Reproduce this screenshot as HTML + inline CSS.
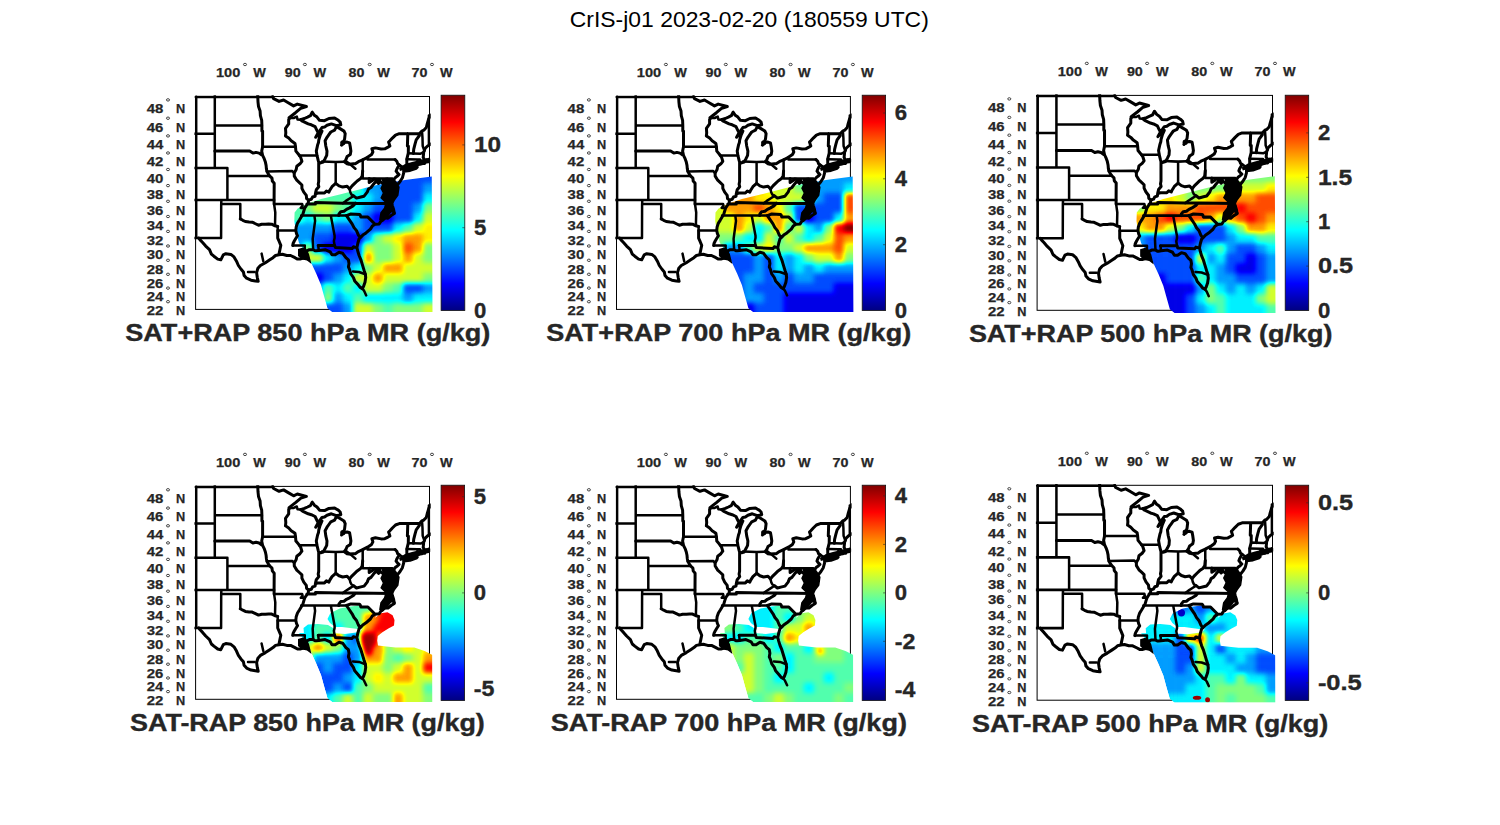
<!DOCTYPE html><html><head><meta charset="utf-8"><style>html,body{margin:0;padding:0;background:#fff;overflow:hidden}svg{display:block}text{font-family:"Liberation Sans",sans-serif}</style></head><body>
<svg width="1500" height="825" viewBox="0 0 1500 825">
<rect width="1500" height="825" fill="#fff"/>
<defs>
<linearGradient id="jet" x1="0" y1="1" x2="0" y2="0"><stop offset="0" stop-color="#000080"/><stop offset="0.125" stop-color="#0000ff"/><stop offset="0.375" stop-color="#00ffff"/><stop offset="0.625" stop-color="#ffff00"/><stop offset="0.875" stop-color="#ff0000"/><stop offset="1" stop-color="#800000"/></linearGradient>
<filter id="blr" x="-10%" y="-10%" width="120%" height="120%" color-interpolation-filters="sRGB"><feGaussianBlur stdDeviation="2.6"/><feComponentTransfer><feFuncR type="table" tableValues="0 0 0 0 0.5 1 1 1 0.5"/><feFuncG type="table" tableValues="0 0 0.5 1 1 1 0.5 0 0"/><feFuncB type="table" tableValues="0.5 1 1 1 0.5 0 0 0 0"/></feComponentTransfer></filter>
<clipPath id="mclip"><rect x="194.4" y="95.3" width="236.3" height="215.29999999999998"/></clipPath><g id="map" clip-path="url(#mclip)"><path d="M381.5,178.6 387.6,177.4 396.1,181.0 399.7,187.1 398.5,195.6 394.9,200.4 392.4,205.3 396.1,213.7 391.2,212.5 387.6,217.4 382.7,222.2 379.1,219.8 380.3,212.5 384.0,207.7 385.2,202.8 380.3,198.0 382.7,193.1 380.3,188.3 382.7,183.4Z M399.0,168.0 405.0,164.0 412.0,162.0 420.0,160.0 427.0,158.0 429.5,159.5 428.0,162.0 420.0,165.0 412.0,167.5 405.0,169.5 400.0,171.0Z M298.0,249.0 303.0,247.5 307.0,250.0 309.0,254.0 311.5,264.0 307.0,260.5 302.0,259.5 298.0,256.0Z" fill="#000"/><circle cx="342.8" cy="142.8" r="2.6" fill="#000"/><path d="M214.8,95.1 214.8,167.9 M193.2,133.7 214.8,133.7 M214.8,125.4 261.9,125.4 M193.2,167.9 227.4,167.9 227.4,200.1 M227.4,176.1 269.8,176.1 M193.2,200.1 274.1,200.1 M221.4,200.1 221.2,204.0 221.1,238.0 198.7,238.0 193.2,238.0 M221.2,204.0 240.3,204.0 240.3,218.9 M262.6,146.8 295.5,146.8 M266.9,171.4 292.3,171.1 294.2,173.0 M274.1,204.0 302.2,204.0 302.6,205.8 300.8,207.9 304.8,207.9 M274.1,204.0 275.3,212.5 275.0,225.8 M277.7,226.5 277.7,230.5 295.8,230.5 M292.8,245.4 304.8,245.4 304.7,248.3 305.6,251.2 M299.1,155.4 317.0,155.4 M335.7,183.4 335.7,162.1 322.0,161.6 M335.7,162.1 344.3,161.8 M362.7,159.6 362.7,178.4 M367.5,157.3 367.5,159.6 395.1,159.6 M399.3,164.9 404.3,168.0 M362.7,178.4 392.4,178.4 392.4,188.6 397.1,188.6 M353.6,195.9 351.5,194.6 350.3,192.2 349.6,189.0 M353.6,195.9 349.6,198.5 345.9,200.9 342.8,203.2 M301.2,215.6 338.8,215.6 346.5,215.6 M314.4,215.6 315.1,220.9 312.7,238.8 313.2,249.7 M330.8,215.6 334.6,235.8 334.6,238.0 333.9,241.0 334.6,245.4 M318.2,245.4 318.8,250.5 M408.3,153.3 413.4,153.4 420.6,153.7 423.7,152.2 M422.0,131.0 422.5,138.1 422.7,146.0 424.4,150.7 M406.8,159.2 417.5,159.4 420.1,159.4 421.8,163.8 M417.5,159.4 417.5,165.3 M300.6,119.7 297.5,119.4 296.8,116.6 293.7,118.0 289.9,118.0 M362.5,288.5 364.2,291.0 366.2,295.4 M196.2,96.5 196.2,238.0 M195.6,97.0 272.7,97.0 M428.9,115.5 428.9,144.0 M353.0,271.5 359.0,272.0 365.5,274.3 M345.7,160.9 350.5,164.5 355.4,168.7 M254.6,272.1 248.0,272.1 M263.3,261.2 261.6,253.6" fill="none" stroke="#000" stroke-width="2.5" stroke-linejoin="round" stroke-linecap="round"/><path d="M214.8,151.1 249.7,151.1 252.9,153.1 256.0,152.4 259.1,153.1 261.5,154.9 262.6,155.4 M240.3,218.9 242.8,220.3 245.3,221.5 249.1,222.0 252.2,222.2 256.0,224.0 258.5,225.2 261.7,224.3 265.4,224.3 268.6,224.0 271.7,224.2 275.0,225.8 277.7,226.5 M269.8,176.1 272.0,178.2 272.3,181.0 274.2,183.3 274.1,200.1 274.1,204.0 M262.6,155.4 264.2,158.7 265.4,162.1 266.1,165.4 266.4,168.8 266.9,171.4 268.6,174.5 269.8,176.1 M261.9,125.4 261.9,131.1 262.6,131.1 262.6,146.8 261.7,151.1 262.6,155.4 M257.7,95.1 258.0,101.8 258.5,106.5 260.1,111.1 260.4,115.7 261.7,120.3 261.9,125.4 M277.7,230.5 277.7,238.1 279.3,241.7 280.8,245.4 279.9,249.7 279.3,252.6 278.9,254.8 M285.5,135.9 288.7,138.1 291.2,140.8 295.0,143.4 295.5,146.8 295.9,151.1 298.7,154.5 300.6,157.1 301.9,161.3 300.0,163.8 296.8,166.3 296.2,169.6 294.2,173.0 294.3,176.1 296.8,180.2 299.4,182.6 301.9,185.0 301.9,188.3 303.8,192.2 306.3,195.4 306.6,198.5 308.6,200.1 308.2,203.2 306.3,205.6 304.8,207.9 303.8,211.0 302.8,214.4 301.2,217.1 299.4,220.1 297.5,223.1 296.2,226.9 295.8,230.5 296.5,233.6 297.5,235.8 295.6,238.8 294.3,241.0 293.1,243.5 292.8,245.4 M289.9,118.0 288.7,119.4 288.7,123.9 285.5,128.4 285.8,132.8 285.5,135.9 M318.7,161.6 318.7,181.4 318.2,184.2 318.8,186.7 316.3,189.8 315.7,192.2 315.4,193.8 M308.6,200.1 311.3,199.3 312.6,197.0 315.1,196.2 315.4,193.8 318.2,193.0 322.0,193.0 324.5,193.0 326.4,191.0 328.9,192.2 329.8,190.2 332.0,186.7 335.7,183.4 339.0,185.9 342.7,187.1 347.1,186.3 349.6,189.0 352.1,185.9 354.7,183.4 357.2,181.0 360.6,178.6 362.2,176.1 362.7,170.9 M395.1,159.6 396.8,161.3 397.7,163.8 399.3,164.9 398.0,167.1 396.8,169.2 396.1,171.2 397.4,172.9 399.0,174.5 397.4,176.1 395.5,177.4 393.9,179.4 M369.2,178.4 369.2,182.6 372.3,180.6 373.7,179.0 376.7,179.4 379.8,180.2 380.3,181.7 M380.3,181.7 378.5,183.4 376.3,181.0 373.5,184.2 371.0,187.5 368.5,189.0 367.2,192.2 364.1,196.2 360.9,197.0 356.5,198.1 353.6,195.9 M306.9,204.0 315.4,204.0 315.4,202.6 342.8,203.2 355.6,203.2 391.9,203.6 M355.6,203.2 353.4,205.6 349.6,207.9 346.5,209.4 344.0,211.3 340.8,211.7 339.0,214.0 338.8,215.6 M346.5,215.6 350.9,214.0 359.7,214.4 360.3,215.2 360.9,217.1 367.9,217.1 375.1,224.3 M346.5,215.6 349.0,219.4 352.1,223.9 354.0,227.6 356.5,230.6 358.4,235.1 360.3,237.7 M318.2,245.4 334.6,245.4 335.4,247.6 352.1,248.5 353.4,246.8 355.0,247.2 356.9,247.6 M380.3,181.7 381.7,182.6 383.6,184.2 384.5,185.9 383.6,188.3 384.8,189.8 388.0,191.4 389.2,192.6 M399.3,133.7 419.4,133.6 422.0,131.0 423.8,130.2 426.3,127.5 427.2,123.9 428.8,118.5 431.3,114.8 M407.8,133.6 407.4,146.0 408.4,146.2 408.3,153.2 406.8,159.2 406.9,165.4 405.8,167.9 M413.4,153.4 413.7,149.4 415.0,144.2 416.2,139.9 419.4,135.5 419.4,133.6 M399.3,133.7 395.5,135.1 392.4,138.1 389.9,140.8 388.6,142.1 389.9,146.0 388.0,147.2 384.8,148.8 381.1,149.0 375.4,147.9 371.9,148.8 372.9,152.0 371.6,154.5 367.5,157.3 M344.3,161.8 347.1,163.8 349.0,164.2 353.4,163.8 355.3,163.8 358.4,161.7 362.7,159.8 367.5,157.3 M300.6,119.7 302.5,121.2 308.2,123.9 311.3,124.8 315.1,126.6 317.0,130.6 318.2,132.8 315.7,137.3 318.2,134.6 322.0,131.1 320.1,135.5 318.8,139.9 318.5,142.5 317.6,145.1 316.3,151.1 317.0,155.4 318.2,160.4 318.7,162.1 320.7,162.9 323.2,162.1 325.1,158.7 326.7,155.4 327.0,151.1 325.8,146.0 325.1,140.8 327.0,137.3 328.9,134.6 330.8,132.0 334.6,130.2 336.4,126.6 M336.4,126.6 339.6,128.4 344.0,131.1 345.2,133.7 344.6,139.0 343.3,142.5 341.5,145.1 344.0,142.5 347.1,142.1 349.6,142.9 350.3,146.8 350.9,151.1 350.3,154.5 347.1,156.6 345.9,159.6 344.3,161.8 M338.3,120.3 340.2,122.1 340.8,124.8 336.4,125.7 331.4,123.9 327.0,125.3 324.5,127.1 322.0,127.5 318.2,132.8 M338.3,120.3 334.6,118.0 328.9,118.5 324.5,120.7 319.5,120.3 317.0,117.1 314.4,115.3 312.2,112.2 310.4,115.7 307.5,117.1 304.4,118.5 300.6,119.7 M198.7,238.0 200.1,239.9 202.6,242.5 205.7,246.1 209.5,249.7 211.4,254.1 213.9,256.2 217.7,259.1 220.8,259.8 223.3,254.8 225.8,253.7 230.9,254.4 234.0,256.9 236.5,261.2 238.4,265.5 240.9,269.0 243.4,271.9 244.1,275.4 246.6,278.2 251.0,280.2 255.4,280.9 258.2,281.3 M258.2,281.3 257.3,277.5 256.6,272.6 257.9,268.3 260.4,265.5 265.4,262.7 269.8,259.8 273.0,257.7 275.5,255.5 278.9,254.8 282.4,254.3 286.8,255.5 290.6,255.5 295.0,257.7 297.5,259.1 300.0,259.1 302.5,258.4 305.6,257.7 308.2,259.1 306.9,256.2 305.0,253.3 306.3,251.2 309.4,249.7 313.2,249.7 315.1,250.8 316.3,250.8 318.8,250.5 325.1,249.7 330.2,251.9 332.0,254.8 335.2,254.8 339.0,252.3 342.7,253.3 345.9,257.7 348.4,259.8 349.0,263.4 348.4,266.9 349.6,269.7 350.9,274.0 353.4,277.5 354.7,280.9 358.4,285.1 360.3,287.5 362.2,288.6 363.5,286.5 365.0,282.3 365.7,277.5 365.3,274.0 364.1,270.4 362.2,264.1 360.9,259.8 359.1,255.5 357.8,251.2 356.9,247.6 357.8,243.2 359.1,238.8 360.3,237.7 362.8,235.1 366.0,232.9 370.4,229.1 372.3,226.1 375.1,224.3 379.2,223.9 381.1,220.9 384.8,217.8 388.0,218.2 391.1,215.6 394.3,213.6 393.6,209.4 392.4,205.6 391.9,203.6 391.4,200.9 389.2,200.1 388.6,197.0 389.2,192.6 M391.4,198.9 393.6,195.4 395.5,192.2 397.1,188.6 396.8,185.9 394.3,182.6 393.9,179.4 M391.4,198.9 391.1,196.2 391.7,193.0 390.5,189.8 389.2,186.7 389.9,183.4 391.1,180.2 389.2,181.8 388.0,184.2 388.0,187.5 388.6,189.8 389.2,192.6 M397.4,184.8 399.9,181.8 402.4,177.8 403.7,172.9 403.7,170.4 404.3,168.0 M403.7,171.2 410.0,170.4 416.2,168.3 417.2,167.3 413.1,167.9 406.2,168.8 403.7,171.2 M405.8,167.9 410.0,166.3 414.4,165.4 417.2,165.2 420.0,164.2 421.8,163.8 423.2,163.4 424.7,163.4 425.7,162.1 428.8,161.7 428.8,159.2 425.7,161.3 424.4,159.6 423.2,157.5 423.5,154.5 423.7,152.2 424.4,150.7 425.0,148.5 427.6,146.0 432.0,143.4 M272.7,96.5 273.6,98.6 279.1,101.4 283.6,100.0 288.2,102.7 293.6,105.9 297.3,104.1 306.4,106.5 300.9,108.2 295.5,112.7 289.1,117.7" fill="none" stroke="#000" stroke-width="3.0" stroke-linejoin="round" stroke-linecap="round"/></g>
</defs>
<text x="569.8" y="27.2" font-size="22.2" fill="#000" textLength="359" lengthAdjust="spacingAndGlyphs">CrIS-j01 2023-02-20 (180559 UTC)</text>
<rect x="195.6" y="96.5" width="233.9" height="212.9" fill="none" stroke="#000" stroke-width="1"/>
<g transform="matrix(1.00000 0 0 1.00000 0.000 0.000)">
<clipPath id="sw1"><polygon points="431.8,176.5 405.0,180.0 377.0,185.1 358.3,189.8 339.7,194.5 321.0,199.1 307.0,203.8 297.7,208.5 294.6,212.5 294.3,221.0 296.0,232.0 299.0,243.0 303.5,249.0 307.5,254.0 310.7,261.7 316.3,273.8 321.0,285.0 323.8,295.3 327.5,308.3 332.2,312.0 432.5,312.0"/></clipPath><g clip-path="url(#sw1)"><g><g filter="url(#blr)"><rect x="283" y="163" width="10.5" height="10.5" fill="#747474"/><rect x="293" y="163" width="10.5" height="10.5" fill="#747474"/><rect x="303" y="163" width="10.5" height="10.5" fill="#747474"/><rect x="313" y="163" width="10.5" height="10.5" fill="#747474"/><rect x="323" y="163" width="10.5" height="10.5" fill="#747474"/><rect x="333" y="163" width="10.5" height="10.5" fill="#747474"/><rect x="343" y="163" width="10.5" height="10.5" fill="#747474"/><rect x="353" y="163" width="10.5" height="10.5" fill="#747474"/><rect x="363" y="163" width="10.5" height="10.5" fill="#747474"/><rect x="373" y="163" width="10.5" height="10.5" fill="#333333"/><rect x="383" y="163" width="10.5" height="10.5" fill="#333333"/><rect x="393" y="163" width="10.5" height="10.5" fill="#333333"/><rect x="403" y="163" width="10.5" height="10.5" fill="#333333"/><rect x="413" y="163" width="10.5" height="10.5" fill="#333333"/><rect x="423" y="163" width="10.5" height="10.5" fill="#333333"/><rect x="433" y="163" width="10.5" height="10.5" fill="#333333"/><rect x="283" y="173" width="10.5" height="10.5" fill="#747474"/><rect x="293" y="173" width="10.5" height="10.5" fill="#747474"/><rect x="303" y="173" width="10.5" height="10.5" fill="#747474"/><rect x="313" y="173" width="10.5" height="10.5" fill="#747474"/><rect x="323" y="173" width="10.5" height="10.5" fill="#747474"/><rect x="333" y="173" width="10.5" height="10.5" fill="#747474"/><rect x="343" y="173" width="10.5" height="10.5" fill="#747474"/><rect x="353" y="173" width="10.5" height="10.5" fill="#747474"/><rect x="363" y="173" width="10.5" height="10.5" fill="#747474"/><rect x="373" y="173" width="10.5" height="10.5" fill="#333333"/><rect x="383" y="173" width="10.5" height="10.5" fill="#333333"/><rect x="393" y="173" width="10.5" height="10.5" fill="#333333"/><rect x="403" y="173" width="10.5" height="10.5" fill="#333333"/><rect x="413" y="173" width="10.5" height="10.5" fill="#333333"/><rect x="423" y="173" width="10.5" height="10.5" fill="#333333"/><rect x="433" y="173" width="10.5" height="10.5" fill="#333333"/><rect x="283" y="183" width="10.5" height="10.5" fill="#747474"/><rect x="293" y="183" width="10.5" height="10.5" fill="#747474"/><rect x="303" y="183" width="10.5" height="10.5" fill="#747474"/><rect x="313" y="183" width="10.5" height="10.5" fill="#747474"/><rect x="323" y="183" width="10.5" height="10.5" fill="#747474"/><rect x="333" y="183" width="10.5" height="10.5" fill="#747474"/><rect x="343" y="183" width="10.5" height="10.5" fill="#747474"/><rect x="353" y="183" width="10.5" height="10.5" fill="#747474"/><rect x="363" y="183" width="10.5" height="10.5" fill="#474747"/><rect x="373" y="183" width="10.5" height="10.5" fill="#474747"/><rect x="383" y="183" width="10.5" height="10.5" fill="#333333"/><rect x="393" y="183" width="10.5" height="10.5" fill="#333333"/><rect x="403" y="183" width="10.5" height="10.5" fill="#333333"/><rect x="413" y="183" width="10.5" height="10.5" fill="#333333"/><rect x="423" y="183" width="10.5" height="10.5" fill="#474747"/><rect x="433" y="183" width="10.5" height="10.5" fill="#474747"/><rect x="283" y="193" width="10.5" height="10.5" fill="#747474"/><rect x="293" y="193" width="10.5" height="10.5" fill="#747474"/><rect x="303" y="193" width="10.5" height="10.5" fill="#747474"/><rect x="313" y="193" width="10.5" height="10.5" fill="#747474"/><rect x="323" y="193" width="10.5" height="10.5" fill="#747474"/><rect x="333" y="193" width="10.5" height="10.5" fill="#747474"/><rect x="343" y="193" width="10.5" height="10.5" fill="#747474"/><rect x="353" y="193" width="10.5" height="10.5" fill="#5c5c5c"/><rect x="363" y="193" width="10.5" height="10.5" fill="#5c5c5c"/><rect x="373" y="193" width="10.5" height="10.5" fill="#474747"/><rect x="383" y="193" width="10.5" height="10.5" fill="#333333"/><rect x="393" y="193" width="10.5" height="10.5" fill="#333333"/><rect x="403" y="193" width="10.5" height="10.5" fill="#333333"/><rect x="413" y="193" width="10.5" height="10.5" fill="#333333"/><rect x="423" y="193" width="10.5" height="10.5" fill="#5c5c5c"/><rect x="433" y="193" width="10.5" height="10.5" fill="#5c5c5c"/><rect x="283" y="203" width="10.5" height="10.5" fill="#747474"/><rect x="293" y="203" width="10.5" height="10.5" fill="#747474"/><rect x="303" y="203" width="10.5" height="10.5" fill="#808080"/><rect x="313" y="203" width="10.5" height="10.5" fill="#949494"/><rect x="323" y="203" width="10.5" height="10.5" fill="#949494"/><rect x="333" y="203" width="10.5" height="10.5" fill="#808080"/><rect x="343" y="203" width="10.5" height="10.5" fill="#747474"/><rect x="353" y="203" width="10.5" height="10.5" fill="#5c5c5c"/><rect x="363" y="203" width="10.5" height="10.5" fill="#474747"/><rect x="373" y="203" width="10.5" height="10.5" fill="#333333"/><rect x="383" y="203" width="10.5" height="10.5" fill="#333333"/><rect x="393" y="203" width="10.5" height="10.5" fill="#333333"/><rect x="403" y="203" width="10.5" height="10.5" fill="#333333"/><rect x="413" y="203" width="10.5" height="10.5" fill="#474747"/><rect x="423" y="203" width="10.5" height="10.5" fill="#808080"/><rect x="433" y="203" width="10.5" height="10.5" fill="#808080"/><rect x="283" y="213" width="10.5" height="10.5" fill="#747474"/><rect x="293" y="213" width="10.5" height="10.5" fill="#747474"/><rect x="303" y="213" width="10.5" height="10.5" fill="#5c5c5c"/><rect x="313" y="213" width="10.5" height="10.5" fill="#747474"/><rect x="323" y="213" width="10.5" height="10.5" fill="#808080"/><rect x="333" y="213" width="10.5" height="10.5" fill="#5c5c5c"/><rect x="343" y="213" width="10.5" height="10.5" fill="#5c5c5c"/><rect x="353" y="213" width="10.5" height="10.5" fill="#474747"/><rect x="363" y="213" width="10.5" height="10.5" fill="#333333"/><rect x="373" y="213" width="10.5" height="10.5" fill="#1a1a1a"/><rect x="383" y="213" width="10.5" height="10.5" fill="#1a1a1a"/><rect x="393" y="213" width="10.5" height="10.5" fill="#333333"/><rect x="403" y="213" width="10.5" height="10.5" fill="#333333"/><rect x="413" y="213" width="10.5" height="10.5" fill="#5c5c5c"/><rect x="423" y="213" width="10.5" height="10.5" fill="#949494"/><rect x="433" y="213" width="10.5" height="10.5" fill="#949494"/><rect x="283" y="223" width="10.5" height="10.5" fill="#474747"/><rect x="293" y="223" width="10.5" height="10.5" fill="#474747"/><rect x="303" y="223" width="10.5" height="10.5" fill="#474747"/><rect x="313" y="223" width="10.5" height="10.5" fill="#474747"/><rect x="323" y="223" width="10.5" height="10.5" fill="#474747"/><rect x="333" y="223" width="10.5" height="10.5" fill="#333333"/><rect x="343" y="223" width="10.5" height="10.5" fill="#333333"/><rect x="353" y="223" width="10.5" height="10.5" fill="#474747"/><rect x="363" y="223" width="10.5" height="10.5" fill="#333333"/><rect x="373" y="223" width="10.5" height="10.5" fill="#333333"/><rect x="383" y="223" width="10.5" height="10.5" fill="#333333"/><rect x="393" y="223" width="10.5" height="10.5" fill="#5c5c5c"/><rect x="403" y="223" width="10.5" height="10.5" fill="#747474"/><rect x="413" y="223" width="10.5" height="10.5" fill="#949494"/><rect x="423" y="223" width="10.5" height="10.5" fill="#a3a3a3"/><rect x="433" y="223" width="10.5" height="10.5" fill="#a3a3a3"/><rect x="283" y="233" width="10.5" height="10.5" fill="#474747"/><rect x="293" y="233" width="10.5" height="10.5" fill="#474747"/><rect x="303" y="233" width="10.5" height="10.5" fill="#474747"/><rect x="313" y="233" width="10.5" height="10.5" fill="#333333"/><rect x="323" y="233" width="10.5" height="10.5" fill="#333333"/><rect x="333" y="233" width="10.5" height="10.5" fill="#1a1a1a"/><rect x="343" y="233" width="10.5" height="10.5" fill="#1a1a1a"/><rect x="353" y="233" width="10.5" height="10.5" fill="#1a1a1a"/><rect x="363" y="233" width="10.5" height="10.5" fill="#474747"/><rect x="373" y="233" width="10.5" height="10.5" fill="#808080"/><rect x="383" y="233" width="10.5" height="10.5" fill="#949494"/><rect x="393" y="233" width="10.5" height="10.5" fill="#a3a3a3"/><rect x="403" y="233" width="10.5" height="10.5" fill="#b8b8b8"/><rect x="413" y="233" width="10.5" height="10.5" fill="#b8b8b8"/><rect x="423" y="233" width="10.5" height="10.5" fill="#a3a3a3"/><rect x="433" y="233" width="10.5" height="10.5" fill="#a3a3a3"/><rect x="283" y="243" width="10.5" height="10.5" fill="#474747"/><rect x="293" y="243" width="10.5" height="10.5" fill="#474747"/><rect x="303" y="243" width="10.5" height="10.5" fill="#808080"/><rect x="313" y="243" width="10.5" height="10.5" fill="#333333"/><rect x="323" y="243" width="10.5" height="10.5" fill="#1a1a1a"/><rect x="333" y="243" width="10.5" height="10.5" fill="#1a1a1a"/><rect x="343" y="243" width="10.5" height="10.5" fill="#1a1a1a"/><rect x="353" y="243" width="10.5" height="10.5" fill="#333333"/><rect x="363" y="243" width="10.5" height="10.5" fill="#949494"/><rect x="373" y="243" width="10.5" height="10.5" fill="#808080"/><rect x="383" y="243" width="10.5" height="10.5" fill="#808080"/><rect x="393" y="243" width="10.5" height="10.5" fill="#949494"/><rect x="403" y="243" width="10.5" height="10.5" fill="#cccccc"/><rect x="413" y="243" width="10.5" height="10.5" fill="#b8b8b8"/><rect x="423" y="243" width="10.5" height="10.5" fill="#808080"/><rect x="433" y="243" width="10.5" height="10.5" fill="#808080"/><rect x="283" y="253" width="10.5" height="10.5" fill="#808080"/><rect x="293" y="253" width="10.5" height="10.5" fill="#808080"/><rect x="303" y="253" width="10.5" height="10.5" fill="#949494"/><rect x="313" y="253" width="10.5" height="10.5" fill="#949494"/><rect x="323" y="253" width="10.5" height="10.5" fill="#5c5c5c"/><rect x="333" y="253" width="10.5" height="10.5" fill="#474747"/><rect x="343" y="253" width="10.5" height="10.5" fill="#333333"/><rect x="353" y="253" width="10.5" height="10.5" fill="#333333"/><rect x="363" y="253" width="10.5" height="10.5" fill="#b8b8b8"/><rect x="373" y="253" width="10.5" height="10.5" fill="#808080"/><rect x="383" y="253" width="10.5" height="10.5" fill="#808080"/><rect x="393" y="253" width="10.5" height="10.5" fill="#949494"/><rect x="403" y="253" width="10.5" height="10.5" fill="#b8b8b8"/><rect x="413" y="253" width="10.5" height="10.5" fill="#949494"/><rect x="423" y="253" width="10.5" height="10.5" fill="#808080"/><rect x="433" y="253" width="10.5" height="10.5" fill="#808080"/><rect x="283" y="263" width="10.5" height="10.5" fill="#949494"/><rect x="293" y="263" width="10.5" height="10.5" fill="#949494"/><rect x="303" y="263" width="10.5" height="10.5" fill="#333333"/><rect x="313" y="263" width="10.5" height="10.5" fill="#333333"/><rect x="323" y="263" width="10.5" height="10.5" fill="#333333"/><rect x="333" y="263" width="10.5" height="10.5" fill="#333333"/><rect x="343" y="263" width="10.5" height="10.5" fill="#474747"/><rect x="353" y="263" width="10.5" height="10.5" fill="#5c5c5c"/><rect x="363" y="263" width="10.5" height="10.5" fill="#808080"/><rect x="373" y="263" width="10.5" height="10.5" fill="#949494"/><rect x="383" y="263" width="10.5" height="10.5" fill="#b8b8b8"/><rect x="393" y="263" width="10.5" height="10.5" fill="#b8b8b8"/><rect x="403" y="263" width="10.5" height="10.5" fill="#949494"/><rect x="413" y="263" width="10.5" height="10.5" fill="#949494"/><rect x="423" y="263" width="10.5" height="10.5" fill="#949494"/><rect x="433" y="263" width="10.5" height="10.5" fill="#949494"/><rect x="283" y="273" width="10.5" height="10.5" fill="#333333"/><rect x="293" y="273" width="10.5" height="10.5" fill="#333333"/><rect x="303" y="273" width="10.5" height="10.5" fill="#333333"/><rect x="313" y="273" width="10.5" height="10.5" fill="#1a1a1a"/><rect x="323" y="273" width="10.5" height="10.5" fill="#333333"/><rect x="333" y="273" width="10.5" height="10.5" fill="#474747"/><rect x="343" y="273" width="10.5" height="10.5" fill="#5c5c5c"/><rect x="353" y="273" width="10.5" height="10.5" fill="#949494"/><rect x="363" y="273" width="10.5" height="10.5" fill="#949494"/><rect x="373" y="273" width="10.5" height="10.5" fill="#b8b8b8"/><rect x="383" y="273" width="10.5" height="10.5" fill="#949494"/><rect x="393" y="273" width="10.5" height="10.5" fill="#949494"/><rect x="403" y="273" width="10.5" height="10.5" fill="#949494"/><rect x="413" y="273" width="10.5" height="10.5" fill="#949494"/><rect x="423" y="273" width="10.5" height="10.5" fill="#808080"/><rect x="433" y="273" width="10.5" height="10.5" fill="#808080"/><rect x="283" y="283" width="10.5" height="10.5" fill="#333333"/><rect x="293" y="283" width="10.5" height="10.5" fill="#333333"/><rect x="303" y="283" width="10.5" height="10.5" fill="#1a1a1a"/><rect x="313" y="283" width="10.5" height="10.5" fill="#474747"/><rect x="323" y="283" width="10.5" height="10.5" fill="#747474"/><rect x="333" y="283" width="10.5" height="10.5" fill="#5c5c5c"/><rect x="343" y="283" width="10.5" height="10.5" fill="#747474"/><rect x="353" y="283" width="10.5" height="10.5" fill="#5c5c5c"/><rect x="363" y="283" width="10.5" height="10.5" fill="#949494"/><rect x="373" y="283" width="10.5" height="10.5" fill="#949494"/><rect x="383" y="283" width="10.5" height="10.5" fill="#808080"/><rect x="393" y="283" width="10.5" height="10.5" fill="#747474"/><rect x="403" y="283" width="10.5" height="10.5" fill="#333333"/><rect x="413" y="283" width="10.5" height="10.5" fill="#333333"/><rect x="423" y="283" width="10.5" height="10.5" fill="#474747"/><rect x="433" y="283" width="10.5" height="10.5" fill="#474747"/><rect x="283" y="293" width="10.5" height="10.5" fill="#1a1a1a"/><rect x="293" y="293" width="10.5" height="10.5" fill="#1a1a1a"/><rect x="303" y="293" width="10.5" height="10.5" fill="#474747"/><rect x="313" y="293" width="10.5" height="10.5" fill="#474747"/><rect x="323" y="293" width="10.5" height="10.5" fill="#808080"/><rect x="333" y="293" width="10.5" height="10.5" fill="#474747"/><rect x="343" y="293" width="10.5" height="10.5" fill="#5c5c5c"/><rect x="353" y="293" width="10.5" height="10.5" fill="#747474"/><rect x="363" y="293" width="10.5" height="10.5" fill="#5c5c5c"/><rect x="373" y="293" width="10.5" height="10.5" fill="#5c5c5c"/><rect x="383" y="293" width="10.5" height="10.5" fill="#5c5c5c"/><rect x="393" y="293" width="10.5" height="10.5" fill="#5c5c5c"/><rect x="403" y="293" width="10.5" height="10.5" fill="#474747"/><rect x="413" y="293" width="10.5" height="10.5" fill="#5c5c5c"/><rect x="423" y="293" width="10.5" height="10.5" fill="#5c5c5c"/><rect x="433" y="293" width="10.5" height="10.5" fill="#5c5c5c"/><rect x="283" y="303" width="10.5" height="10.5" fill="#474747"/><rect x="293" y="303" width="10.5" height="10.5" fill="#474747"/><rect x="303" y="303" width="10.5" height="10.5" fill="#474747"/><rect x="313" y="303" width="10.5" height="10.5" fill="#808080"/><rect x="323" y="303" width="10.5" height="10.5" fill="#333333"/><rect x="333" y="303" width="10.5" height="10.5" fill="#333333"/><rect x="343" y="303" width="10.5" height="10.5" fill="#474747"/><rect x="353" y="303" width="10.5" height="10.5" fill="#949494"/><rect x="363" y="303" width="10.5" height="10.5" fill="#949494"/><rect x="373" y="303" width="10.5" height="10.5" fill="#808080"/><rect x="383" y="303" width="10.5" height="10.5" fill="#747474"/><rect x="393" y="303" width="10.5" height="10.5" fill="#808080"/><rect x="403" y="303" width="10.5" height="10.5" fill="#808080"/><rect x="413" y="303" width="10.5" height="10.5" fill="#808080"/><rect x="423" y="303" width="10.5" height="10.5" fill="#949494"/><rect x="433" y="303" width="10.5" height="10.5" fill="#949494"/><rect x="283" y="313" width="10.5" height="10.5" fill="#474747"/><rect x="293" y="313" width="10.5" height="10.5" fill="#474747"/><rect x="303" y="313" width="10.5" height="10.5" fill="#474747"/><rect x="313" y="313" width="10.5" height="10.5" fill="#808080"/><rect x="323" y="313" width="10.5" height="10.5" fill="#333333"/><rect x="333" y="313" width="10.5" height="10.5" fill="#333333"/><rect x="343" y="313" width="10.5" height="10.5" fill="#474747"/><rect x="353" y="313" width="10.5" height="10.5" fill="#949494"/><rect x="363" y="313" width="10.5" height="10.5" fill="#949494"/><rect x="373" y="313" width="10.5" height="10.5" fill="#808080"/><rect x="383" y="313" width="10.5" height="10.5" fill="#747474"/><rect x="393" y="313" width="10.5" height="10.5" fill="#808080"/><rect x="403" y="313" width="10.5" height="10.5" fill="#808080"/><rect x="413" y="313" width="10.5" height="10.5" fill="#808080"/><rect x="423" y="313" width="10.5" height="10.5" fill="#949494"/><rect x="433" y="313" width="10.5" height="10.5" fill="#949494"/></g></g></g>
</g>
<g transform="matrix(1.00000 0 0 1.00000 0.000 0.000)"><use href="#map"/></g>
<text x="163.3" y="113.2" font-size="13.2" font-weight="bold" fill="#262626" stroke="#262626" stroke-width="0.25" text-anchor="end" textLength="16.6" lengthAdjust="spacingAndGlyphs">48</text>
<ellipse cx="168.0" cy="99.9" rx="1.55" ry="1.2" fill="none" stroke="#262626" stroke-width="0.85"/>
<text x="176.0" y="113.2" font-size="13.2" font-weight="bold" fill="#262626" stroke="#262626" stroke-width="0.25" textLength="9.2" lengthAdjust="spacingAndGlyphs">N</text>
<text x="163.3" y="131.5" font-size="13.2" font-weight="bold" fill="#262626" stroke="#262626" stroke-width="0.25" text-anchor="end" textLength="16.6" lengthAdjust="spacingAndGlyphs">46</text>
<ellipse cx="168.0" cy="118.2" rx="1.55" ry="1.2" fill="none" stroke="#262626" stroke-width="0.85"/>
<text x="176.0" y="131.5" font-size="13.2" font-weight="bold" fill="#262626" stroke="#262626" stroke-width="0.25" textLength="9.2" lengthAdjust="spacingAndGlyphs">N</text>
<text x="163.3" y="149.2" font-size="13.2" font-weight="bold" fill="#262626" stroke="#262626" stroke-width="0.25" text-anchor="end" textLength="16.6" lengthAdjust="spacingAndGlyphs">44</text>
<ellipse cx="168.0" cy="135.9" rx="1.55" ry="1.2" fill="none" stroke="#262626" stroke-width="0.85"/>
<text x="176.0" y="149.2" font-size="13.2" font-weight="bold" fill="#262626" stroke="#262626" stroke-width="0.25" textLength="9.2" lengthAdjust="spacingAndGlyphs">N</text>
<text x="163.3" y="166.3" font-size="13.2" font-weight="bold" fill="#262626" stroke="#262626" stroke-width="0.25" text-anchor="end" textLength="16.6" lengthAdjust="spacingAndGlyphs">42</text>
<ellipse cx="168.0" cy="153.0" rx="1.55" ry="1.2" fill="none" stroke="#262626" stroke-width="0.85"/>
<text x="176.0" y="166.3" font-size="13.2" font-weight="bold" fill="#262626" stroke="#262626" stroke-width="0.25" textLength="9.2" lengthAdjust="spacingAndGlyphs">N</text>
<text x="163.3" y="182.8" font-size="13.2" font-weight="bold" fill="#262626" stroke="#262626" stroke-width="0.25" text-anchor="end" textLength="16.6" lengthAdjust="spacingAndGlyphs">40</text>
<ellipse cx="168.0" cy="169.5" rx="1.55" ry="1.2" fill="none" stroke="#262626" stroke-width="0.85"/>
<text x="176.0" y="182.8" font-size="13.2" font-weight="bold" fill="#262626" stroke="#262626" stroke-width="0.25" textLength="9.2" lengthAdjust="spacingAndGlyphs">N</text>
<text x="163.3" y="198.9" font-size="13.2" font-weight="bold" fill="#262626" stroke="#262626" stroke-width="0.25" text-anchor="end" textLength="16.6" lengthAdjust="spacingAndGlyphs">38</text>
<ellipse cx="168.0" cy="185.6" rx="1.55" ry="1.2" fill="none" stroke="#262626" stroke-width="0.85"/>
<text x="176.0" y="198.9" font-size="13.2" font-weight="bold" fill="#262626" stroke="#262626" stroke-width="0.25" textLength="9.2" lengthAdjust="spacingAndGlyphs">N</text>
<text x="163.3" y="214.6" font-size="13.2" font-weight="bold" fill="#262626" stroke="#262626" stroke-width="0.25" text-anchor="end" textLength="16.6" lengthAdjust="spacingAndGlyphs">36</text>
<ellipse cx="168.0" cy="201.3" rx="1.55" ry="1.2" fill="none" stroke="#262626" stroke-width="0.85"/>
<text x="176.0" y="214.6" font-size="13.2" font-weight="bold" fill="#262626" stroke="#262626" stroke-width="0.25" textLength="9.2" lengthAdjust="spacingAndGlyphs">N</text>
<text x="163.3" y="229.8" font-size="13.2" font-weight="bold" fill="#262626" stroke="#262626" stroke-width="0.25" text-anchor="end" textLength="16.6" lengthAdjust="spacingAndGlyphs">34</text>
<ellipse cx="168.0" cy="216.5" rx="1.55" ry="1.2" fill="none" stroke="#262626" stroke-width="0.85"/>
<text x="176.0" y="229.8" font-size="13.2" font-weight="bold" fill="#262626" stroke="#262626" stroke-width="0.25" textLength="9.2" lengthAdjust="spacingAndGlyphs">N</text>
<text x="163.3" y="244.7" font-size="13.2" font-weight="bold" fill="#262626" stroke="#262626" stroke-width="0.25" text-anchor="end" textLength="16.6" lengthAdjust="spacingAndGlyphs">32</text>
<ellipse cx="168.0" cy="231.4" rx="1.55" ry="1.2" fill="none" stroke="#262626" stroke-width="0.85"/>
<text x="176.0" y="244.7" font-size="13.2" font-weight="bold" fill="#262626" stroke="#262626" stroke-width="0.25" textLength="9.2" lengthAdjust="spacingAndGlyphs">N</text>
<text x="163.3" y="259.3" font-size="13.2" font-weight="bold" fill="#262626" stroke="#262626" stroke-width="0.25" text-anchor="end" textLength="16.6" lengthAdjust="spacingAndGlyphs">30</text>
<ellipse cx="168.0" cy="246.0" rx="1.55" ry="1.2" fill="none" stroke="#262626" stroke-width="0.85"/>
<text x="176.0" y="259.3" font-size="13.2" font-weight="bold" fill="#262626" stroke="#262626" stroke-width="0.25" textLength="9.2" lengthAdjust="spacingAndGlyphs">N</text>
<text x="163.3" y="273.6" font-size="13.2" font-weight="bold" fill="#262626" stroke="#262626" stroke-width="0.25" text-anchor="end" textLength="16.6" lengthAdjust="spacingAndGlyphs">28</text>
<ellipse cx="168.0" cy="260.3" rx="1.55" ry="1.2" fill="none" stroke="#262626" stroke-width="0.85"/>
<text x="176.0" y="273.6" font-size="13.2" font-weight="bold" fill="#262626" stroke="#262626" stroke-width="0.25" textLength="9.2" lengthAdjust="spacingAndGlyphs">N</text>
<text x="163.3" y="287.6" font-size="13.2" font-weight="bold" fill="#262626" stroke="#262626" stroke-width="0.25" text-anchor="end" textLength="16.6" lengthAdjust="spacingAndGlyphs">26</text>
<ellipse cx="168.0" cy="274.3" rx="1.55" ry="1.2" fill="none" stroke="#262626" stroke-width="0.85"/>
<text x="176.0" y="287.6" font-size="13.2" font-weight="bold" fill="#262626" stroke="#262626" stroke-width="0.25" textLength="9.2" lengthAdjust="spacingAndGlyphs">N</text>
<text x="163.3" y="301.4" font-size="13.2" font-weight="bold" fill="#262626" stroke="#262626" stroke-width="0.25" text-anchor="end" textLength="16.6" lengthAdjust="spacingAndGlyphs">24</text>
<ellipse cx="168.0" cy="288.1" rx="1.55" ry="1.2" fill="none" stroke="#262626" stroke-width="0.85"/>
<text x="176.0" y="301.4" font-size="13.2" font-weight="bold" fill="#262626" stroke="#262626" stroke-width="0.25" textLength="9.2" lengthAdjust="spacingAndGlyphs">N</text>
<text x="163.3" y="315.0" font-size="13.2" font-weight="bold" fill="#262626" stroke="#262626" stroke-width="0.25" text-anchor="end" textLength="16.6" lengthAdjust="spacingAndGlyphs">22</text>
<ellipse cx="168.0" cy="301.7" rx="1.55" ry="1.2" fill="none" stroke="#262626" stroke-width="0.85"/>
<text x="176.0" y="315.0" font-size="13.2" font-weight="bold" fill="#262626" stroke="#262626" stroke-width="0.25" textLength="9.2" lengthAdjust="spacingAndGlyphs">N</text>
<text x="240.3" y="76.9" font-size="13.2" font-weight="bold" fill="#262626" stroke="#262626" stroke-width="0.25" text-anchor="end" textLength="24.4" lengthAdjust="spacingAndGlyphs">100</text>
<ellipse cx="245.0" cy="64.5" rx="1.55" ry="1.2" fill="none" stroke="#262626" stroke-width="0.85"/>
<text x="253.3" y="76.9" font-size="13.2" font-weight="bold" fill="#262626" stroke="#262626" stroke-width="0.25" textLength="12.6" lengthAdjust="spacingAndGlyphs">W</text>
<text x="300.6" y="76.9" font-size="13.2" font-weight="bold" fill="#262626" stroke="#262626" stroke-width="0.25" text-anchor="end" textLength="15.9" lengthAdjust="spacingAndGlyphs">90</text>
<ellipse cx="304.9" cy="64.5" rx="1.55" ry="1.2" fill="none" stroke="#262626" stroke-width="0.85"/>
<text x="313.6" y="76.9" font-size="13.2" font-weight="bold" fill="#262626" stroke="#262626" stroke-width="0.25" textLength="12.6" lengthAdjust="spacingAndGlyphs">W</text>
<text x="364.5" y="76.9" font-size="13.2" font-weight="bold" fill="#262626" stroke="#262626" stroke-width="0.25" text-anchor="end" textLength="15.9" lengthAdjust="spacingAndGlyphs">80</text>
<ellipse cx="369.7" cy="64.5" rx="1.55" ry="1.2" fill="none" stroke="#262626" stroke-width="0.85"/>
<text x="377.2" y="76.9" font-size="13.2" font-weight="bold" fill="#262626" stroke="#262626" stroke-width="0.25" textLength="12.6" lengthAdjust="spacingAndGlyphs">W</text>
<text x="427.5" y="76.9" font-size="13.2" font-weight="bold" fill="#262626" stroke="#262626" stroke-width="0.25" text-anchor="end" textLength="15.9" lengthAdjust="spacingAndGlyphs">70</text>
<ellipse cx="432.0" cy="64.5" rx="1.55" ry="1.2" fill="none" stroke="#262626" stroke-width="0.85"/>
<text x="440.0" y="76.9" font-size="13.2" font-weight="bold" fill="#262626" stroke="#262626" stroke-width="0.25" textLength="12.6" lengthAdjust="spacingAndGlyphs">W</text>
<rect x="441.1" y="95.2" width="23.7" height="215.3" fill="url(#jet)" stroke="#111" stroke-width="0.8"/>
<line x1="462.3" y1="310.5" x2="464.8" y2="310.5" stroke="#262626" stroke-width="0.6"/>
<text x="474.0" y="317.7" font-size="22.5" font-weight="bold" fill="#262626" stroke="#262626" stroke-width="0.35" textLength="12.3" lengthAdjust="spacingAndGlyphs">0</text>
<line x1="462.3" y1="227.7" x2="464.8" y2="227.7" stroke="#262626" stroke-width="0.6"/>
<text x="474.0" y="234.9" font-size="22.5" font-weight="bold" fill="#262626" stroke="#262626" stroke-width="0.35" textLength="12.3" lengthAdjust="spacingAndGlyphs">5</text>
<line x1="462.3" y1="144.9" x2="464.8" y2="144.9" stroke="#262626" stroke-width="0.6"/>
<text x="474.0" y="152.1" font-size="22.5" font-weight="bold" fill="#262626" stroke="#262626" stroke-width="0.35" textLength="27.1" lengthAdjust="spacingAndGlyphs">10</text>
<text x="125.3" y="341.3" font-size="23.2" font-weight="bold" fill="#262626" stroke="#262626" stroke-width="0.35" textLength="365.0" lengthAdjust="spacingAndGlyphs">SAT+RAP 850 hPa MR (g/kg)</text>
<rect x="616.5" y="96.5" width="233.9" height="212.9" fill="none" stroke="#000" stroke-width="1"/>
<g transform="matrix(1.00000 0 0 1.00000 420.900 0.000)">
<clipPath id="sw2"><polygon points="431.8,176.5 405.0,180.0 377.0,185.1 358.3,189.8 339.7,194.5 321.0,199.1 307.0,203.8 297.7,208.5 294.6,212.5 294.3,221.0 296.0,232.0 299.0,243.0 303.5,249.0 307.5,254.0 310.7,261.7 316.3,273.8 321.0,285.0 323.8,295.3 327.5,308.3 332.2,312.0 432.5,312.0"/></clipPath><g clip-path="url(#sw2)"><g><g filter="url(#blr)"><rect x="283" y="163" width="10.5" height="10.5" fill="#b8b8b8"/><rect x="293" y="163" width="10.5" height="10.5" fill="#b8b8b8"/><rect x="303" y="163" width="10.5" height="10.5" fill="#b8b8b8"/><rect x="313" y="163" width="10.5" height="10.5" fill="#b8b8b8"/><rect x="323" y="163" width="10.5" height="10.5" fill="#b8b8b8"/><rect x="333" y="163" width="10.5" height="10.5" fill="#949494"/><rect x="343" y="163" width="10.5" height="10.5" fill="#949494"/><rect x="353" y="163" width="10.5" height="10.5" fill="#949494"/><rect x="363" y="163" width="10.5" height="10.5" fill="#949494"/><rect x="373" y="163" width="10.5" height="10.5" fill="#474747"/><rect x="383" y="163" width="10.5" height="10.5" fill="#474747"/><rect x="393" y="163" width="10.5" height="10.5" fill="#474747"/><rect x="403" y="163" width="10.5" height="10.5" fill="#474747"/><rect x="413" y="163" width="10.5" height="10.5" fill="#474747"/><rect x="423" y="163" width="10.5" height="10.5" fill="#474747"/><rect x="433" y="163" width="10.5" height="10.5" fill="#474747"/><rect x="283" y="173" width="10.5" height="10.5" fill="#b8b8b8"/><rect x="293" y="173" width="10.5" height="10.5" fill="#b8b8b8"/><rect x="303" y="173" width="10.5" height="10.5" fill="#b8b8b8"/><rect x="313" y="173" width="10.5" height="10.5" fill="#b8b8b8"/><rect x="323" y="173" width="10.5" height="10.5" fill="#b8b8b8"/><rect x="333" y="173" width="10.5" height="10.5" fill="#949494"/><rect x="343" y="173" width="10.5" height="10.5" fill="#949494"/><rect x="353" y="173" width="10.5" height="10.5" fill="#949494"/><rect x="363" y="173" width="10.5" height="10.5" fill="#949494"/><rect x="373" y="173" width="10.5" height="10.5" fill="#474747"/><rect x="383" y="173" width="10.5" height="10.5" fill="#474747"/><rect x="393" y="173" width="10.5" height="10.5" fill="#474747"/><rect x="403" y="173" width="10.5" height="10.5" fill="#474747"/><rect x="413" y="173" width="10.5" height="10.5" fill="#474747"/><rect x="423" y="173" width="10.5" height="10.5" fill="#474747"/><rect x="433" y="173" width="10.5" height="10.5" fill="#474747"/><rect x="283" y="183" width="10.5" height="10.5" fill="#b8b8b8"/><rect x="293" y="183" width="10.5" height="10.5" fill="#b8b8b8"/><rect x="303" y="183" width="10.5" height="10.5" fill="#b8b8b8"/><rect x="313" y="183" width="10.5" height="10.5" fill="#b8b8b8"/><rect x="323" y="183" width="10.5" height="10.5" fill="#b8b8b8"/><rect x="333" y="183" width="10.5" height="10.5" fill="#b8b8b8"/><rect x="343" y="183" width="10.5" height="10.5" fill="#949494"/><rect x="353" y="183" width="10.5" height="10.5" fill="#949494"/><rect x="363" y="183" width="10.5" height="10.5" fill="#949494"/><rect x="373" y="183" width="10.5" height="10.5" fill="#808080"/><rect x="383" y="183" width="10.5" height="10.5" fill="#808080"/><rect x="393" y="183" width="10.5" height="10.5" fill="#474747"/><rect x="403" y="183" width="10.5" height="10.5" fill="#474747"/><rect x="413" y="183" width="10.5" height="10.5" fill="#474747"/><rect x="423" y="183" width="10.5" height="10.5" fill="#5c5c5c"/><rect x="433" y="183" width="10.5" height="10.5" fill="#5c5c5c"/><rect x="283" y="193" width="10.5" height="10.5" fill="#949494"/><rect x="293" y="193" width="10.5" height="10.5" fill="#949494"/><rect x="303" y="193" width="10.5" height="10.5" fill="#b8b8b8"/><rect x="313" y="193" width="10.5" height="10.5" fill="#b8b8b8"/><rect x="323" y="193" width="10.5" height="10.5" fill="#b8b8b8"/><rect x="333" y="193" width="10.5" height="10.5" fill="#a3a3a3"/><rect x="343" y="193" width="10.5" height="10.5" fill="#a3a3a3"/><rect x="353" y="193" width="10.5" height="10.5" fill="#949494"/><rect x="363" y="193" width="10.5" height="10.5" fill="#949494"/><rect x="373" y="193" width="10.5" height="10.5" fill="#949494"/><rect x="383" y="193" width="10.5" height="10.5" fill="#808080"/><rect x="393" y="193" width="10.5" height="10.5" fill="#474747"/><rect x="403" y="193" width="10.5" height="10.5" fill="#333333"/><rect x="413" y="193" width="10.5" height="10.5" fill="#333333"/><rect x="423" y="193" width="10.5" height="10.5" fill="#cccccc"/><rect x="433" y="193" width="10.5" height="10.5" fill="#cccccc"/><rect x="283" y="203" width="10.5" height="10.5" fill="#949494"/><rect x="293" y="203" width="10.5" height="10.5" fill="#949494"/><rect x="303" y="203" width="10.5" height="10.5" fill="#b8b8b8"/><rect x="313" y="203" width="10.5" height="10.5" fill="#b8b8b8"/><rect x="323" y="203" width="10.5" height="10.5" fill="#b8b8b8"/><rect x="333" y="203" width="10.5" height="10.5" fill="#cccccc"/><rect x="343" y="203" width="10.5" height="10.5" fill="#b8b8b8"/><rect x="353" y="203" width="10.5" height="10.5" fill="#a3a3a3"/><rect x="363" y="203" width="10.5" height="10.5" fill="#747474"/><rect x="373" y="203" width="10.5" height="10.5" fill="#333333"/><rect x="383" y="203" width="10.5" height="10.5" fill="#333333"/><rect x="393" y="203" width="10.5" height="10.5" fill="#333333"/><rect x="403" y="203" width="10.5" height="10.5" fill="#333333"/><rect x="413" y="203" width="10.5" height="10.5" fill="#333333"/><rect x="423" y="203" width="10.5" height="10.5" fill="#cccccc"/><rect x="433" y="203" width="10.5" height="10.5" fill="#cccccc"/><rect x="283" y="213" width="10.5" height="10.5" fill="#949494"/><rect x="293" y="213" width="10.5" height="10.5" fill="#949494"/><rect x="303" y="213" width="10.5" height="10.5" fill="#949494"/><rect x="313" y="213" width="10.5" height="10.5" fill="#b8b8b8"/><rect x="323" y="213" width="10.5" height="10.5" fill="#a3a3a3"/><rect x="333" y="213" width="10.5" height="10.5" fill="#949494"/><rect x="343" y="213" width="10.5" height="10.5" fill="#b8b8b8"/><rect x="353" y="213" width="10.5" height="10.5" fill="#b8b8b8"/><rect x="363" y="213" width="10.5" height="10.5" fill="#949494"/><rect x="373" y="213" width="10.5" height="10.5" fill="#333333"/><rect x="383" y="213" width="10.5" height="10.5" fill="#1a1a1a"/><rect x="393" y="213" width="10.5" height="10.5" fill="#333333"/><rect x="403" y="213" width="10.5" height="10.5" fill="#333333"/><rect x="413" y="213" width="10.5" height="10.5" fill="#5c5c5c"/><rect x="423" y="213" width="10.5" height="10.5" fill="#b8b8b8"/><rect x="433" y="213" width="10.5" height="10.5" fill="#b8b8b8"/><rect x="283" y="223" width="10.5" height="10.5" fill="#949494"/><rect x="293" y="223" width="10.5" height="10.5" fill="#949494"/><rect x="303" y="223" width="10.5" height="10.5" fill="#949494"/><rect x="313" y="223" width="10.5" height="10.5" fill="#b8b8b8"/><rect x="323" y="223" width="10.5" height="10.5" fill="#949494"/><rect x="333" y="223" width="10.5" height="10.5" fill="#5c5c5c"/><rect x="343" y="223" width="10.5" height="10.5" fill="#747474"/><rect x="353" y="223" width="10.5" height="10.5" fill="#b8b8b8"/><rect x="363" y="223" width="10.5" height="10.5" fill="#747474"/><rect x="373" y="223" width="10.5" height="10.5" fill="#949494"/><rect x="383" y="223" width="10.5" height="10.5" fill="#5c5c5c"/><rect x="393" y="223" width="10.5" height="10.5" fill="#474747"/><rect x="403" y="223" width="10.5" height="10.5" fill="#808080"/><rect x="413" y="223" width="10.5" height="10.5" fill="#e0e0e0"/><rect x="423" y="223" width="10.5" height="10.5" fill="#ffffff"/><rect x="433" y="223" width="10.5" height="10.5" fill="#ffffff"/><rect x="283" y="233" width="10.5" height="10.5" fill="#808080"/><rect x="293" y="233" width="10.5" height="10.5" fill="#808080"/><rect x="303" y="233" width="10.5" height="10.5" fill="#808080"/><rect x="313" y="233" width="10.5" height="10.5" fill="#747474"/><rect x="323" y="233" width="10.5" height="10.5" fill="#5c5c5c"/><rect x="333" y="233" width="10.5" height="10.5" fill="#5c5c5c"/><rect x="343" y="233" width="10.5" height="10.5" fill="#949494"/><rect x="353" y="233" width="10.5" height="10.5" fill="#747474"/><rect x="363" y="233" width="10.5" height="10.5" fill="#949494"/><rect x="373" y="233" width="10.5" height="10.5" fill="#747474"/><rect x="383" y="233" width="10.5" height="10.5" fill="#5c5c5c"/><rect x="393" y="233" width="10.5" height="10.5" fill="#747474"/><rect x="403" y="233" width="10.5" height="10.5" fill="#949494"/><rect x="413" y="233" width="10.5" height="10.5" fill="#cccccc"/><rect x="423" y="233" width="10.5" height="10.5" fill="#b8b8b8"/><rect x="433" y="233" width="10.5" height="10.5" fill="#b8b8b8"/><rect x="283" y="243" width="10.5" height="10.5" fill="#808080"/><rect x="293" y="243" width="10.5" height="10.5" fill="#808080"/><rect x="303" y="243" width="10.5" height="10.5" fill="#474747"/><rect x="313" y="243" width="10.5" height="10.5" fill="#474747"/><rect x="323" y="243" width="10.5" height="10.5" fill="#747474"/><rect x="333" y="243" width="10.5" height="10.5" fill="#949494"/><rect x="343" y="243" width="10.5" height="10.5" fill="#a3a3a3"/><rect x="353" y="243" width="10.5" height="10.5" fill="#808080"/><rect x="363" y="243" width="10.5" height="10.5" fill="#808080"/><rect x="373" y="243" width="10.5" height="10.5" fill="#949494"/><rect x="383" y="243" width="10.5" height="10.5" fill="#b8b8b8"/><rect x="393" y="243" width="10.5" height="10.5" fill="#b8b8b8"/><rect x="403" y="243" width="10.5" height="10.5" fill="#b8b8b8"/><rect x="413" y="243" width="10.5" height="10.5" fill="#cccccc"/><rect x="423" y="243" width="10.5" height="10.5" fill="#949494"/><rect x="433" y="243" width="10.5" height="10.5" fill="#949494"/><rect x="283" y="253" width="10.5" height="10.5" fill="#474747"/><rect x="293" y="253" width="10.5" height="10.5" fill="#474747"/><rect x="303" y="253" width="10.5" height="10.5" fill="#333333"/><rect x="313" y="253" width="10.5" height="10.5" fill="#333333"/><rect x="323" y="253" width="10.5" height="10.5" fill="#333333"/><rect x="333" y="253" width="10.5" height="10.5" fill="#474747"/><rect x="343" y="253" width="10.5" height="10.5" fill="#333333"/><rect x="353" y="253" width="10.5" height="10.5" fill="#5c5c5c"/><rect x="363" y="253" width="10.5" height="10.5" fill="#474747"/><rect x="373" y="253" width="10.5" height="10.5" fill="#5c5c5c"/><rect x="383" y="253" width="10.5" height="10.5" fill="#808080"/><rect x="393" y="253" width="10.5" height="10.5" fill="#949494"/><rect x="403" y="253" width="10.5" height="10.5" fill="#949494"/><rect x="413" y="253" width="10.5" height="10.5" fill="#b8b8b8"/><rect x="423" y="253" width="10.5" height="10.5" fill="#808080"/><rect x="433" y="253" width="10.5" height="10.5" fill="#808080"/><rect x="283" y="263" width="10.5" height="10.5" fill="#333333"/><rect x="293" y="263" width="10.5" height="10.5" fill="#333333"/><rect x="303" y="263" width="10.5" height="10.5" fill="#333333"/><rect x="313" y="263" width="10.5" height="10.5" fill="#333333"/><rect x="323" y="263" width="10.5" height="10.5" fill="#333333"/><rect x="333" y="263" width="10.5" height="10.5" fill="#474747"/><rect x="343" y="263" width="10.5" height="10.5" fill="#333333"/><rect x="353" y="263" width="10.5" height="10.5" fill="#5c5c5c"/><rect x="363" y="263" width="10.5" height="10.5" fill="#474747"/><rect x="373" y="263" width="10.5" height="10.5" fill="#5c5c5c"/><rect x="383" y="263" width="10.5" height="10.5" fill="#474747"/><rect x="393" y="263" width="10.5" height="10.5" fill="#5c5c5c"/><rect x="403" y="263" width="10.5" height="10.5" fill="#474747"/><rect x="413" y="263" width="10.5" height="10.5" fill="#474747"/><rect x="423" y="263" width="10.5" height="10.5" fill="#474747"/><rect x="433" y="263" width="10.5" height="10.5" fill="#474747"/><rect x="283" y="273" width="10.5" height="10.5" fill="#333333"/><rect x="293" y="273" width="10.5" height="10.5" fill="#333333"/><rect x="303" y="273" width="10.5" height="10.5" fill="#333333"/><rect x="313" y="273" width="10.5" height="10.5" fill="#333333"/><rect x="323" y="273" width="10.5" height="10.5" fill="#474747"/><rect x="333" y="273" width="10.5" height="10.5" fill="#474747"/><rect x="343" y="273" width="10.5" height="10.5" fill="#333333"/><rect x="353" y="273" width="10.5" height="10.5" fill="#474747"/><rect x="363" y="273" width="10.5" height="10.5" fill="#333333"/><rect x="373" y="273" width="10.5" height="10.5" fill="#474747"/><rect x="383" y="273" width="10.5" height="10.5" fill="#474747"/><rect x="393" y="273" width="10.5" height="10.5" fill="#333333"/><rect x="403" y="273" width="10.5" height="10.5" fill="#333333"/><rect x="413" y="273" width="10.5" height="10.5" fill="#333333"/><rect x="423" y="273" width="10.5" height="10.5" fill="#333333"/><rect x="433" y="273" width="10.5" height="10.5" fill="#333333"/><rect x="283" y="283" width="10.5" height="10.5" fill="#333333"/><rect x="293" y="283" width="10.5" height="10.5" fill="#333333"/><rect x="303" y="283" width="10.5" height="10.5" fill="#333333"/><rect x="313" y="283" width="10.5" height="10.5" fill="#333333"/><rect x="323" y="283" width="10.5" height="10.5" fill="#474747"/><rect x="333" y="283" width="10.5" height="10.5" fill="#333333"/><rect x="343" y="283" width="10.5" height="10.5" fill="#333333"/><rect x="353" y="283" width="10.5" height="10.5" fill="#333333"/><rect x="363" y="283" width="10.5" height="10.5" fill="#333333"/><rect x="373" y="283" width="10.5" height="10.5" fill="#333333"/><rect x="383" y="283" width="10.5" height="10.5" fill="#333333"/><rect x="393" y="283" width="10.5" height="10.5" fill="#333333"/><rect x="403" y="283" width="10.5" height="10.5" fill="#333333"/><rect x="413" y="283" width="10.5" height="10.5" fill="#1a1a1a"/><rect x="423" y="283" width="10.5" height="10.5" fill="#1a1a1a"/><rect x="433" y="283" width="10.5" height="10.5" fill="#1a1a1a"/><rect x="283" y="293" width="10.5" height="10.5" fill="#333333"/><rect x="293" y="293" width="10.5" height="10.5" fill="#333333"/><rect x="303" y="293" width="10.5" height="10.5" fill="#333333"/><rect x="313" y="293" width="10.5" height="10.5" fill="#333333"/><rect x="323" y="293" width="10.5" height="10.5" fill="#474747"/><rect x="333" y="293" width="10.5" height="10.5" fill="#474747"/><rect x="343" y="293" width="10.5" height="10.5" fill="#333333"/><rect x="353" y="293" width="10.5" height="10.5" fill="#333333"/><rect x="363" y="293" width="10.5" height="10.5" fill="#1a1a1a"/><rect x="373" y="293" width="10.5" height="10.5" fill="#1a1a1a"/><rect x="383" y="293" width="10.5" height="10.5" fill="#1a1a1a"/><rect x="393" y="293" width="10.5" height="10.5" fill="#1a1a1a"/><rect x="403" y="293" width="10.5" height="10.5" fill="#1a1a1a"/><rect x="413" y="293" width="10.5" height="10.5" fill="#1a1a1a"/><rect x="423" y="293" width="10.5" height="10.5" fill="#1a1a1a"/><rect x="433" y="293" width="10.5" height="10.5" fill="#1a1a1a"/><rect x="283" y="303" width="10.5" height="10.5" fill="#333333"/><rect x="293" y="303" width="10.5" height="10.5" fill="#333333"/><rect x="303" y="303" width="10.5" height="10.5" fill="#333333"/><rect x="313" y="303" width="10.5" height="10.5" fill="#474747"/><rect x="323" y="303" width="10.5" height="10.5" fill="#1a1a1a"/><rect x="333" y="303" width="10.5" height="10.5" fill="#333333"/><rect x="343" y="303" width="10.5" height="10.5" fill="#333333"/><rect x="353" y="303" width="10.5" height="10.5" fill="#333333"/><rect x="363" y="303" width="10.5" height="10.5" fill="#1a1a1a"/><rect x="373" y="303" width="10.5" height="10.5" fill="#1a1a1a"/><rect x="383" y="303" width="10.5" height="10.5" fill="#1a1a1a"/><rect x="393" y="303" width="10.5" height="10.5" fill="#1a1a1a"/><rect x="403" y="303" width="10.5" height="10.5" fill="#1a1a1a"/><rect x="413" y="303" width="10.5" height="10.5" fill="#1a1a1a"/><rect x="423" y="303" width="10.5" height="10.5" fill="#1a1a1a"/><rect x="433" y="303" width="10.5" height="10.5" fill="#1a1a1a"/><rect x="283" y="313" width="10.5" height="10.5" fill="#333333"/><rect x="293" y="313" width="10.5" height="10.5" fill="#333333"/><rect x="303" y="313" width="10.5" height="10.5" fill="#333333"/><rect x="313" y="313" width="10.5" height="10.5" fill="#474747"/><rect x="323" y="313" width="10.5" height="10.5" fill="#1a1a1a"/><rect x="333" y="313" width="10.5" height="10.5" fill="#333333"/><rect x="343" y="313" width="10.5" height="10.5" fill="#333333"/><rect x="353" y="313" width="10.5" height="10.5" fill="#333333"/><rect x="363" y="313" width="10.5" height="10.5" fill="#1a1a1a"/><rect x="373" y="313" width="10.5" height="10.5" fill="#1a1a1a"/><rect x="383" y="313" width="10.5" height="10.5" fill="#1a1a1a"/><rect x="393" y="313" width="10.5" height="10.5" fill="#1a1a1a"/><rect x="403" y="313" width="10.5" height="10.5" fill="#1a1a1a"/><rect x="413" y="313" width="10.5" height="10.5" fill="#1a1a1a"/><rect x="423" y="313" width="10.5" height="10.5" fill="#1a1a1a"/><rect x="433" y="313" width="10.5" height="10.5" fill="#1a1a1a"/></g></g></g>
</g>
<g transform="matrix(1.00000 0 0 1.00000 420.900 0.000)"><use href="#map"/></g>
<text x="584.2" y="113.2" font-size="13.2" font-weight="bold" fill="#262626" stroke="#262626" stroke-width="0.25" text-anchor="end" textLength="16.6" lengthAdjust="spacingAndGlyphs">48</text>
<ellipse cx="588.9" cy="99.9" rx="1.55" ry="1.2" fill="none" stroke="#262626" stroke-width="0.85"/>
<text x="596.9" y="113.2" font-size="13.2" font-weight="bold" fill="#262626" stroke="#262626" stroke-width="0.25" textLength="9.2" lengthAdjust="spacingAndGlyphs">N</text>
<text x="584.2" y="131.5" font-size="13.2" font-weight="bold" fill="#262626" stroke="#262626" stroke-width="0.25" text-anchor="end" textLength="16.6" lengthAdjust="spacingAndGlyphs">46</text>
<ellipse cx="588.9" cy="118.2" rx="1.55" ry="1.2" fill="none" stroke="#262626" stroke-width="0.85"/>
<text x="596.9" y="131.5" font-size="13.2" font-weight="bold" fill="#262626" stroke="#262626" stroke-width="0.25" textLength="9.2" lengthAdjust="spacingAndGlyphs">N</text>
<text x="584.2" y="149.2" font-size="13.2" font-weight="bold" fill="#262626" stroke="#262626" stroke-width="0.25" text-anchor="end" textLength="16.6" lengthAdjust="spacingAndGlyphs">44</text>
<ellipse cx="588.9" cy="135.9" rx="1.55" ry="1.2" fill="none" stroke="#262626" stroke-width="0.85"/>
<text x="596.9" y="149.2" font-size="13.2" font-weight="bold" fill="#262626" stroke="#262626" stroke-width="0.25" textLength="9.2" lengthAdjust="spacingAndGlyphs">N</text>
<text x="584.2" y="166.3" font-size="13.2" font-weight="bold" fill="#262626" stroke="#262626" stroke-width="0.25" text-anchor="end" textLength="16.6" lengthAdjust="spacingAndGlyphs">42</text>
<ellipse cx="588.9" cy="153.0" rx="1.55" ry="1.2" fill="none" stroke="#262626" stroke-width="0.85"/>
<text x="596.9" y="166.3" font-size="13.2" font-weight="bold" fill="#262626" stroke="#262626" stroke-width="0.25" textLength="9.2" lengthAdjust="spacingAndGlyphs">N</text>
<text x="584.2" y="182.8" font-size="13.2" font-weight="bold" fill="#262626" stroke="#262626" stroke-width="0.25" text-anchor="end" textLength="16.6" lengthAdjust="spacingAndGlyphs">40</text>
<ellipse cx="588.9" cy="169.5" rx="1.55" ry="1.2" fill="none" stroke="#262626" stroke-width="0.85"/>
<text x="596.9" y="182.8" font-size="13.2" font-weight="bold" fill="#262626" stroke="#262626" stroke-width="0.25" textLength="9.2" lengthAdjust="spacingAndGlyphs">N</text>
<text x="584.2" y="198.9" font-size="13.2" font-weight="bold" fill="#262626" stroke="#262626" stroke-width="0.25" text-anchor="end" textLength="16.6" lengthAdjust="spacingAndGlyphs">38</text>
<ellipse cx="588.9" cy="185.6" rx="1.55" ry="1.2" fill="none" stroke="#262626" stroke-width="0.85"/>
<text x="596.9" y="198.9" font-size="13.2" font-weight="bold" fill="#262626" stroke="#262626" stroke-width="0.25" textLength="9.2" lengthAdjust="spacingAndGlyphs">N</text>
<text x="584.2" y="214.6" font-size="13.2" font-weight="bold" fill="#262626" stroke="#262626" stroke-width="0.25" text-anchor="end" textLength="16.6" lengthAdjust="spacingAndGlyphs">36</text>
<ellipse cx="588.9" cy="201.3" rx="1.55" ry="1.2" fill="none" stroke="#262626" stroke-width="0.85"/>
<text x="596.9" y="214.6" font-size="13.2" font-weight="bold" fill="#262626" stroke="#262626" stroke-width="0.25" textLength="9.2" lengthAdjust="spacingAndGlyphs">N</text>
<text x="584.2" y="229.8" font-size="13.2" font-weight="bold" fill="#262626" stroke="#262626" stroke-width="0.25" text-anchor="end" textLength="16.6" lengthAdjust="spacingAndGlyphs">34</text>
<ellipse cx="588.9" cy="216.5" rx="1.55" ry="1.2" fill="none" stroke="#262626" stroke-width="0.85"/>
<text x="596.9" y="229.8" font-size="13.2" font-weight="bold" fill="#262626" stroke="#262626" stroke-width="0.25" textLength="9.2" lengthAdjust="spacingAndGlyphs">N</text>
<text x="584.2" y="244.7" font-size="13.2" font-weight="bold" fill="#262626" stroke="#262626" stroke-width="0.25" text-anchor="end" textLength="16.6" lengthAdjust="spacingAndGlyphs">32</text>
<ellipse cx="588.9" cy="231.4" rx="1.55" ry="1.2" fill="none" stroke="#262626" stroke-width="0.85"/>
<text x="596.9" y="244.7" font-size="13.2" font-weight="bold" fill="#262626" stroke="#262626" stroke-width="0.25" textLength="9.2" lengthAdjust="spacingAndGlyphs">N</text>
<text x="584.2" y="259.3" font-size="13.2" font-weight="bold" fill="#262626" stroke="#262626" stroke-width="0.25" text-anchor="end" textLength="16.6" lengthAdjust="spacingAndGlyphs">30</text>
<ellipse cx="588.9" cy="246.0" rx="1.55" ry="1.2" fill="none" stroke="#262626" stroke-width="0.85"/>
<text x="596.9" y="259.3" font-size="13.2" font-weight="bold" fill="#262626" stroke="#262626" stroke-width="0.25" textLength="9.2" lengthAdjust="spacingAndGlyphs">N</text>
<text x="584.2" y="273.6" font-size="13.2" font-weight="bold" fill="#262626" stroke="#262626" stroke-width="0.25" text-anchor="end" textLength="16.6" lengthAdjust="spacingAndGlyphs">28</text>
<ellipse cx="588.9" cy="260.3" rx="1.55" ry="1.2" fill="none" stroke="#262626" stroke-width="0.85"/>
<text x="596.9" y="273.6" font-size="13.2" font-weight="bold" fill="#262626" stroke="#262626" stroke-width="0.25" textLength="9.2" lengthAdjust="spacingAndGlyphs">N</text>
<text x="584.2" y="287.6" font-size="13.2" font-weight="bold" fill="#262626" stroke="#262626" stroke-width="0.25" text-anchor="end" textLength="16.6" lengthAdjust="spacingAndGlyphs">26</text>
<ellipse cx="588.9" cy="274.3" rx="1.55" ry="1.2" fill="none" stroke="#262626" stroke-width="0.85"/>
<text x="596.9" y="287.6" font-size="13.2" font-weight="bold" fill="#262626" stroke="#262626" stroke-width="0.25" textLength="9.2" lengthAdjust="spacingAndGlyphs">N</text>
<text x="584.2" y="301.4" font-size="13.2" font-weight="bold" fill="#262626" stroke="#262626" stroke-width="0.25" text-anchor="end" textLength="16.6" lengthAdjust="spacingAndGlyphs">24</text>
<ellipse cx="588.9" cy="288.1" rx="1.55" ry="1.2" fill="none" stroke="#262626" stroke-width="0.85"/>
<text x="596.9" y="301.4" font-size="13.2" font-weight="bold" fill="#262626" stroke="#262626" stroke-width="0.25" textLength="9.2" lengthAdjust="spacingAndGlyphs">N</text>
<text x="584.2" y="315.0" font-size="13.2" font-weight="bold" fill="#262626" stroke="#262626" stroke-width="0.25" text-anchor="end" textLength="16.6" lengthAdjust="spacingAndGlyphs">22</text>
<ellipse cx="588.9" cy="301.7" rx="1.55" ry="1.2" fill="none" stroke="#262626" stroke-width="0.85"/>
<text x="596.9" y="315.0" font-size="13.2" font-weight="bold" fill="#262626" stroke="#262626" stroke-width="0.25" textLength="9.2" lengthAdjust="spacingAndGlyphs">N</text>
<text x="661.2" y="76.9" font-size="13.2" font-weight="bold" fill="#262626" stroke="#262626" stroke-width="0.25" text-anchor="end" textLength="24.4" lengthAdjust="spacingAndGlyphs">100</text>
<ellipse cx="665.9" cy="64.5" rx="1.55" ry="1.2" fill="none" stroke="#262626" stroke-width="0.85"/>
<text x="674.2" y="76.9" font-size="13.2" font-weight="bold" fill="#262626" stroke="#262626" stroke-width="0.25" textLength="12.6" lengthAdjust="spacingAndGlyphs">W</text>
<text x="721.5" y="76.9" font-size="13.2" font-weight="bold" fill="#262626" stroke="#262626" stroke-width="0.25" text-anchor="end" textLength="15.9" lengthAdjust="spacingAndGlyphs">90</text>
<ellipse cx="725.8" cy="64.5" rx="1.55" ry="1.2" fill="none" stroke="#262626" stroke-width="0.85"/>
<text x="734.5" y="76.9" font-size="13.2" font-weight="bold" fill="#262626" stroke="#262626" stroke-width="0.25" textLength="12.6" lengthAdjust="spacingAndGlyphs">W</text>
<text x="785.4" y="76.9" font-size="13.2" font-weight="bold" fill="#262626" stroke="#262626" stroke-width="0.25" text-anchor="end" textLength="15.9" lengthAdjust="spacingAndGlyphs">80</text>
<ellipse cx="790.6" cy="64.5" rx="1.55" ry="1.2" fill="none" stroke="#262626" stroke-width="0.85"/>
<text x="798.1" y="76.9" font-size="13.2" font-weight="bold" fill="#262626" stroke="#262626" stroke-width="0.25" textLength="12.6" lengthAdjust="spacingAndGlyphs">W</text>
<text x="848.4" y="76.9" font-size="13.2" font-weight="bold" fill="#262626" stroke="#262626" stroke-width="0.25" text-anchor="end" textLength="15.9" lengthAdjust="spacingAndGlyphs">70</text>
<ellipse cx="852.9" cy="64.5" rx="1.55" ry="1.2" fill="none" stroke="#262626" stroke-width="0.85"/>
<text x="860.9" y="76.9" font-size="13.2" font-weight="bold" fill="#262626" stroke="#262626" stroke-width="0.25" textLength="12.6" lengthAdjust="spacingAndGlyphs">W</text>
<rect x="862.2" y="95.2" width="23.4" height="215.3" fill="url(#jet)" stroke="#111" stroke-width="0.8"/>
<line x1="883.1" y1="310.5" x2="885.6" y2="310.5" stroke="#262626" stroke-width="0.6"/>
<text x="894.8" y="317.7" font-size="22.5" font-weight="bold" fill="#262626" stroke="#262626" stroke-width="0.35" textLength="12.3" lengthAdjust="spacingAndGlyphs">0</text>
<line x1="883.1" y1="244.7" x2="885.6" y2="244.7" stroke="#262626" stroke-width="0.6"/>
<text x="894.8" y="251.9" font-size="22.5" font-weight="bold" fill="#262626" stroke="#262626" stroke-width="0.35" textLength="12.3" lengthAdjust="spacingAndGlyphs">2</text>
<line x1="883.1" y1="178.8" x2="885.6" y2="178.8" stroke="#262626" stroke-width="0.6"/>
<text x="894.8" y="186.0" font-size="22.5" font-weight="bold" fill="#262626" stroke="#262626" stroke-width="0.35" textLength="12.3" lengthAdjust="spacingAndGlyphs">4</text>
<line x1="883.1" y1="113.0" x2="885.6" y2="113.0" stroke="#262626" stroke-width="0.6"/>
<text x="894.8" y="120.2" font-size="22.5" font-weight="bold" fill="#262626" stroke="#262626" stroke-width="0.35" textLength="12.3" lengthAdjust="spacingAndGlyphs">6</text>
<text x="546.3" y="341.2" font-size="23.2" font-weight="bold" fill="#262626" stroke="#262626" stroke-width="0.35" textLength="364.9" lengthAdjust="spacingAndGlyphs">SAT+RAP 700 hPa MR (g/kg)</text>
<rect x="1037.1" y="95.4" width="235.4" height="214.9" fill="none" stroke="#000" stroke-width="1"/>
<g transform="matrix(1.00641 0 0 1.00939 840.246 -2.007)">
<clipPath id="sw3"><polygon points="431.8,176.5 405.0,180.0 377.0,185.1 358.3,189.8 339.7,194.5 321.0,199.1 307.0,203.8 297.7,208.5 294.6,212.5 294.3,221.0 296.0,232.0 299.0,243.0 303.5,249.0 307.5,254.0 310.7,261.7 316.3,273.8 321.0,285.0 323.8,295.3 327.5,308.3 332.2,312.0 432.5,312.0"/></clipPath><g clip-path="url(#sw3)"><g><g filter="url(#blr)"><rect x="283" y="163" width="10.5" height="10.5" fill="#a3a3a3"/><rect x="293" y="163" width="10.5" height="10.5" fill="#a3a3a3"/><rect x="303" y="163" width="10.5" height="10.5" fill="#a3a3a3"/><rect x="313" y="163" width="10.5" height="10.5" fill="#a3a3a3"/><rect x="323" y="163" width="10.5" height="10.5" fill="#a3a3a3"/><rect x="333" y="163" width="10.5" height="10.5" fill="#808080"/><rect x="343" y="163" width="10.5" height="10.5" fill="#808080"/><rect x="353" y="163" width="10.5" height="10.5" fill="#808080"/><rect x="363" y="163" width="10.5" height="10.5" fill="#808080"/><rect x="373" y="163" width="10.5" height="10.5" fill="#808080"/><rect x="383" y="163" width="10.5" height="10.5" fill="#808080"/><rect x="393" y="163" width="10.5" height="10.5" fill="#808080"/><rect x="403" y="163" width="10.5" height="10.5" fill="#808080"/><rect x="413" y="163" width="10.5" height="10.5" fill="#808080"/><rect x="423" y="163" width="10.5" height="10.5" fill="#808080"/><rect x="433" y="163" width="10.5" height="10.5" fill="#808080"/><rect x="283" y="173" width="10.5" height="10.5" fill="#a3a3a3"/><rect x="293" y="173" width="10.5" height="10.5" fill="#a3a3a3"/><rect x="303" y="173" width="10.5" height="10.5" fill="#a3a3a3"/><rect x="313" y="173" width="10.5" height="10.5" fill="#a3a3a3"/><rect x="323" y="173" width="10.5" height="10.5" fill="#a3a3a3"/><rect x="333" y="173" width="10.5" height="10.5" fill="#808080"/><rect x="343" y="173" width="10.5" height="10.5" fill="#808080"/><rect x="353" y="173" width="10.5" height="10.5" fill="#808080"/><rect x="363" y="173" width="10.5" height="10.5" fill="#808080"/><rect x="373" y="173" width="10.5" height="10.5" fill="#808080"/><rect x="383" y="173" width="10.5" height="10.5" fill="#808080"/><rect x="393" y="173" width="10.5" height="10.5" fill="#808080"/><rect x="403" y="173" width="10.5" height="10.5" fill="#808080"/><rect x="413" y="173" width="10.5" height="10.5" fill="#808080"/><rect x="423" y="173" width="10.5" height="10.5" fill="#808080"/><rect x="433" y="173" width="10.5" height="10.5" fill="#808080"/><rect x="283" y="183" width="10.5" height="10.5" fill="#a3a3a3"/><rect x="293" y="183" width="10.5" height="10.5" fill="#a3a3a3"/><rect x="303" y="183" width="10.5" height="10.5" fill="#a3a3a3"/><rect x="313" y="183" width="10.5" height="10.5" fill="#a3a3a3"/><rect x="323" y="183" width="10.5" height="10.5" fill="#a3a3a3"/><rect x="333" y="183" width="10.5" height="10.5" fill="#a3a3a3"/><rect x="343" y="183" width="10.5" height="10.5" fill="#808080"/><rect x="353" y="183" width="10.5" height="10.5" fill="#808080"/><rect x="363" y="183" width="10.5" height="10.5" fill="#808080"/><rect x="373" y="183" width="10.5" height="10.5" fill="#808080"/><rect x="383" y="183" width="10.5" height="10.5" fill="#808080"/><rect x="393" y="183" width="10.5" height="10.5" fill="#949494"/><rect x="403" y="183" width="10.5" height="10.5" fill="#949494"/><rect x="413" y="183" width="10.5" height="10.5" fill="#949494"/><rect x="423" y="183" width="10.5" height="10.5" fill="#a3a3a3"/><rect x="433" y="183" width="10.5" height="10.5" fill="#a3a3a3"/><rect x="283" y="193" width="10.5" height="10.5" fill="#808080"/><rect x="293" y="193" width="10.5" height="10.5" fill="#808080"/><rect x="303" y="193" width="10.5" height="10.5" fill="#a3a3a3"/><rect x="313" y="193" width="10.5" height="10.5" fill="#a3a3a3"/><rect x="323" y="193" width="10.5" height="10.5" fill="#a3a3a3"/><rect x="333" y="193" width="10.5" height="10.5" fill="#949494"/><rect x="343" y="193" width="10.5" height="10.5" fill="#808080"/><rect x="353" y="193" width="10.5" height="10.5" fill="#949494"/><rect x="363" y="193" width="10.5" height="10.5" fill="#a3a3a3"/><rect x="373" y="193" width="10.5" height="10.5" fill="#b8b8b8"/><rect x="383" y="193" width="10.5" height="10.5" fill="#b8b8b8"/><rect x="393" y="193" width="10.5" height="10.5" fill="#b8b8b8"/><rect x="403" y="193" width="10.5" height="10.5" fill="#b8b8b8"/><rect x="413" y="193" width="10.5" height="10.5" fill="#cccccc"/><rect x="423" y="193" width="10.5" height="10.5" fill="#cccccc"/><rect x="433" y="193" width="10.5" height="10.5" fill="#cccccc"/><rect x="283" y="203" width="10.5" height="10.5" fill="#808080"/><rect x="293" y="203" width="10.5" height="10.5" fill="#808080"/><rect x="303" y="203" width="10.5" height="10.5" fill="#a3a3a3"/><rect x="313" y="203" width="10.5" height="10.5" fill="#a3a3a3"/><rect x="323" y="203" width="10.5" height="10.5" fill="#b8b8b8"/><rect x="333" y="203" width="10.5" height="10.5" fill="#b8b8b8"/><rect x="343" y="203" width="10.5" height="10.5" fill="#b8b8b8"/><rect x="353" y="203" width="10.5" height="10.5" fill="#cccccc"/><rect x="363" y="203" width="10.5" height="10.5" fill="#cccccc"/><rect x="373" y="203" width="10.5" height="10.5" fill="#cccccc"/><rect x="383" y="203" width="10.5" height="10.5" fill="#cccccc"/><rect x="393" y="203" width="10.5" height="10.5" fill="#e0e0e0"/><rect x="403" y="203" width="10.5" height="10.5" fill="#cccccc"/><rect x="413" y="203" width="10.5" height="10.5" fill="#cccccc"/><rect x="423" y="203" width="10.5" height="10.5" fill="#cccccc"/><rect x="433" y="203" width="10.5" height="10.5" fill="#cccccc"/><rect x="283" y="213" width="10.5" height="10.5" fill="#b8b8b8"/><rect x="293" y="213" width="10.5" height="10.5" fill="#b8b8b8"/><rect x="303" y="213" width="10.5" height="10.5" fill="#b8b8b8"/><rect x="313" y="213" width="10.5" height="10.5" fill="#cccccc"/><rect x="323" y="213" width="10.5" height="10.5" fill="#e0e0e0"/><rect x="333" y="213" width="10.5" height="10.5" fill="#cccccc"/><rect x="343" y="213" width="10.5" height="10.5" fill="#cccccc"/><rect x="353" y="213" width="10.5" height="10.5" fill="#cccccc"/><rect x="363" y="213" width="10.5" height="10.5" fill="#b8b8b8"/><rect x="373" y="213" width="10.5" height="10.5" fill="#949494"/><rect x="383" y="213" width="10.5" height="10.5" fill="#b8b8b8"/><rect x="393" y="213" width="10.5" height="10.5" fill="#cccccc"/><rect x="403" y="213" width="10.5" height="10.5" fill="#e0e0e0"/><rect x="413" y="213" width="10.5" height="10.5" fill="#cccccc"/><rect x="423" y="213" width="10.5" height="10.5" fill="#b8b8b8"/><rect x="433" y="213" width="10.5" height="10.5" fill="#b8b8b8"/><rect x="283" y="223" width="10.5" height="10.5" fill="#a3a3a3"/><rect x="293" y="223" width="10.5" height="10.5" fill="#a3a3a3"/><rect x="303" y="223" width="10.5" height="10.5" fill="#b8b8b8"/><rect x="313" y="223" width="10.5" height="10.5" fill="#b8b8b8"/><rect x="323" y="223" width="10.5" height="10.5" fill="#949494"/><rect x="333" y="223" width="10.5" height="10.5" fill="#808080"/><rect x="343" y="223" width="10.5" height="10.5" fill="#5c5c5c"/><rect x="353" y="223" width="10.5" height="10.5" fill="#333333"/><rect x="363" y="223" width="10.5" height="10.5" fill="#333333"/><rect x="373" y="223" width="10.5" height="10.5" fill="#333333"/><rect x="383" y="223" width="10.5" height="10.5" fill="#5c5c5c"/><rect x="393" y="223" width="10.5" height="10.5" fill="#808080"/><rect x="403" y="223" width="10.5" height="10.5" fill="#b8b8b8"/><rect x="413" y="223" width="10.5" height="10.5" fill="#b8b8b8"/><rect x="423" y="223" width="10.5" height="10.5" fill="#a3a3a3"/><rect x="433" y="223" width="10.5" height="10.5" fill="#a3a3a3"/><rect x="283" y="233" width="10.5" height="10.5" fill="#474747"/><rect x="293" y="233" width="10.5" height="10.5" fill="#474747"/><rect x="303" y="233" width="10.5" height="10.5" fill="#333333"/><rect x="313" y="233" width="10.5" height="10.5" fill="#333333"/><rect x="323" y="233" width="10.5" height="10.5" fill="#333333"/><rect x="333" y="233" width="10.5" height="10.5" fill="#1a1a1a"/><rect x="343" y="233" width="10.5" height="10.5" fill="#1a1a1a"/><rect x="353" y="233" width="10.5" height="10.5" fill="#333333"/><rect x="363" y="233" width="10.5" height="10.5" fill="#333333"/><rect x="373" y="233" width="10.5" height="10.5" fill="#333333"/><rect x="383" y="233" width="10.5" height="10.5" fill="#474747"/><rect x="393" y="233" width="10.5" height="10.5" fill="#5c5c5c"/><rect x="403" y="233" width="10.5" height="10.5" fill="#5c5c5c"/><rect x="413" y="233" width="10.5" height="10.5" fill="#747474"/><rect x="423" y="233" width="10.5" height="10.5" fill="#747474"/><rect x="433" y="233" width="10.5" height="10.5" fill="#747474"/><rect x="283" y="243" width="10.5" height="10.5" fill="#474747"/><rect x="293" y="243" width="10.5" height="10.5" fill="#474747"/><rect x="303" y="243" width="10.5" height="10.5" fill="#333333"/><rect x="313" y="243" width="10.5" height="10.5" fill="#333333"/><rect x="323" y="243" width="10.5" height="10.5" fill="#333333"/><rect x="333" y="243" width="10.5" height="10.5" fill="#333333"/><rect x="343" y="243" width="10.5" height="10.5" fill="#333333"/><rect x="353" y="243" width="10.5" height="10.5" fill="#474747"/><rect x="363" y="243" width="10.5" height="10.5" fill="#5c5c5c"/><rect x="373" y="243" width="10.5" height="10.5" fill="#747474"/><rect x="383" y="243" width="10.5" height="10.5" fill="#474747"/><rect x="393" y="243" width="10.5" height="10.5" fill="#333333"/><rect x="403" y="243" width="10.5" height="10.5" fill="#333333"/><rect x="413" y="243" width="10.5" height="10.5" fill="#474747"/><rect x="423" y="243" width="10.5" height="10.5" fill="#5c5c5c"/><rect x="433" y="243" width="10.5" height="10.5" fill="#5c5c5c"/><rect x="283" y="253" width="10.5" height="10.5" fill="#333333"/><rect x="293" y="253" width="10.5" height="10.5" fill="#333333"/><rect x="303" y="253" width="10.5" height="10.5" fill="#333333"/><rect x="313" y="253" width="10.5" height="10.5" fill="#333333"/><rect x="323" y="253" width="10.5" height="10.5" fill="#333333"/><rect x="333" y="253" width="10.5" height="10.5" fill="#333333"/><rect x="343" y="253" width="10.5" height="10.5" fill="#333333"/><rect x="353" y="253" width="10.5" height="10.5" fill="#949494"/><rect x="363" y="253" width="10.5" height="10.5" fill="#474747"/><rect x="373" y="253" width="10.5" height="10.5" fill="#5c5c5c"/><rect x="383" y="253" width="10.5" height="10.5" fill="#333333"/><rect x="393" y="253" width="10.5" height="10.5" fill="#333333"/><rect x="403" y="253" width="10.5" height="10.5" fill="#1a1a1a"/><rect x="413" y="253" width="10.5" height="10.5" fill="#333333"/><rect x="423" y="253" width="10.5" height="10.5" fill="#474747"/><rect x="433" y="253" width="10.5" height="10.5" fill="#474747"/><rect x="283" y="263" width="10.5" height="10.5" fill="#333333"/><rect x="293" y="263" width="10.5" height="10.5" fill="#333333"/><rect x="303" y="263" width="10.5" height="10.5" fill="#333333"/><rect x="313" y="263" width="10.5" height="10.5" fill="#333333"/><rect x="323" y="263" width="10.5" height="10.5" fill="#333333"/><rect x="333" y="263" width="10.5" height="10.5" fill="#333333"/><rect x="343" y="263" width="10.5" height="10.5" fill="#333333"/><rect x="353" y="263" width="10.5" height="10.5" fill="#5c5c5c"/><rect x="363" y="263" width="10.5" height="10.5" fill="#5c5c5c"/><rect x="373" y="263" width="10.5" height="10.5" fill="#474747"/><rect x="383" y="263" width="10.5" height="10.5" fill="#333333"/><rect x="393" y="263" width="10.5" height="10.5" fill="#1a1a1a"/><rect x="403" y="263" width="10.5" height="10.5" fill="#1a1a1a"/><rect x="413" y="263" width="10.5" height="10.5" fill="#333333"/><rect x="423" y="263" width="10.5" height="10.5" fill="#474747"/><rect x="433" y="263" width="10.5" height="10.5" fill="#474747"/><rect x="283" y="273" width="10.5" height="10.5" fill="#333333"/><rect x="293" y="273" width="10.5" height="10.5" fill="#333333"/><rect x="303" y="273" width="10.5" height="10.5" fill="#333333"/><rect x="313" y="273" width="10.5" height="10.5" fill="#1a1a1a"/><rect x="323" y="273" width="10.5" height="10.5" fill="#333333"/><rect x="333" y="273" width="10.5" height="10.5" fill="#333333"/><rect x="343" y="273" width="10.5" height="10.5" fill="#333333"/><rect x="353" y="273" width="10.5" height="10.5" fill="#747474"/><rect x="363" y="273" width="10.5" height="10.5" fill="#5c5c5c"/><rect x="373" y="273" width="10.5" height="10.5" fill="#474747"/><rect x="383" y="273" width="10.5" height="10.5" fill="#474747"/><rect x="393" y="273" width="10.5" height="10.5" fill="#333333"/><rect x="403" y="273" width="10.5" height="10.5" fill="#333333"/><rect x="413" y="273" width="10.5" height="10.5" fill="#333333"/><rect x="423" y="273" width="10.5" height="10.5" fill="#474747"/><rect x="433" y="273" width="10.5" height="10.5" fill="#474747"/><rect x="283" y="283" width="10.5" height="10.5" fill="#333333"/><rect x="293" y="283" width="10.5" height="10.5" fill="#333333"/><rect x="303" y="283" width="10.5" height="10.5" fill="#1a1a1a"/><rect x="313" y="283" width="10.5" height="10.5" fill="#1a1a1a"/><rect x="323" y="283" width="10.5" height="10.5" fill="#1a1a1a"/><rect x="333" y="283" width="10.5" height="10.5" fill="#1a1a1a"/><rect x="343" y="283" width="10.5" height="10.5" fill="#1a1a1a"/><rect x="353" y="283" width="10.5" height="10.5" fill="#474747"/><rect x="363" y="283" width="10.5" height="10.5" fill="#808080"/><rect x="373" y="283" width="10.5" height="10.5" fill="#5c5c5c"/><rect x="383" y="283" width="10.5" height="10.5" fill="#474747"/><rect x="393" y="283" width="10.5" height="10.5" fill="#5c5c5c"/><rect x="403" y="283" width="10.5" height="10.5" fill="#474747"/><rect x="413" y="283" width="10.5" height="10.5" fill="#5c5c5c"/><rect x="423" y="283" width="10.5" height="10.5" fill="#949494"/><rect x="433" y="283" width="10.5" height="10.5" fill="#949494"/><rect x="283" y="293" width="10.5" height="10.5" fill="#1a1a1a"/><rect x="293" y="293" width="10.5" height="10.5" fill="#1a1a1a"/><rect x="303" y="293" width="10.5" height="10.5" fill="#1a1a1a"/><rect x="313" y="293" width="10.5" height="10.5" fill="#1a1a1a"/><rect x="323" y="293" width="10.5" height="10.5" fill="#1a1a1a"/><rect x="333" y="293" width="10.5" height="10.5" fill="#1a1a1a"/><rect x="343" y="293" width="10.5" height="10.5" fill="#333333"/><rect x="353" y="293" width="10.5" height="10.5" fill="#5c5c5c"/><rect x="363" y="293" width="10.5" height="10.5" fill="#808080"/><rect x="373" y="293" width="10.5" height="10.5" fill="#747474"/><rect x="383" y="293" width="10.5" height="10.5" fill="#5c5c5c"/><rect x="393" y="293" width="10.5" height="10.5" fill="#5c5c5c"/><rect x="403" y="293" width="10.5" height="10.5" fill="#5c5c5c"/><rect x="413" y="293" width="10.5" height="10.5" fill="#808080"/><rect x="423" y="293" width="10.5" height="10.5" fill="#949494"/><rect x="433" y="293" width="10.5" height="10.5" fill="#949494"/><rect x="283" y="303" width="10.5" height="10.5" fill="#1a1a1a"/><rect x="293" y="303" width="10.5" height="10.5" fill="#1a1a1a"/><rect x="303" y="303" width="10.5" height="10.5" fill="#1a1a1a"/><rect x="313" y="303" width="10.5" height="10.5" fill="#1a1a1a"/><rect x="323" y="303" width="10.5" height="10.5" fill="#1a1a1a"/><rect x="333" y="303" width="10.5" height="10.5" fill="#1a1a1a"/><rect x="343" y="303" width="10.5" height="10.5" fill="#333333"/><rect x="353" y="303" width="10.5" height="10.5" fill="#474747"/><rect x="363" y="303" width="10.5" height="10.5" fill="#5c5c5c"/><rect x="373" y="303" width="10.5" height="10.5" fill="#747474"/><rect x="383" y="303" width="10.5" height="10.5" fill="#5c5c5c"/><rect x="393" y="303" width="10.5" height="10.5" fill="#5c5c5c"/><rect x="403" y="303" width="10.5" height="10.5" fill="#5c5c5c"/><rect x="413" y="303" width="10.5" height="10.5" fill="#5c5c5c"/><rect x="423" y="303" width="10.5" height="10.5" fill="#747474"/><rect x="433" y="303" width="10.5" height="10.5" fill="#747474"/><rect x="283" y="313" width="10.5" height="10.5" fill="#1a1a1a"/><rect x="293" y="313" width="10.5" height="10.5" fill="#1a1a1a"/><rect x="303" y="313" width="10.5" height="10.5" fill="#1a1a1a"/><rect x="313" y="313" width="10.5" height="10.5" fill="#1a1a1a"/><rect x="323" y="313" width="10.5" height="10.5" fill="#1a1a1a"/><rect x="333" y="313" width="10.5" height="10.5" fill="#1a1a1a"/><rect x="343" y="313" width="10.5" height="10.5" fill="#333333"/><rect x="353" y="313" width="10.5" height="10.5" fill="#474747"/><rect x="363" y="313" width="10.5" height="10.5" fill="#5c5c5c"/><rect x="373" y="313" width="10.5" height="10.5" fill="#747474"/><rect x="383" y="313" width="10.5" height="10.5" fill="#5c5c5c"/><rect x="393" y="313" width="10.5" height="10.5" fill="#5c5c5c"/><rect x="403" y="313" width="10.5" height="10.5" fill="#5c5c5c"/><rect x="413" y="313" width="10.5" height="10.5" fill="#5c5c5c"/><rect x="423" y="313" width="10.5" height="10.5" fill="#747474"/><rect x="433" y="313" width="10.5" height="10.5" fill="#747474"/></g></g></g>
</g>
<g transform="matrix(1.00641 0 0 1.00939 840.246 -2.007)"><use href="#map"/></g>
<text x="1004.6" y="112.2" font-size="13.2" font-weight="bold" fill="#262626" stroke="#262626" stroke-width="0.25" text-anchor="end" textLength="16.6" lengthAdjust="spacingAndGlyphs">48</text>
<ellipse cx="1009.3" cy="98.9" rx="1.55" ry="1.2" fill="none" stroke="#262626" stroke-width="0.85"/>
<text x="1017.3" y="112.2" font-size="13.2" font-weight="bold" fill="#262626" stroke="#262626" stroke-width="0.25" textLength="9.2" lengthAdjust="spacingAndGlyphs">N</text>
<text x="1004.6" y="130.7" font-size="13.2" font-weight="bold" fill="#262626" stroke="#262626" stroke-width="0.25" text-anchor="end" textLength="16.6" lengthAdjust="spacingAndGlyphs">46</text>
<ellipse cx="1009.3" cy="117.4" rx="1.55" ry="1.2" fill="none" stroke="#262626" stroke-width="0.85"/>
<text x="1017.3" y="130.7" font-size="13.2" font-weight="bold" fill="#262626" stroke="#262626" stroke-width="0.25" textLength="9.2" lengthAdjust="spacingAndGlyphs">N</text>
<text x="1004.6" y="148.5" font-size="13.2" font-weight="bold" fill="#262626" stroke="#262626" stroke-width="0.25" text-anchor="end" textLength="16.6" lengthAdjust="spacingAndGlyphs">44</text>
<ellipse cx="1009.3" cy="135.2" rx="1.55" ry="1.2" fill="none" stroke="#262626" stroke-width="0.85"/>
<text x="1017.3" y="148.5" font-size="13.2" font-weight="bold" fill="#262626" stroke="#262626" stroke-width="0.25" textLength="9.2" lengthAdjust="spacingAndGlyphs">N</text>
<text x="1004.6" y="165.8" font-size="13.2" font-weight="bold" fill="#262626" stroke="#262626" stroke-width="0.25" text-anchor="end" textLength="16.6" lengthAdjust="spacingAndGlyphs">42</text>
<ellipse cx="1009.3" cy="152.5" rx="1.55" ry="1.2" fill="none" stroke="#262626" stroke-width="0.85"/>
<text x="1017.3" y="165.8" font-size="13.2" font-weight="bold" fill="#262626" stroke="#262626" stroke-width="0.25" textLength="9.2" lengthAdjust="spacingAndGlyphs">N</text>
<text x="1004.6" y="182.5" font-size="13.2" font-weight="bold" fill="#262626" stroke="#262626" stroke-width="0.25" text-anchor="end" textLength="16.6" lengthAdjust="spacingAndGlyphs">40</text>
<ellipse cx="1009.3" cy="169.2" rx="1.55" ry="1.2" fill="none" stroke="#262626" stroke-width="0.85"/>
<text x="1017.3" y="182.5" font-size="13.2" font-weight="bold" fill="#262626" stroke="#262626" stroke-width="0.25" textLength="9.2" lengthAdjust="spacingAndGlyphs">N</text>
<text x="1004.6" y="198.7" font-size="13.2" font-weight="bold" fill="#262626" stroke="#262626" stroke-width="0.25" text-anchor="end" textLength="16.6" lengthAdjust="spacingAndGlyphs">38</text>
<ellipse cx="1009.3" cy="185.4" rx="1.55" ry="1.2" fill="none" stroke="#262626" stroke-width="0.85"/>
<text x="1017.3" y="198.7" font-size="13.2" font-weight="bold" fill="#262626" stroke="#262626" stroke-width="0.25" textLength="9.2" lengthAdjust="spacingAndGlyphs">N</text>
<text x="1004.6" y="214.5" font-size="13.2" font-weight="bold" fill="#262626" stroke="#262626" stroke-width="0.25" text-anchor="end" textLength="16.6" lengthAdjust="spacingAndGlyphs">36</text>
<ellipse cx="1009.3" cy="201.2" rx="1.55" ry="1.2" fill="none" stroke="#262626" stroke-width="0.85"/>
<text x="1017.3" y="214.5" font-size="13.2" font-weight="bold" fill="#262626" stroke="#262626" stroke-width="0.25" textLength="9.2" lengthAdjust="spacingAndGlyphs">N</text>
<text x="1004.6" y="229.9" font-size="13.2" font-weight="bold" fill="#262626" stroke="#262626" stroke-width="0.25" text-anchor="end" textLength="16.6" lengthAdjust="spacingAndGlyphs">34</text>
<ellipse cx="1009.3" cy="216.6" rx="1.55" ry="1.2" fill="none" stroke="#262626" stroke-width="0.85"/>
<text x="1017.3" y="229.9" font-size="13.2" font-weight="bold" fill="#262626" stroke="#262626" stroke-width="0.25" textLength="9.2" lengthAdjust="spacingAndGlyphs">N</text>
<text x="1004.6" y="245.0" font-size="13.2" font-weight="bold" fill="#262626" stroke="#262626" stroke-width="0.25" text-anchor="end" textLength="16.6" lengthAdjust="spacingAndGlyphs">32</text>
<ellipse cx="1009.3" cy="231.7" rx="1.55" ry="1.2" fill="none" stroke="#262626" stroke-width="0.85"/>
<text x="1017.3" y="245.0" font-size="13.2" font-weight="bold" fill="#262626" stroke="#262626" stroke-width="0.25" textLength="9.2" lengthAdjust="spacingAndGlyphs">N</text>
<text x="1004.6" y="259.7" font-size="13.2" font-weight="bold" fill="#262626" stroke="#262626" stroke-width="0.25" text-anchor="end" textLength="16.6" lengthAdjust="spacingAndGlyphs">30</text>
<ellipse cx="1009.3" cy="246.4" rx="1.55" ry="1.2" fill="none" stroke="#262626" stroke-width="0.85"/>
<text x="1017.3" y="259.7" font-size="13.2" font-weight="bold" fill="#262626" stroke="#262626" stroke-width="0.25" textLength="9.2" lengthAdjust="spacingAndGlyphs">N</text>
<text x="1004.6" y="274.1" font-size="13.2" font-weight="bold" fill="#262626" stroke="#262626" stroke-width="0.25" text-anchor="end" textLength="16.6" lengthAdjust="spacingAndGlyphs">28</text>
<ellipse cx="1009.3" cy="260.8" rx="1.55" ry="1.2" fill="none" stroke="#262626" stroke-width="0.85"/>
<text x="1017.3" y="274.1" font-size="13.2" font-weight="bold" fill="#262626" stroke="#262626" stroke-width="0.25" textLength="9.2" lengthAdjust="spacingAndGlyphs">N</text>
<text x="1004.6" y="288.3" font-size="13.2" font-weight="bold" fill="#262626" stroke="#262626" stroke-width="0.25" text-anchor="end" textLength="16.6" lengthAdjust="spacingAndGlyphs">26</text>
<ellipse cx="1009.3" cy="275.0" rx="1.55" ry="1.2" fill="none" stroke="#262626" stroke-width="0.85"/>
<text x="1017.3" y="288.3" font-size="13.2" font-weight="bold" fill="#262626" stroke="#262626" stroke-width="0.25" textLength="9.2" lengthAdjust="spacingAndGlyphs">N</text>
<text x="1004.6" y="302.2" font-size="13.2" font-weight="bold" fill="#262626" stroke="#262626" stroke-width="0.25" text-anchor="end" textLength="16.6" lengthAdjust="spacingAndGlyphs">24</text>
<ellipse cx="1009.3" cy="288.9" rx="1.55" ry="1.2" fill="none" stroke="#262626" stroke-width="0.85"/>
<text x="1017.3" y="302.2" font-size="13.2" font-weight="bold" fill="#262626" stroke="#262626" stroke-width="0.25" textLength="9.2" lengthAdjust="spacingAndGlyphs">N</text>
<text x="1004.6" y="315.9" font-size="13.2" font-weight="bold" fill="#262626" stroke="#262626" stroke-width="0.25" text-anchor="end" textLength="16.6" lengthAdjust="spacingAndGlyphs">22</text>
<ellipse cx="1009.3" cy="302.6" rx="1.55" ry="1.2" fill="none" stroke="#262626" stroke-width="0.85"/>
<text x="1017.3" y="315.9" font-size="13.2" font-weight="bold" fill="#262626" stroke="#262626" stroke-width="0.25" textLength="9.2" lengthAdjust="spacingAndGlyphs">N</text>
<text x="1082.1" y="75.8" font-size="13.2" font-weight="bold" fill="#262626" stroke="#262626" stroke-width="0.25" text-anchor="end" textLength="24.4" lengthAdjust="spacingAndGlyphs">100</text>
<ellipse cx="1086.8" cy="63.4" rx="1.55" ry="1.2" fill="none" stroke="#262626" stroke-width="0.85"/>
<text x="1095.2" y="75.8" font-size="13.2" font-weight="bold" fill="#262626" stroke="#262626" stroke-width="0.25" textLength="12.6" lengthAdjust="spacingAndGlyphs">W</text>
<text x="1142.8" y="75.8" font-size="13.2" font-weight="bold" fill="#262626" stroke="#262626" stroke-width="0.25" text-anchor="end" textLength="15.9" lengthAdjust="spacingAndGlyphs">90</text>
<ellipse cx="1147.1" cy="63.4" rx="1.55" ry="1.2" fill="none" stroke="#262626" stroke-width="0.85"/>
<text x="1155.9" y="75.8" font-size="13.2" font-weight="bold" fill="#262626" stroke="#262626" stroke-width="0.25" textLength="12.6" lengthAdjust="spacingAndGlyphs">W</text>
<text x="1207.1" y="75.8" font-size="13.2" font-weight="bold" fill="#262626" stroke="#262626" stroke-width="0.25" text-anchor="end" textLength="15.9" lengthAdjust="spacingAndGlyphs">80</text>
<ellipse cx="1212.3" cy="63.4" rx="1.55" ry="1.2" fill="none" stroke="#262626" stroke-width="0.85"/>
<text x="1219.9" y="75.8" font-size="13.2" font-weight="bold" fill="#262626" stroke="#262626" stroke-width="0.25" textLength="12.6" lengthAdjust="spacingAndGlyphs">W</text>
<text x="1270.5" y="75.8" font-size="13.2" font-weight="bold" fill="#262626" stroke="#262626" stroke-width="0.25" text-anchor="end" textLength="15.9" lengthAdjust="spacingAndGlyphs">70</text>
<ellipse cx="1275.0" cy="63.4" rx="1.55" ry="1.2" fill="none" stroke="#262626" stroke-width="0.85"/>
<text x="1283.1" y="75.8" font-size="13.2" font-weight="bold" fill="#262626" stroke="#262626" stroke-width="0.25" textLength="12.6" lengthAdjust="spacingAndGlyphs">W</text>
<rect x="1285.2" y="95.2" width="23.5" height="215.3" fill="url(#jet)" stroke="#111" stroke-width="0.8"/>
<line x1="1306.2" y1="310.5" x2="1308.7" y2="310.5" stroke="#262626" stroke-width="0.6"/>
<text x="1317.9" y="317.7" font-size="22.5" font-weight="bold" fill="#262626" stroke="#262626" stroke-width="0.35" textLength="12.3" lengthAdjust="spacingAndGlyphs">0</text>
<line x1="1306.2" y1="266.1" x2="1308.7" y2="266.1" stroke="#262626" stroke-width="0.6"/>
<text x="1317.9" y="273.3" font-size="22.5" font-weight="bold" fill="#262626" stroke="#262626" stroke-width="0.35" textLength="35.2" lengthAdjust="spacingAndGlyphs">0.5</text>
<line x1="1306.2" y1="221.7" x2="1308.7" y2="221.7" stroke="#262626" stroke-width="0.6"/>
<text x="1317.9" y="228.9" font-size="22.5" font-weight="bold" fill="#262626" stroke="#262626" stroke-width="0.35" textLength="12.3" lengthAdjust="spacingAndGlyphs">1</text>
<line x1="1306.2" y1="177.3" x2="1308.7" y2="177.3" stroke="#262626" stroke-width="0.6"/>
<text x="1317.9" y="184.5" font-size="22.5" font-weight="bold" fill="#262626" stroke="#262626" stroke-width="0.35" textLength="34.3" lengthAdjust="spacingAndGlyphs">1.5</text>
<line x1="1306.2" y1="132.9" x2="1308.7" y2="132.9" stroke="#262626" stroke-width="0.6"/>
<text x="1317.9" y="140.1" font-size="22.5" font-weight="bold" fill="#262626" stroke="#262626" stroke-width="0.35" textLength="12.3" lengthAdjust="spacingAndGlyphs">2</text>
<text x="968.9" y="341.8" font-size="23.2" font-weight="bold" fill="#262626" stroke="#262626" stroke-width="0.35" textLength="363.5" lengthAdjust="spacingAndGlyphs">SAT+RAP 500 hPa MR (g/kg)</text>
<rect x="195.6" y="486.4" width="233.9" height="212.9" fill="none" stroke="#000" stroke-width="1"/>
<g transform="matrix(1.00000 0 0 1.00000 0.000 389.900)">
<clipPath id="sw4"><polygon points="431.8,176.5 405.0,180.0 377.0,185.1 358.3,189.8 339.7,194.5 321.0,199.1 307.0,203.8 297.7,208.5 294.6,212.5 294.3,221.0 296.0,232.0 299.0,243.0 303.5,249.0 307.5,254.0 310.7,261.7 316.3,273.8 321.0,285.0 323.8,295.3 327.5,308.3 332.2,312.0 432.5,312.0"/></clipPath><clipPath id="mk4"><polygon points="296.0,243.0 303.5,249.0 307.5,254.0 310.7,261.7 316.3,273.8 321.0,285.0 323.8,295.3 327.5,308.3 332.2,312.0 432.5,312.0 432.5,265.0 424.6,261.0 414.3,257.5 405.0,257.5 395.7,257.5 386.3,256.5 378.0,255.5 377.0,249.0 376.0,243.0 360.0,242.0 345.0,244.0 330.0,243.0 315.0,243.0"/><polygon points="359.5,242.0 365.5,234.7 374.0,228.8 380.7,223.4 387.5,222.3 392.6,225.4 394.5,230.0 394.0,235.6 388.4,238.5 382.4,242.3 377.8,246.0 377.3,250.0 376.5,255.5 369.7,256.0 362.0,256.0"/><polygon points="327.5,229.0 330.3,223.4 339.7,218.7 349.0,216.9 358.3,215.5 367.7,216.5 372.3,221.0 376.0,226.0 372.0,234.0 365.0,238.0 358.0,239.0 350.0,238.0 342.0,237.0 335.0,237.0 330.0,233.0"/><polygon points="303.5,238.0 308.0,234.5 318.0,234.0 328.0,235.0 333.0,238.0 333.0,244.0 304.0,244.0"/></clipPath><g clip-path="url(#sw4)"><g clip-path="url(#mk4)"><g filter="url(#blr)"><rect x="283" y="163" width="10.5" height="10.5" fill="#747474"/><rect x="293" y="163" width="10.5" height="10.5" fill="#747474"/><rect x="303" y="163" width="10.5" height="10.5" fill="#747474"/><rect x="313" y="163" width="10.5" height="10.5" fill="#747474"/><rect x="323" y="163" width="10.5" height="10.5" fill="#747474"/><rect x="333" y="163" width="10.5" height="10.5" fill="#747474"/><rect x="343" y="163" width="10.5" height="10.5" fill="#747474"/><rect x="353" y="163" width="10.5" height="10.5" fill="#747474"/><rect x="363" y="163" width="10.5" height="10.5" fill="#747474"/><rect x="373" y="163" width="10.5" height="10.5" fill="#747474"/><rect x="383" y="163" width="10.5" height="10.5" fill="#747474"/><rect x="393" y="163" width="10.5" height="10.5" fill="#747474"/><rect x="403" y="163" width="10.5" height="10.5" fill="#747474"/><rect x="413" y="163" width="10.5" height="10.5" fill="#cccccc"/><rect x="423" y="163" width="10.5" height="10.5" fill="#e0e0e0"/><rect x="433" y="163" width="10.5" height="10.5" fill="#e0e0e0"/><rect x="283" y="173" width="10.5" height="10.5" fill="#747474"/><rect x="293" y="173" width="10.5" height="10.5" fill="#747474"/><rect x="303" y="173" width="10.5" height="10.5" fill="#747474"/><rect x="313" y="173" width="10.5" height="10.5" fill="#747474"/><rect x="323" y="173" width="10.5" height="10.5" fill="#747474"/><rect x="333" y="173" width="10.5" height="10.5" fill="#747474"/><rect x="343" y="173" width="10.5" height="10.5" fill="#747474"/><rect x="353" y="173" width="10.5" height="10.5" fill="#747474"/><rect x="363" y="173" width="10.5" height="10.5" fill="#747474"/><rect x="373" y="173" width="10.5" height="10.5" fill="#747474"/><rect x="383" y="173" width="10.5" height="10.5" fill="#747474"/><rect x="393" y="173" width="10.5" height="10.5" fill="#747474"/><rect x="403" y="173" width="10.5" height="10.5" fill="#747474"/><rect x="413" y="173" width="10.5" height="10.5" fill="#cccccc"/><rect x="423" y="173" width="10.5" height="10.5" fill="#e0e0e0"/><rect x="433" y="173" width="10.5" height="10.5" fill="#e0e0e0"/><rect x="283" y="183" width="10.5" height="10.5" fill="#747474"/><rect x="293" y="183" width="10.5" height="10.5" fill="#747474"/><rect x="303" y="183" width="10.5" height="10.5" fill="#747474"/><rect x="313" y="183" width="10.5" height="10.5" fill="#747474"/><rect x="323" y="183" width="10.5" height="10.5" fill="#747474"/><rect x="333" y="183" width="10.5" height="10.5" fill="#747474"/><rect x="343" y="183" width="10.5" height="10.5" fill="#747474"/><rect x="353" y="183" width="10.5" height="10.5" fill="#747474"/><rect x="363" y="183" width="10.5" height="10.5" fill="#747474"/><rect x="373" y="183" width="10.5" height="10.5" fill="#747474"/><rect x="383" y="183" width="10.5" height="10.5" fill="#747474"/><rect x="393" y="183" width="10.5" height="10.5" fill="#747474"/><rect x="403" y="183" width="10.5" height="10.5" fill="#cccccc"/><rect x="413" y="183" width="10.5" height="10.5" fill="#e0e0e0"/><rect x="423" y="183" width="10.5" height="10.5" fill="#e0e0e0"/><rect x="433" y="183" width="10.5" height="10.5" fill="#e0e0e0"/><rect x="283" y="193" width="10.5" height="10.5" fill="#5c5c5c"/><rect x="293" y="193" width="10.5" height="10.5" fill="#5c5c5c"/><rect x="303" y="193" width="10.5" height="10.5" fill="#747474"/><rect x="313" y="193" width="10.5" height="10.5" fill="#747474"/><rect x="323" y="193" width="10.5" height="10.5" fill="#747474"/><rect x="333" y="193" width="10.5" height="10.5" fill="#747474"/><rect x="343" y="193" width="10.5" height="10.5" fill="#747474"/><rect x="353" y="193" width="10.5" height="10.5" fill="#747474"/><rect x="363" y="193" width="10.5" height="10.5" fill="#747474"/><rect x="373" y="193" width="10.5" height="10.5" fill="#747474"/><rect x="383" y="193" width="10.5" height="10.5" fill="#747474"/><rect x="393" y="193" width="10.5" height="10.5" fill="#cccccc"/><rect x="403" y="193" width="10.5" height="10.5" fill="#e0e0e0"/><rect x="413" y="193" width="10.5" height="10.5" fill="#e0e0e0"/><rect x="423" y="193" width="10.5" height="10.5" fill="#e0e0e0"/><rect x="433" y="193" width="10.5" height="10.5" fill="#e0e0e0"/><rect x="283" y="203" width="10.5" height="10.5" fill="#5c5c5c"/><rect x="293" y="203" width="10.5" height="10.5" fill="#5c5c5c"/><rect x="303" y="203" width="10.5" height="10.5" fill="#5c5c5c"/><rect x="313" y="203" width="10.5" height="10.5" fill="#747474"/><rect x="323" y="203" width="10.5" height="10.5" fill="#747474"/><rect x="333" y="203" width="10.5" height="10.5" fill="#747474"/><rect x="343" y="203" width="10.5" height="10.5" fill="#747474"/><rect x="353" y="203" width="10.5" height="10.5" fill="#747474"/><rect x="363" y="203" width="10.5" height="10.5" fill="#747474"/><rect x="373" y="203" width="10.5" height="10.5" fill="#747474"/><rect x="383" y="203" width="10.5" height="10.5" fill="#cccccc"/><rect x="393" y="203" width="10.5" height="10.5" fill="#e0e0e0"/><rect x="403" y="203" width="10.5" height="10.5" fill="#e0e0e0"/><rect x="413" y="203" width="10.5" height="10.5" fill="#e0e0e0"/><rect x="423" y="203" width="10.5" height="10.5" fill="#e0e0e0"/><rect x="433" y="203" width="10.5" height="10.5" fill="#e0e0e0"/><rect x="283" y="213" width="10.5" height="10.5" fill="#5c5c5c"/><rect x="293" y="213" width="10.5" height="10.5" fill="#5c5c5c"/><rect x="303" y="213" width="10.5" height="10.5" fill="#5c5c5c"/><rect x="313" y="213" width="10.5" height="10.5" fill="#5c5c5c"/><rect x="323" y="213" width="10.5" height="10.5" fill="#747474"/><rect x="333" y="213" width="10.5" height="10.5" fill="#747474"/><rect x="343" y="213" width="10.5" height="10.5" fill="#747474"/><rect x="353" y="213" width="10.5" height="10.5" fill="#747474"/><rect x="363" y="213" width="10.5" height="10.5" fill="#747474"/><rect x="373" y="213" width="10.5" height="10.5" fill="#cccccc"/><rect x="383" y="213" width="10.5" height="10.5" fill="#e0e0e0"/><rect x="393" y="213" width="10.5" height="10.5" fill="#e0e0e0"/><rect x="403" y="213" width="10.5" height="10.5" fill="#e0e0e0"/><rect x="413" y="213" width="10.5" height="10.5" fill="#e0e0e0"/><rect x="423" y="213" width="10.5" height="10.5" fill="#e0e0e0"/><rect x="433" y="213" width="10.5" height="10.5" fill="#e0e0e0"/><rect x="283" y="223" width="10.5" height="10.5" fill="#5c5c5c"/><rect x="293" y="223" width="10.5" height="10.5" fill="#5c5c5c"/><rect x="303" y="223" width="10.5" height="10.5" fill="#5c5c5c"/><rect x="313" y="223" width="10.5" height="10.5" fill="#5c5c5c"/><rect x="323" y="223" width="10.5" height="10.5" fill="#5c5c5c"/><rect x="333" y="223" width="10.5" height="10.5" fill="#747474"/><rect x="343" y="223" width="10.5" height="10.5" fill="#747474"/><rect x="353" y="223" width="10.5" height="10.5" fill="#747474"/><rect x="363" y="223" width="10.5" height="10.5" fill="#b8b8b8"/><rect x="373" y="223" width="10.5" height="10.5" fill="#e0e0e0"/><rect x="383" y="223" width="10.5" height="10.5" fill="#e0e0e0"/><rect x="393" y="223" width="10.5" height="10.5" fill="#e0e0e0"/><rect x="403" y="223" width="10.5" height="10.5" fill="#e0e0e0"/><rect x="413" y="223" width="10.5" height="10.5" fill="#e0e0e0"/><rect x="423" y="223" width="10.5" height="10.5" fill="#949494"/><rect x="433" y="223" width="10.5" height="10.5" fill="#949494"/><rect x="283" y="233" width="10.5" height="10.5" fill="#5c5c5c"/><rect x="293" y="233" width="10.5" height="10.5" fill="#5c5c5c"/><rect x="303" y="233" width="10.5" height="10.5" fill="#5c5c5c"/><rect x="313" y="233" width="10.5" height="10.5" fill="#747474"/><rect x="323" y="233" width="10.5" height="10.5" fill="#747474"/><rect x="333" y="233" width="10.5" height="10.5" fill="#5c5c5c"/><rect x="343" y="233" width="10.5" height="10.5" fill="#747474"/><rect x="353" y="233" width="10.5" height="10.5" fill="#747474"/><rect x="363" y="233" width="10.5" height="10.5" fill="#b8b8b8"/><rect x="373" y="233" width="10.5" height="10.5" fill="#e0e0e0"/><rect x="383" y="233" width="10.5" height="10.5" fill="#e0e0e0"/><rect x="393" y="233" width="10.5" height="10.5" fill="#e0e0e0"/><rect x="403" y="233" width="10.5" height="10.5" fill="#e0e0e0"/><rect x="413" y="233" width="10.5" height="10.5" fill="#949494"/><rect x="423" y="233" width="10.5" height="10.5" fill="#a3a3a3"/><rect x="433" y="233" width="10.5" height="10.5" fill="#a3a3a3"/><rect x="283" y="243" width="10.5" height="10.5" fill="#5c5c5c"/><rect x="293" y="243" width="10.5" height="10.5" fill="#5c5c5c"/><rect x="303" y="243" width="10.5" height="10.5" fill="#5c5c5c"/><rect x="313" y="243" width="10.5" height="10.5" fill="#747474"/><rect x="323" y="243" width="10.5" height="10.5" fill="#5c5c5c"/><rect x="333" y="243" width="10.5" height="10.5" fill="#cccccc"/><rect x="343" y="243" width="10.5" height="10.5" fill="#474747"/><rect x="353" y="243" width="10.5" height="10.5" fill="#333333"/><rect x="363" y="243" width="10.5" height="10.5" fill="#ffffff"/><rect x="373" y="243" width="10.5" height="10.5" fill="#b8b8b8"/><rect x="383" y="243" width="10.5" height="10.5" fill="#e0e0e0"/><rect x="393" y="243" width="10.5" height="10.5" fill="#808080"/><rect x="403" y="243" width="10.5" height="10.5" fill="#949494"/><rect x="413" y="243" width="10.5" height="10.5" fill="#a3a3a3"/><rect x="423" y="243" width="10.5" height="10.5" fill="#949494"/><rect x="433" y="243" width="10.5" height="10.5" fill="#949494"/><rect x="283" y="253" width="10.5" height="10.5" fill="#5c5c5c"/><rect x="293" y="253" width="10.5" height="10.5" fill="#5c5c5c"/><rect x="303" y="253" width="10.5" height="10.5" fill="#949494"/><rect x="313" y="253" width="10.5" height="10.5" fill="#b8b8b8"/><rect x="323" y="253" width="10.5" height="10.5" fill="#949494"/><rect x="333" y="253" width="10.5" height="10.5" fill="#808080"/><rect x="343" y="253" width="10.5" height="10.5" fill="#474747"/><rect x="353" y="253" width="10.5" height="10.5" fill="#474747"/><rect x="363" y="253" width="10.5" height="10.5" fill="#ffffff"/><rect x="373" y="253" width="10.5" height="10.5" fill="#b8b8b8"/><rect x="383" y="253" width="10.5" height="10.5" fill="#808080"/><rect x="393" y="253" width="10.5" height="10.5" fill="#949494"/><rect x="403" y="253" width="10.5" height="10.5" fill="#a3a3a3"/><rect x="413" y="253" width="10.5" height="10.5" fill="#949494"/><rect x="423" y="253" width="10.5" height="10.5" fill="#a3a3a3"/><rect x="433" y="253" width="10.5" height="10.5" fill="#a3a3a3"/><rect x="283" y="263" width="10.5" height="10.5" fill="#949494"/><rect x="293" y="263" width="10.5" height="10.5" fill="#949494"/><rect x="303" y="263" width="10.5" height="10.5" fill="#949494"/><rect x="313" y="263" width="10.5" height="10.5" fill="#474747"/><rect x="323" y="263" width="10.5" height="10.5" fill="#474747"/><rect x="333" y="263" width="10.5" height="10.5" fill="#474747"/><rect x="343" y="263" width="10.5" height="10.5" fill="#333333"/><rect x="353" y="263" width="10.5" height="10.5" fill="#474747"/><rect x="363" y="263" width="10.5" height="10.5" fill="#b8b8b8"/><rect x="373" y="263" width="10.5" height="10.5" fill="#b8b8b8"/><rect x="383" y="263" width="10.5" height="10.5" fill="#808080"/><rect x="393" y="263" width="10.5" height="10.5" fill="#747474"/><rect x="403" y="263" width="10.5" height="10.5" fill="#808080"/><rect x="413" y="263" width="10.5" height="10.5" fill="#949494"/><rect x="423" y="263" width="10.5" height="10.5" fill="#b8b8b8"/><rect x="433" y="263" width="10.5" height="10.5" fill="#b8b8b8"/><rect x="283" y="273" width="10.5" height="10.5" fill="#949494"/><rect x="293" y="273" width="10.5" height="10.5" fill="#949494"/><rect x="303" y="273" width="10.5" height="10.5" fill="#474747"/><rect x="313" y="273" width="10.5" height="10.5" fill="#333333"/><rect x="323" y="273" width="10.5" height="10.5" fill="#474747"/><rect x="333" y="273" width="10.5" height="10.5" fill="#333333"/><rect x="343" y="273" width="10.5" height="10.5" fill="#333333"/><rect x="353" y="273" width="10.5" height="10.5" fill="#5c5c5c"/><rect x="363" y="273" width="10.5" height="10.5" fill="#949494"/><rect x="373" y="273" width="10.5" height="10.5" fill="#949494"/><rect x="383" y="273" width="10.5" height="10.5" fill="#808080"/><rect x="393" y="273" width="10.5" height="10.5" fill="#949494"/><rect x="403" y="273" width="10.5" height="10.5" fill="#b8b8b8"/><rect x="413" y="273" width="10.5" height="10.5" fill="#949494"/><rect x="423" y="273" width="10.5" height="10.5" fill="#e0e0e0"/><rect x="433" y="273" width="10.5" height="10.5" fill="#e0e0e0"/><rect x="283" y="283" width="10.5" height="10.5" fill="#474747"/><rect x="293" y="283" width="10.5" height="10.5" fill="#474747"/><rect x="303" y="283" width="10.5" height="10.5" fill="#333333"/><rect x="313" y="283" width="10.5" height="10.5" fill="#333333"/><rect x="323" y="283" width="10.5" height="10.5" fill="#333333"/><rect x="333" y="283" width="10.5" height="10.5" fill="#333333"/><rect x="343" y="283" width="10.5" height="10.5" fill="#474747"/><rect x="353" y="283" width="10.5" height="10.5" fill="#5c5c5c"/><rect x="363" y="283" width="10.5" height="10.5" fill="#949494"/><rect x="373" y="283" width="10.5" height="10.5" fill="#a3a3a3"/><rect x="383" y="283" width="10.5" height="10.5" fill="#949494"/><rect x="393" y="283" width="10.5" height="10.5" fill="#b8b8b8"/><rect x="403" y="283" width="10.5" height="10.5" fill="#b8b8b8"/><rect x="413" y="283" width="10.5" height="10.5" fill="#949494"/><rect x="423" y="283" width="10.5" height="10.5" fill="#949494"/><rect x="433" y="283" width="10.5" height="10.5" fill="#949494"/><rect x="283" y="293" width="10.5" height="10.5" fill="#333333"/><rect x="293" y="293" width="10.5" height="10.5" fill="#333333"/><rect x="303" y="293" width="10.5" height="10.5" fill="#333333"/><rect x="313" y="293" width="10.5" height="10.5" fill="#333333"/><rect x="323" y="293" width="10.5" height="10.5" fill="#333333"/><rect x="333" y="293" width="10.5" height="10.5" fill="#474747"/><rect x="343" y="293" width="10.5" height="10.5" fill="#333333"/><rect x="353" y="293" width="10.5" height="10.5" fill="#747474"/><rect x="363" y="293" width="10.5" height="10.5" fill="#808080"/><rect x="373" y="293" width="10.5" height="10.5" fill="#949494"/><rect x="383" y="293" width="10.5" height="10.5" fill="#949494"/><rect x="393" y="293" width="10.5" height="10.5" fill="#949494"/><rect x="403" y="293" width="10.5" height="10.5" fill="#949494"/><rect x="413" y="293" width="10.5" height="10.5" fill="#949494"/><rect x="423" y="293" width="10.5" height="10.5" fill="#747474"/><rect x="433" y="293" width="10.5" height="10.5" fill="#747474"/><rect x="283" y="303" width="10.5" height="10.5" fill="#333333"/><rect x="293" y="303" width="10.5" height="10.5" fill="#333333"/><rect x="303" y="303" width="10.5" height="10.5" fill="#333333"/><rect x="313" y="303" width="10.5" height="10.5" fill="#333333"/><rect x="323" y="303" width="10.5" height="10.5" fill="#5c5c5c"/><rect x="333" y="303" width="10.5" height="10.5" fill="#747474"/><rect x="343" y="303" width="10.5" height="10.5" fill="#949494"/><rect x="353" y="303" width="10.5" height="10.5" fill="#747474"/><rect x="363" y="303" width="10.5" height="10.5" fill="#949494"/><rect x="373" y="303" width="10.5" height="10.5" fill="#808080"/><rect x="383" y="303" width="10.5" height="10.5" fill="#808080"/><rect x="393" y="303" width="10.5" height="10.5" fill="#b8b8b8"/><rect x="403" y="303" width="10.5" height="10.5" fill="#949494"/><rect x="413" y="303" width="10.5" height="10.5" fill="#949494"/><rect x="423" y="303" width="10.5" height="10.5" fill="#808080"/><rect x="433" y="303" width="10.5" height="10.5" fill="#808080"/><rect x="283" y="313" width="10.5" height="10.5" fill="#333333"/><rect x="293" y="313" width="10.5" height="10.5" fill="#333333"/><rect x="303" y="313" width="10.5" height="10.5" fill="#333333"/><rect x="313" y="313" width="10.5" height="10.5" fill="#333333"/><rect x="323" y="313" width="10.5" height="10.5" fill="#5c5c5c"/><rect x="333" y="313" width="10.5" height="10.5" fill="#747474"/><rect x="343" y="313" width="10.5" height="10.5" fill="#949494"/><rect x="353" y="313" width="10.5" height="10.5" fill="#747474"/><rect x="363" y="313" width="10.5" height="10.5" fill="#949494"/><rect x="373" y="313" width="10.5" height="10.5" fill="#808080"/><rect x="383" y="313" width="10.5" height="10.5" fill="#808080"/><rect x="393" y="313" width="10.5" height="10.5" fill="#b8b8b8"/><rect x="403" y="313" width="10.5" height="10.5" fill="#949494"/><rect x="413" y="313" width="10.5" height="10.5" fill="#949494"/><rect x="423" y="313" width="10.5" height="10.5" fill="#808080"/><rect x="433" y="313" width="10.5" height="10.5" fill="#808080"/><polygon points="362.9,237.3 368.0,231.3 375.6,226.2 380.7,223.7 382.4,227.1 377.3,232.2 372.2,237.3 365.5,241.5" fill="#b8b8b8"/><polygon points="380.7,223.7 387.5,222.8 392.6,226.2 393.5,230.5 388.4,237.3 380.7,240.6 375.6,242.3 372.2,238.1 377.3,232.2" fill="#e0e0e0"/><polygon points="359.5,244.0 365.5,241.5 375.6,242.3 377.3,249.1 375.6,255.9 373.9,264.4 368.0,266.1 362.9,261.0 360.4,252.5" fill="#f7f7f7"/><polygon points="373.0,257.0 383.0,256.0 385.0,262.0 378.0,267.0 372.0,265.0" fill="#b8b8b8"/></g></g></g>
</g>
<g transform="matrix(1.00000 0 0 1.00000 0.000 389.900)"><use href="#map"/></g>
<text x="163.3" y="503.1" font-size="13.2" font-weight="bold" fill="#262626" stroke="#262626" stroke-width="0.25" text-anchor="end" textLength="16.6" lengthAdjust="spacingAndGlyphs">48</text>
<ellipse cx="168.0" cy="489.8" rx="1.55" ry="1.2" fill="none" stroke="#262626" stroke-width="0.85"/>
<text x="176.0" y="503.1" font-size="13.2" font-weight="bold" fill="#262626" stroke="#262626" stroke-width="0.25" textLength="9.2" lengthAdjust="spacingAndGlyphs">N</text>
<text x="163.3" y="521.4" font-size="13.2" font-weight="bold" fill="#262626" stroke="#262626" stroke-width="0.25" text-anchor="end" textLength="16.6" lengthAdjust="spacingAndGlyphs">46</text>
<ellipse cx="168.0" cy="508.1" rx="1.55" ry="1.2" fill="none" stroke="#262626" stroke-width="0.85"/>
<text x="176.0" y="521.4" font-size="13.2" font-weight="bold" fill="#262626" stroke="#262626" stroke-width="0.25" textLength="9.2" lengthAdjust="spacingAndGlyphs">N</text>
<text x="163.3" y="539.1" font-size="13.2" font-weight="bold" fill="#262626" stroke="#262626" stroke-width="0.25" text-anchor="end" textLength="16.6" lengthAdjust="spacingAndGlyphs">44</text>
<ellipse cx="168.0" cy="525.8" rx="1.55" ry="1.2" fill="none" stroke="#262626" stroke-width="0.85"/>
<text x="176.0" y="539.1" font-size="13.2" font-weight="bold" fill="#262626" stroke="#262626" stroke-width="0.25" textLength="9.2" lengthAdjust="spacingAndGlyphs">N</text>
<text x="163.3" y="556.2" font-size="13.2" font-weight="bold" fill="#262626" stroke="#262626" stroke-width="0.25" text-anchor="end" textLength="16.6" lengthAdjust="spacingAndGlyphs">42</text>
<ellipse cx="168.0" cy="542.9" rx="1.55" ry="1.2" fill="none" stroke="#262626" stroke-width="0.85"/>
<text x="176.0" y="556.2" font-size="13.2" font-weight="bold" fill="#262626" stroke="#262626" stroke-width="0.25" textLength="9.2" lengthAdjust="spacingAndGlyphs">N</text>
<text x="163.3" y="572.7" font-size="13.2" font-weight="bold" fill="#262626" stroke="#262626" stroke-width="0.25" text-anchor="end" textLength="16.6" lengthAdjust="spacingAndGlyphs">40</text>
<ellipse cx="168.0" cy="559.4" rx="1.55" ry="1.2" fill="none" stroke="#262626" stroke-width="0.85"/>
<text x="176.0" y="572.7" font-size="13.2" font-weight="bold" fill="#262626" stroke="#262626" stroke-width="0.25" textLength="9.2" lengthAdjust="spacingAndGlyphs">N</text>
<text x="163.3" y="588.8" font-size="13.2" font-weight="bold" fill="#262626" stroke="#262626" stroke-width="0.25" text-anchor="end" textLength="16.6" lengthAdjust="spacingAndGlyphs">38</text>
<ellipse cx="168.0" cy="575.5" rx="1.55" ry="1.2" fill="none" stroke="#262626" stroke-width="0.85"/>
<text x="176.0" y="588.8" font-size="13.2" font-weight="bold" fill="#262626" stroke="#262626" stroke-width="0.25" textLength="9.2" lengthAdjust="spacingAndGlyphs">N</text>
<text x="163.3" y="604.5" font-size="13.2" font-weight="bold" fill="#262626" stroke="#262626" stroke-width="0.25" text-anchor="end" textLength="16.6" lengthAdjust="spacingAndGlyphs">36</text>
<ellipse cx="168.0" cy="591.2" rx="1.55" ry="1.2" fill="none" stroke="#262626" stroke-width="0.85"/>
<text x="176.0" y="604.5" font-size="13.2" font-weight="bold" fill="#262626" stroke="#262626" stroke-width="0.25" textLength="9.2" lengthAdjust="spacingAndGlyphs">N</text>
<text x="163.3" y="619.7" font-size="13.2" font-weight="bold" fill="#262626" stroke="#262626" stroke-width="0.25" text-anchor="end" textLength="16.6" lengthAdjust="spacingAndGlyphs">34</text>
<ellipse cx="168.0" cy="606.4" rx="1.55" ry="1.2" fill="none" stroke="#262626" stroke-width="0.85"/>
<text x="176.0" y="619.7" font-size="13.2" font-weight="bold" fill="#262626" stroke="#262626" stroke-width="0.25" textLength="9.2" lengthAdjust="spacingAndGlyphs">N</text>
<text x="163.3" y="634.6" font-size="13.2" font-weight="bold" fill="#262626" stroke="#262626" stroke-width="0.25" text-anchor="end" textLength="16.6" lengthAdjust="spacingAndGlyphs">32</text>
<ellipse cx="168.0" cy="621.3" rx="1.55" ry="1.2" fill="none" stroke="#262626" stroke-width="0.85"/>
<text x="176.0" y="634.6" font-size="13.2" font-weight="bold" fill="#262626" stroke="#262626" stroke-width="0.25" textLength="9.2" lengthAdjust="spacingAndGlyphs">N</text>
<text x="163.3" y="649.2" font-size="13.2" font-weight="bold" fill="#262626" stroke="#262626" stroke-width="0.25" text-anchor="end" textLength="16.6" lengthAdjust="spacingAndGlyphs">30</text>
<ellipse cx="168.0" cy="635.9" rx="1.55" ry="1.2" fill="none" stroke="#262626" stroke-width="0.85"/>
<text x="176.0" y="649.2" font-size="13.2" font-weight="bold" fill="#262626" stroke="#262626" stroke-width="0.25" textLength="9.2" lengthAdjust="spacingAndGlyphs">N</text>
<text x="163.3" y="663.5" font-size="13.2" font-weight="bold" fill="#262626" stroke="#262626" stroke-width="0.25" text-anchor="end" textLength="16.6" lengthAdjust="spacingAndGlyphs">28</text>
<ellipse cx="168.0" cy="650.2" rx="1.55" ry="1.2" fill="none" stroke="#262626" stroke-width="0.85"/>
<text x="176.0" y="663.5" font-size="13.2" font-weight="bold" fill="#262626" stroke="#262626" stroke-width="0.25" textLength="9.2" lengthAdjust="spacingAndGlyphs">N</text>
<text x="163.3" y="677.5" font-size="13.2" font-weight="bold" fill="#262626" stroke="#262626" stroke-width="0.25" text-anchor="end" textLength="16.6" lengthAdjust="spacingAndGlyphs">26</text>
<ellipse cx="168.0" cy="664.2" rx="1.55" ry="1.2" fill="none" stroke="#262626" stroke-width="0.85"/>
<text x="176.0" y="677.5" font-size="13.2" font-weight="bold" fill="#262626" stroke="#262626" stroke-width="0.25" textLength="9.2" lengthAdjust="spacingAndGlyphs">N</text>
<text x="163.3" y="691.3" font-size="13.2" font-weight="bold" fill="#262626" stroke="#262626" stroke-width="0.25" text-anchor="end" textLength="16.6" lengthAdjust="spacingAndGlyphs">24</text>
<ellipse cx="168.0" cy="678.0" rx="1.55" ry="1.2" fill="none" stroke="#262626" stroke-width="0.85"/>
<text x="176.0" y="691.3" font-size="13.2" font-weight="bold" fill="#262626" stroke="#262626" stroke-width="0.25" textLength="9.2" lengthAdjust="spacingAndGlyphs">N</text>
<text x="163.3" y="704.9" font-size="13.2" font-weight="bold" fill="#262626" stroke="#262626" stroke-width="0.25" text-anchor="end" textLength="16.6" lengthAdjust="spacingAndGlyphs">22</text>
<ellipse cx="168.0" cy="691.6" rx="1.55" ry="1.2" fill="none" stroke="#262626" stroke-width="0.85"/>
<text x="176.0" y="704.9" font-size="13.2" font-weight="bold" fill="#262626" stroke="#262626" stroke-width="0.25" textLength="9.2" lengthAdjust="spacingAndGlyphs">N</text>
<text x="240.3" y="466.8" font-size="13.2" font-weight="bold" fill="#262626" stroke="#262626" stroke-width="0.25" text-anchor="end" textLength="24.4" lengthAdjust="spacingAndGlyphs">100</text>
<ellipse cx="245.0" cy="454.4" rx="1.55" ry="1.2" fill="none" stroke="#262626" stroke-width="0.85"/>
<text x="253.3" y="466.8" font-size="13.2" font-weight="bold" fill="#262626" stroke="#262626" stroke-width="0.25" textLength="12.6" lengthAdjust="spacingAndGlyphs">W</text>
<text x="300.6" y="466.8" font-size="13.2" font-weight="bold" fill="#262626" stroke="#262626" stroke-width="0.25" text-anchor="end" textLength="15.9" lengthAdjust="spacingAndGlyphs">90</text>
<ellipse cx="304.9" cy="454.4" rx="1.55" ry="1.2" fill="none" stroke="#262626" stroke-width="0.85"/>
<text x="313.6" y="466.8" font-size="13.2" font-weight="bold" fill="#262626" stroke="#262626" stroke-width="0.25" textLength="12.6" lengthAdjust="spacingAndGlyphs">W</text>
<text x="364.5" y="466.8" font-size="13.2" font-weight="bold" fill="#262626" stroke="#262626" stroke-width="0.25" text-anchor="end" textLength="15.9" lengthAdjust="spacingAndGlyphs">80</text>
<ellipse cx="369.7" cy="454.4" rx="1.55" ry="1.2" fill="none" stroke="#262626" stroke-width="0.85"/>
<text x="377.2" y="466.8" font-size="13.2" font-weight="bold" fill="#262626" stroke="#262626" stroke-width="0.25" textLength="12.6" lengthAdjust="spacingAndGlyphs">W</text>
<text x="427.5" y="466.8" font-size="13.2" font-weight="bold" fill="#262626" stroke="#262626" stroke-width="0.25" text-anchor="end" textLength="15.9" lengthAdjust="spacingAndGlyphs">70</text>
<ellipse cx="432.0" cy="454.4" rx="1.55" ry="1.2" fill="none" stroke="#262626" stroke-width="0.85"/>
<text x="440.0" y="466.8" font-size="13.2" font-weight="bold" fill="#262626" stroke="#262626" stroke-width="0.25" textLength="12.6" lengthAdjust="spacingAndGlyphs">W</text>
<rect x="441.1" y="485.2" width="23.5" height="215.3" fill="url(#jet)" stroke="#111" stroke-width="0.8"/>
<line x1="462.1" y1="689.0" x2="464.6" y2="689.0" stroke="#262626" stroke-width="0.6"/>
<text x="473.8" y="696.2" font-size="22.5" font-weight="bold" fill="#262626" stroke="#262626" stroke-width="0.35" textLength="20.6" lengthAdjust="spacingAndGlyphs">-5</text>
<line x1="462.1" y1="592.9" x2="464.6" y2="592.9" stroke="#262626" stroke-width="0.6"/>
<text x="473.8" y="600.1" font-size="22.5" font-weight="bold" fill="#262626" stroke="#262626" stroke-width="0.35" textLength="12.3" lengthAdjust="spacingAndGlyphs">0</text>
<line x1="462.1" y1="496.7" x2="464.6" y2="496.7" stroke="#262626" stroke-width="0.6"/>
<text x="473.8" y="503.9" font-size="22.5" font-weight="bold" fill="#262626" stroke="#262626" stroke-width="0.35" textLength="12.3" lengthAdjust="spacingAndGlyphs">5</text>
<text x="130.1" y="731.1" font-size="23.2" font-weight="bold" fill="#262626" stroke="#262626" stroke-width="0.35" textLength="354.7" lengthAdjust="spacingAndGlyphs">SAT-RAP 850 hPa MR (g/kg)</text>
<rect x="616.5" y="486.4" width="233.9" height="212.9" fill="none" stroke="#000" stroke-width="1"/>
<g transform="matrix(1.00000 0 0 1.00000 420.900 389.900)">
<clipPath id="sw5"><polygon points="431.8,176.5 405.0,180.0 377.0,185.1 358.3,189.8 339.7,194.5 321.0,199.1 307.0,203.8 297.7,208.5 294.6,212.5 294.3,221.0 296.0,232.0 299.0,243.0 303.5,249.0 307.5,254.0 310.7,261.7 316.3,273.8 321.0,285.0 323.8,295.3 327.5,308.3 332.2,312.0 432.5,312.0"/></clipPath><clipPath id="mk5"><polygon points="296.0,243.0 303.5,249.0 307.5,254.0 310.7,261.7 316.3,273.8 321.0,285.0 323.8,295.3 327.5,308.3 332.2,312.0 432.5,312.0 432.5,265.0 424.6,261.0 414.3,257.5 405.0,257.5 395.7,257.5 386.3,256.5 378.0,255.5 377.0,249.0 376.0,243.0 360.0,242.0 345.0,244.0 330.0,243.0 315.0,243.0"/><polygon points="359.5,242.0 365.5,234.7 374.0,228.8 380.7,223.4 387.5,222.3 392.6,225.4 394.5,230.0 394.0,235.6 388.4,238.5 382.4,242.3 377.8,246.0 377.3,250.0 376.5,255.5 369.7,256.0 362.0,256.0"/><polygon points="327.5,229.0 330.3,223.4 339.7,218.7 349.0,216.9 358.3,215.5 367.7,216.5 372.3,221.0 376.0,226.0 372.0,234.0 365.0,238.0 358.0,239.0 350.0,238.0 342.0,237.0 335.0,237.0 330.0,233.0"/><polygon points="303.5,238.0 308.0,234.5 318.0,234.0 328.0,235.0 333.0,238.0 333.0,244.0 304.0,244.0"/></clipPath><g clip-path="url(#sw5)"><g clip-path="url(#mk5)"><g filter="url(#blr)"><rect x="283" y="163" width="10.5" height="10.5" fill="#5c5c5c"/><rect x="293" y="163" width="10.5" height="10.5" fill="#5c5c5c"/><rect x="303" y="163" width="10.5" height="10.5" fill="#5c5c5c"/><rect x="313" y="163" width="10.5" height="10.5" fill="#5c5c5c"/><rect x="323" y="163" width="10.5" height="10.5" fill="#5c5c5c"/><rect x="333" y="163" width="10.5" height="10.5" fill="#5c5c5c"/><rect x="343" y="163" width="10.5" height="10.5" fill="#5c5c5c"/><rect x="353" y="163" width="10.5" height="10.5" fill="#5c5c5c"/><rect x="363" y="163" width="10.5" height="10.5" fill="#5c5c5c"/><rect x="373" y="163" width="10.5" height="10.5" fill="#5c5c5c"/><rect x="383" y="163" width="10.5" height="10.5" fill="#5c5c5c"/><rect x="393" y="163" width="10.5" height="10.5" fill="#747474"/><rect x="403" y="163" width="10.5" height="10.5" fill="#747474"/><rect x="413" y="163" width="10.5" height="10.5" fill="#808080"/><rect x="423" y="163" width="10.5" height="10.5" fill="#808080"/><rect x="433" y="163" width="10.5" height="10.5" fill="#808080"/><rect x="283" y="173" width="10.5" height="10.5" fill="#5c5c5c"/><rect x="293" y="173" width="10.5" height="10.5" fill="#5c5c5c"/><rect x="303" y="173" width="10.5" height="10.5" fill="#5c5c5c"/><rect x="313" y="173" width="10.5" height="10.5" fill="#5c5c5c"/><rect x="323" y="173" width="10.5" height="10.5" fill="#5c5c5c"/><rect x="333" y="173" width="10.5" height="10.5" fill="#5c5c5c"/><rect x="343" y="173" width="10.5" height="10.5" fill="#5c5c5c"/><rect x="353" y="173" width="10.5" height="10.5" fill="#5c5c5c"/><rect x="363" y="173" width="10.5" height="10.5" fill="#5c5c5c"/><rect x="373" y="173" width="10.5" height="10.5" fill="#5c5c5c"/><rect x="383" y="173" width="10.5" height="10.5" fill="#5c5c5c"/><rect x="393" y="173" width="10.5" height="10.5" fill="#747474"/><rect x="403" y="173" width="10.5" height="10.5" fill="#747474"/><rect x="413" y="173" width="10.5" height="10.5" fill="#808080"/><rect x="423" y="173" width="10.5" height="10.5" fill="#808080"/><rect x="433" y="173" width="10.5" height="10.5" fill="#808080"/><rect x="283" y="183" width="10.5" height="10.5" fill="#5c5c5c"/><rect x="293" y="183" width="10.5" height="10.5" fill="#5c5c5c"/><rect x="303" y="183" width="10.5" height="10.5" fill="#5c5c5c"/><rect x="313" y="183" width="10.5" height="10.5" fill="#5c5c5c"/><rect x="323" y="183" width="10.5" height="10.5" fill="#5c5c5c"/><rect x="333" y="183" width="10.5" height="10.5" fill="#5c5c5c"/><rect x="343" y="183" width="10.5" height="10.5" fill="#5c5c5c"/><rect x="353" y="183" width="10.5" height="10.5" fill="#5c5c5c"/><rect x="363" y="183" width="10.5" height="10.5" fill="#5c5c5c"/><rect x="373" y="183" width="10.5" height="10.5" fill="#5c5c5c"/><rect x="383" y="183" width="10.5" height="10.5" fill="#747474"/><rect x="393" y="183" width="10.5" height="10.5" fill="#747474"/><rect x="403" y="183" width="10.5" height="10.5" fill="#808080"/><rect x="413" y="183" width="10.5" height="10.5" fill="#808080"/><rect x="423" y="183" width="10.5" height="10.5" fill="#949494"/><rect x="433" y="183" width="10.5" height="10.5" fill="#949494"/><rect x="283" y="193" width="10.5" height="10.5" fill="#5c5c5c"/><rect x="293" y="193" width="10.5" height="10.5" fill="#5c5c5c"/><rect x="303" y="193" width="10.5" height="10.5" fill="#5c5c5c"/><rect x="313" y="193" width="10.5" height="10.5" fill="#5c5c5c"/><rect x="323" y="193" width="10.5" height="10.5" fill="#5c5c5c"/><rect x="333" y="193" width="10.5" height="10.5" fill="#5c5c5c"/><rect x="343" y="193" width="10.5" height="10.5" fill="#5c5c5c"/><rect x="353" y="193" width="10.5" height="10.5" fill="#5c5c5c"/><rect x="363" y="193" width="10.5" height="10.5" fill="#5c5c5c"/><rect x="373" y="193" width="10.5" height="10.5" fill="#747474"/><rect x="383" y="193" width="10.5" height="10.5" fill="#747474"/><rect x="393" y="193" width="10.5" height="10.5" fill="#808080"/><rect x="403" y="193" width="10.5" height="10.5" fill="#808080"/><rect x="413" y="193" width="10.5" height="10.5" fill="#949494"/><rect x="423" y="193" width="10.5" height="10.5" fill="#949494"/><rect x="433" y="193" width="10.5" height="10.5" fill="#949494"/><rect x="283" y="203" width="10.5" height="10.5" fill="#5c5c5c"/><rect x="293" y="203" width="10.5" height="10.5" fill="#5c5c5c"/><rect x="303" y="203" width="10.5" height="10.5" fill="#5c5c5c"/><rect x="313" y="203" width="10.5" height="10.5" fill="#5c5c5c"/><rect x="323" y="203" width="10.5" height="10.5" fill="#5c5c5c"/><rect x="333" y="203" width="10.5" height="10.5" fill="#5c5c5c"/><rect x="343" y="203" width="10.5" height="10.5" fill="#5c5c5c"/><rect x="353" y="203" width="10.5" height="10.5" fill="#5c5c5c"/><rect x="363" y="203" width="10.5" height="10.5" fill="#747474"/><rect x="373" y="203" width="10.5" height="10.5" fill="#747474"/><rect x="383" y="203" width="10.5" height="10.5" fill="#808080"/><rect x="393" y="203" width="10.5" height="10.5" fill="#808080"/><rect x="403" y="203" width="10.5" height="10.5" fill="#949494"/><rect x="413" y="203" width="10.5" height="10.5" fill="#949494"/><rect x="423" y="203" width="10.5" height="10.5" fill="#949494"/><rect x="433" y="203" width="10.5" height="10.5" fill="#949494"/><rect x="283" y="213" width="10.5" height="10.5" fill="#808080"/><rect x="293" y="213" width="10.5" height="10.5" fill="#808080"/><rect x="303" y="213" width="10.5" height="10.5" fill="#5c5c5c"/><rect x="313" y="213" width="10.5" height="10.5" fill="#5c5c5c"/><rect x="323" y="213" width="10.5" height="10.5" fill="#5c5c5c"/><rect x="333" y="213" width="10.5" height="10.5" fill="#5c5c5c"/><rect x="343" y="213" width="10.5" height="10.5" fill="#5c5c5c"/><rect x="353" y="213" width="10.5" height="10.5" fill="#747474"/><rect x="363" y="213" width="10.5" height="10.5" fill="#747474"/><rect x="373" y="213" width="10.5" height="10.5" fill="#808080"/><rect x="383" y="213" width="10.5" height="10.5" fill="#808080"/><rect x="393" y="213" width="10.5" height="10.5" fill="#949494"/><rect x="403" y="213" width="10.5" height="10.5" fill="#949494"/><rect x="413" y="213" width="10.5" height="10.5" fill="#949494"/><rect x="423" y="213" width="10.5" height="10.5" fill="#949494"/><rect x="433" y="213" width="10.5" height="10.5" fill="#949494"/><rect x="283" y="223" width="10.5" height="10.5" fill="#808080"/><rect x="293" y="223" width="10.5" height="10.5" fill="#808080"/><rect x="303" y="223" width="10.5" height="10.5" fill="#808080"/><rect x="313" y="223" width="10.5" height="10.5" fill="#5c5c5c"/><rect x="323" y="223" width="10.5" height="10.5" fill="#5c5c5c"/><rect x="333" y="223" width="10.5" height="10.5" fill="#5c5c5c"/><rect x="343" y="223" width="10.5" height="10.5" fill="#5c5c5c"/><rect x="353" y="223" width="10.5" height="10.5" fill="#747474"/><rect x="363" y="223" width="10.5" height="10.5" fill="#5c5c5c"/><rect x="373" y="223" width="10.5" height="10.5" fill="#808080"/><rect x="383" y="223" width="10.5" height="10.5" fill="#949494"/><rect x="393" y="223" width="10.5" height="10.5" fill="#949494"/><rect x="403" y="223" width="10.5" height="10.5" fill="#949494"/><rect x="413" y="223" width="10.5" height="10.5" fill="#949494"/><rect x="423" y="223" width="10.5" height="10.5" fill="#949494"/><rect x="433" y="223" width="10.5" height="10.5" fill="#949494"/><rect x="283" y="233" width="10.5" height="10.5" fill="#808080"/><rect x="293" y="233" width="10.5" height="10.5" fill="#808080"/><rect x="303" y="233" width="10.5" height="10.5" fill="#808080"/><rect x="313" y="233" width="10.5" height="10.5" fill="#747474"/><rect x="323" y="233" width="10.5" height="10.5" fill="#5c5c5c"/><rect x="333" y="233" width="10.5" height="10.5" fill="#5c5c5c"/><rect x="343" y="233" width="10.5" height="10.5" fill="#5c5c5c"/><rect x="353" y="233" width="10.5" height="10.5" fill="#747474"/><rect x="363" y="233" width="10.5" height="10.5" fill="#949494"/><rect x="373" y="233" width="10.5" height="10.5" fill="#949494"/><rect x="383" y="233" width="10.5" height="10.5" fill="#b8b8b8"/><rect x="393" y="233" width="10.5" height="10.5" fill="#949494"/><rect x="403" y="233" width="10.5" height="10.5" fill="#949494"/><rect x="413" y="233" width="10.5" height="10.5" fill="#949494"/><rect x="423" y="233" width="10.5" height="10.5" fill="#808080"/><rect x="433" y="233" width="10.5" height="10.5" fill="#808080"/><rect x="283" y="243" width="10.5" height="10.5" fill="#808080"/><rect x="293" y="243" width="10.5" height="10.5" fill="#808080"/><rect x="303" y="243" width="10.5" height="10.5" fill="#5c5c5c"/><rect x="313" y="243" width="10.5" height="10.5" fill="#5c5c5c"/><rect x="323" y="243" width="10.5" height="10.5" fill="#747474"/><rect x="333" y="243" width="10.5" height="10.5" fill="#747474"/><rect x="343" y="243" width="10.5" height="10.5" fill="#5c5c5c"/><rect x="353" y="243" width="10.5" height="10.5" fill="#747474"/><rect x="363" y="243" width="10.5" height="10.5" fill="#b8b8b8"/><rect x="373" y="243" width="10.5" height="10.5" fill="#a3a3a3"/><rect x="383" y="243" width="10.5" height="10.5" fill="#949494"/><rect x="393" y="243" width="10.5" height="10.5" fill="#b8b8b8"/><rect x="403" y="243" width="10.5" height="10.5" fill="#949494"/><rect x="413" y="243" width="10.5" height="10.5" fill="#808080"/><rect x="423" y="243" width="10.5" height="10.5" fill="#808080"/><rect x="433" y="243" width="10.5" height="10.5" fill="#808080"/><rect x="283" y="253" width="10.5" height="10.5" fill="#5c5c5c"/><rect x="293" y="253" width="10.5" height="10.5" fill="#5c5c5c"/><rect x="303" y="253" width="10.5" height="10.5" fill="#949494"/><rect x="313" y="253" width="10.5" height="10.5" fill="#808080"/><rect x="323" y="253" width="10.5" height="10.5" fill="#808080"/><rect x="333" y="253" width="10.5" height="10.5" fill="#808080"/><rect x="343" y="253" width="10.5" height="10.5" fill="#747474"/><rect x="353" y="253" width="10.5" height="10.5" fill="#5c5c5c"/><rect x="363" y="253" width="10.5" height="10.5" fill="#747474"/><rect x="373" y="253" width="10.5" height="10.5" fill="#747474"/><rect x="383" y="253" width="10.5" height="10.5" fill="#5c5c5c"/><rect x="393" y="253" width="10.5" height="10.5" fill="#949494"/><rect x="403" y="253" width="10.5" height="10.5" fill="#808080"/><rect x="413" y="253" width="10.5" height="10.5" fill="#808080"/><rect x="423" y="253" width="10.5" height="10.5" fill="#747474"/><rect x="433" y="253" width="10.5" height="10.5" fill="#747474"/><rect x="283" y="263" width="10.5" height="10.5" fill="#949494"/><rect x="293" y="263" width="10.5" height="10.5" fill="#949494"/><rect x="303" y="263" width="10.5" height="10.5" fill="#949494"/><rect x="313" y="263" width="10.5" height="10.5" fill="#808080"/><rect x="323" y="263" width="10.5" height="10.5" fill="#949494"/><rect x="333" y="263" width="10.5" height="10.5" fill="#808080"/><rect x="343" y="263" width="10.5" height="10.5" fill="#747474"/><rect x="353" y="263" width="10.5" height="10.5" fill="#808080"/><rect x="363" y="263" width="10.5" height="10.5" fill="#5c5c5c"/><rect x="373" y="263" width="10.5" height="10.5" fill="#747474"/><rect x="383" y="263" width="10.5" height="10.5" fill="#747474"/><rect x="393" y="263" width="10.5" height="10.5" fill="#808080"/><rect x="403" y="263" width="10.5" height="10.5" fill="#808080"/><rect x="413" y="263" width="10.5" height="10.5" fill="#808080"/><rect x="423" y="263" width="10.5" height="10.5" fill="#747474"/><rect x="433" y="263" width="10.5" height="10.5" fill="#747474"/><rect x="283" y="273" width="10.5" height="10.5" fill="#949494"/><rect x="293" y="273" width="10.5" height="10.5" fill="#949494"/><rect x="303" y="273" width="10.5" height="10.5" fill="#808080"/><rect x="313" y="273" width="10.5" height="10.5" fill="#747474"/><rect x="323" y="273" width="10.5" height="10.5" fill="#949494"/><rect x="333" y="273" width="10.5" height="10.5" fill="#808080"/><rect x="343" y="273" width="10.5" height="10.5" fill="#747474"/><rect x="353" y="273" width="10.5" height="10.5" fill="#747474"/><rect x="363" y="273" width="10.5" height="10.5" fill="#5c5c5c"/><rect x="373" y="273" width="10.5" height="10.5" fill="#747474"/><rect x="383" y="273" width="10.5" height="10.5" fill="#747474"/><rect x="393" y="273" width="10.5" height="10.5" fill="#747474"/><rect x="403" y="273" width="10.5" height="10.5" fill="#747474"/><rect x="413" y="273" width="10.5" height="10.5" fill="#747474"/><rect x="423" y="273" width="10.5" height="10.5" fill="#747474"/><rect x="433" y="273" width="10.5" height="10.5" fill="#747474"/><rect x="283" y="283" width="10.5" height="10.5" fill="#808080"/><rect x="293" y="283" width="10.5" height="10.5" fill="#808080"/><rect x="303" y="283" width="10.5" height="10.5" fill="#747474"/><rect x="313" y="283" width="10.5" height="10.5" fill="#949494"/><rect x="323" y="283" width="10.5" height="10.5" fill="#949494"/><rect x="333" y="283" width="10.5" height="10.5" fill="#808080"/><rect x="343" y="283" width="10.5" height="10.5" fill="#747474"/><rect x="353" y="283" width="10.5" height="10.5" fill="#5c5c5c"/><rect x="363" y="283" width="10.5" height="10.5" fill="#747474"/><rect x="373" y="283" width="10.5" height="10.5" fill="#747474"/><rect x="383" y="283" width="10.5" height="10.5" fill="#747474"/><rect x="393" y="283" width="10.5" height="10.5" fill="#747474"/><rect x="403" y="283" width="10.5" height="10.5" fill="#5c5c5c"/><rect x="413" y="283" width="10.5" height="10.5" fill="#747474"/><rect x="423" y="283" width="10.5" height="10.5" fill="#747474"/><rect x="433" y="283" width="10.5" height="10.5" fill="#747474"/><rect x="283" y="293" width="10.5" height="10.5" fill="#747474"/><rect x="293" y="293" width="10.5" height="10.5" fill="#747474"/><rect x="303" y="293" width="10.5" height="10.5" fill="#949494"/><rect x="313" y="293" width="10.5" height="10.5" fill="#949494"/><rect x="323" y="293" width="10.5" height="10.5" fill="#949494"/><rect x="333" y="293" width="10.5" height="10.5" fill="#808080"/><rect x="343" y="293" width="10.5" height="10.5" fill="#747474"/><rect x="353" y="293" width="10.5" height="10.5" fill="#747474"/><rect x="363" y="293" width="10.5" height="10.5" fill="#747474"/><rect x="373" y="293" width="10.5" height="10.5" fill="#747474"/><rect x="383" y="293" width="10.5" height="10.5" fill="#5c5c5c"/><rect x="393" y="293" width="10.5" height="10.5" fill="#747474"/><rect x="403" y="293" width="10.5" height="10.5" fill="#747474"/><rect x="413" y="293" width="10.5" height="10.5" fill="#747474"/><rect x="423" y="293" width="10.5" height="10.5" fill="#808080"/><rect x="433" y="293" width="10.5" height="10.5" fill="#808080"/><rect x="283" y="303" width="10.5" height="10.5" fill="#949494"/><rect x="293" y="303" width="10.5" height="10.5" fill="#949494"/><rect x="303" y="303" width="10.5" height="10.5" fill="#949494"/><rect x="313" y="303" width="10.5" height="10.5" fill="#949494"/><rect x="323" y="303" width="10.5" height="10.5" fill="#747474"/><rect x="333" y="303" width="10.5" height="10.5" fill="#747474"/><rect x="343" y="303" width="10.5" height="10.5" fill="#808080"/><rect x="353" y="303" width="10.5" height="10.5" fill="#949494"/><rect x="363" y="303" width="10.5" height="10.5" fill="#808080"/><rect x="373" y="303" width="10.5" height="10.5" fill="#747474"/><rect x="383" y="303" width="10.5" height="10.5" fill="#747474"/><rect x="393" y="303" width="10.5" height="10.5" fill="#747474"/><rect x="403" y="303" width="10.5" height="10.5" fill="#747474"/><rect x="413" y="303" width="10.5" height="10.5" fill="#808080"/><rect x="423" y="303" width="10.5" height="10.5" fill="#747474"/><rect x="433" y="303" width="10.5" height="10.5" fill="#747474"/><rect x="283" y="313" width="10.5" height="10.5" fill="#949494"/><rect x="293" y="313" width="10.5" height="10.5" fill="#949494"/><rect x="303" y="313" width="10.5" height="10.5" fill="#949494"/><rect x="313" y="313" width="10.5" height="10.5" fill="#949494"/><rect x="323" y="313" width="10.5" height="10.5" fill="#747474"/><rect x="333" y="313" width="10.5" height="10.5" fill="#747474"/><rect x="343" y="313" width="10.5" height="10.5" fill="#808080"/><rect x="353" y="313" width="10.5" height="10.5" fill="#949494"/><rect x="363" y="313" width="10.5" height="10.5" fill="#808080"/><rect x="373" y="313" width="10.5" height="10.5" fill="#747474"/><rect x="383" y="313" width="10.5" height="10.5" fill="#747474"/><rect x="393" y="313" width="10.5" height="10.5" fill="#747474"/><rect x="403" y="313" width="10.5" height="10.5" fill="#747474"/><rect x="413" y="313" width="10.5" height="10.5" fill="#808080"/><rect x="423" y="313" width="10.5" height="10.5" fill="#747474"/><rect x="433" y="313" width="10.5" height="10.5" fill="#747474"/><polygon points="403.1,261.5 402.8,262.9 402.0,264.0 400.9,264.8 399.5,265.1 398.1,264.8 397.0,264.0 396.2,262.9 395.9,261.5 396.2,260.1 397.0,259.0 398.1,258.2 399.5,257.9 400.9,258.2 402.0,259.0 402.8,260.1" fill="#bdbdbd"/></g></g></g>
</g>
<g transform="matrix(1.00000 0 0 1.00000 420.900 389.900)"><use href="#map"/></g>
<text x="584.2" y="503.1" font-size="13.2" font-weight="bold" fill="#262626" stroke="#262626" stroke-width="0.25" text-anchor="end" textLength="16.6" lengthAdjust="spacingAndGlyphs">48</text>
<ellipse cx="588.9" cy="489.8" rx="1.55" ry="1.2" fill="none" stroke="#262626" stroke-width="0.85"/>
<text x="596.9" y="503.1" font-size="13.2" font-weight="bold" fill="#262626" stroke="#262626" stroke-width="0.25" textLength="9.2" lengthAdjust="spacingAndGlyphs">N</text>
<text x="584.2" y="521.4" font-size="13.2" font-weight="bold" fill="#262626" stroke="#262626" stroke-width="0.25" text-anchor="end" textLength="16.6" lengthAdjust="spacingAndGlyphs">46</text>
<ellipse cx="588.9" cy="508.1" rx="1.55" ry="1.2" fill="none" stroke="#262626" stroke-width="0.85"/>
<text x="596.9" y="521.4" font-size="13.2" font-weight="bold" fill="#262626" stroke="#262626" stroke-width="0.25" textLength="9.2" lengthAdjust="spacingAndGlyphs">N</text>
<text x="584.2" y="539.1" font-size="13.2" font-weight="bold" fill="#262626" stroke="#262626" stroke-width="0.25" text-anchor="end" textLength="16.6" lengthAdjust="spacingAndGlyphs">44</text>
<ellipse cx="588.9" cy="525.8" rx="1.55" ry="1.2" fill="none" stroke="#262626" stroke-width="0.85"/>
<text x="596.9" y="539.1" font-size="13.2" font-weight="bold" fill="#262626" stroke="#262626" stroke-width="0.25" textLength="9.2" lengthAdjust="spacingAndGlyphs">N</text>
<text x="584.2" y="556.2" font-size="13.2" font-weight="bold" fill="#262626" stroke="#262626" stroke-width="0.25" text-anchor="end" textLength="16.6" lengthAdjust="spacingAndGlyphs">42</text>
<ellipse cx="588.9" cy="542.9" rx="1.55" ry="1.2" fill="none" stroke="#262626" stroke-width="0.85"/>
<text x="596.9" y="556.2" font-size="13.2" font-weight="bold" fill="#262626" stroke="#262626" stroke-width="0.25" textLength="9.2" lengthAdjust="spacingAndGlyphs">N</text>
<text x="584.2" y="572.7" font-size="13.2" font-weight="bold" fill="#262626" stroke="#262626" stroke-width="0.25" text-anchor="end" textLength="16.6" lengthAdjust="spacingAndGlyphs">40</text>
<ellipse cx="588.9" cy="559.4" rx="1.55" ry="1.2" fill="none" stroke="#262626" stroke-width="0.85"/>
<text x="596.9" y="572.7" font-size="13.2" font-weight="bold" fill="#262626" stroke="#262626" stroke-width="0.25" textLength="9.2" lengthAdjust="spacingAndGlyphs">N</text>
<text x="584.2" y="588.8" font-size="13.2" font-weight="bold" fill="#262626" stroke="#262626" stroke-width="0.25" text-anchor="end" textLength="16.6" lengthAdjust="spacingAndGlyphs">38</text>
<ellipse cx="588.9" cy="575.5" rx="1.55" ry="1.2" fill="none" stroke="#262626" stroke-width="0.85"/>
<text x="596.9" y="588.8" font-size="13.2" font-weight="bold" fill="#262626" stroke="#262626" stroke-width="0.25" textLength="9.2" lengthAdjust="spacingAndGlyphs">N</text>
<text x="584.2" y="604.5" font-size="13.2" font-weight="bold" fill="#262626" stroke="#262626" stroke-width="0.25" text-anchor="end" textLength="16.6" lengthAdjust="spacingAndGlyphs">36</text>
<ellipse cx="588.9" cy="591.2" rx="1.55" ry="1.2" fill="none" stroke="#262626" stroke-width="0.85"/>
<text x="596.9" y="604.5" font-size="13.2" font-weight="bold" fill="#262626" stroke="#262626" stroke-width="0.25" textLength="9.2" lengthAdjust="spacingAndGlyphs">N</text>
<text x="584.2" y="619.7" font-size="13.2" font-weight="bold" fill="#262626" stroke="#262626" stroke-width="0.25" text-anchor="end" textLength="16.6" lengthAdjust="spacingAndGlyphs">34</text>
<ellipse cx="588.9" cy="606.4" rx="1.55" ry="1.2" fill="none" stroke="#262626" stroke-width="0.85"/>
<text x="596.9" y="619.7" font-size="13.2" font-weight="bold" fill="#262626" stroke="#262626" stroke-width="0.25" textLength="9.2" lengthAdjust="spacingAndGlyphs">N</text>
<text x="584.2" y="634.6" font-size="13.2" font-weight="bold" fill="#262626" stroke="#262626" stroke-width="0.25" text-anchor="end" textLength="16.6" lengthAdjust="spacingAndGlyphs">32</text>
<ellipse cx="588.9" cy="621.3" rx="1.55" ry="1.2" fill="none" stroke="#262626" stroke-width="0.85"/>
<text x="596.9" y="634.6" font-size="13.2" font-weight="bold" fill="#262626" stroke="#262626" stroke-width="0.25" textLength="9.2" lengthAdjust="spacingAndGlyphs">N</text>
<text x="584.2" y="649.2" font-size="13.2" font-weight="bold" fill="#262626" stroke="#262626" stroke-width="0.25" text-anchor="end" textLength="16.6" lengthAdjust="spacingAndGlyphs">30</text>
<ellipse cx="588.9" cy="635.9" rx="1.55" ry="1.2" fill="none" stroke="#262626" stroke-width="0.85"/>
<text x="596.9" y="649.2" font-size="13.2" font-weight="bold" fill="#262626" stroke="#262626" stroke-width="0.25" textLength="9.2" lengthAdjust="spacingAndGlyphs">N</text>
<text x="584.2" y="663.5" font-size="13.2" font-weight="bold" fill="#262626" stroke="#262626" stroke-width="0.25" text-anchor="end" textLength="16.6" lengthAdjust="spacingAndGlyphs">28</text>
<ellipse cx="588.9" cy="650.2" rx="1.55" ry="1.2" fill="none" stroke="#262626" stroke-width="0.85"/>
<text x="596.9" y="663.5" font-size="13.2" font-weight="bold" fill="#262626" stroke="#262626" stroke-width="0.25" textLength="9.2" lengthAdjust="spacingAndGlyphs">N</text>
<text x="584.2" y="677.5" font-size="13.2" font-weight="bold" fill="#262626" stroke="#262626" stroke-width="0.25" text-anchor="end" textLength="16.6" lengthAdjust="spacingAndGlyphs">26</text>
<ellipse cx="588.9" cy="664.2" rx="1.55" ry="1.2" fill="none" stroke="#262626" stroke-width="0.85"/>
<text x="596.9" y="677.5" font-size="13.2" font-weight="bold" fill="#262626" stroke="#262626" stroke-width="0.25" textLength="9.2" lengthAdjust="spacingAndGlyphs">N</text>
<text x="584.2" y="691.3" font-size="13.2" font-weight="bold" fill="#262626" stroke="#262626" stroke-width="0.25" text-anchor="end" textLength="16.6" lengthAdjust="spacingAndGlyphs">24</text>
<ellipse cx="588.9" cy="678.0" rx="1.55" ry="1.2" fill="none" stroke="#262626" stroke-width="0.85"/>
<text x="596.9" y="691.3" font-size="13.2" font-weight="bold" fill="#262626" stroke="#262626" stroke-width="0.25" textLength="9.2" lengthAdjust="spacingAndGlyphs">N</text>
<text x="584.2" y="704.9" font-size="13.2" font-weight="bold" fill="#262626" stroke="#262626" stroke-width="0.25" text-anchor="end" textLength="16.6" lengthAdjust="spacingAndGlyphs">22</text>
<ellipse cx="588.9" cy="691.6" rx="1.55" ry="1.2" fill="none" stroke="#262626" stroke-width="0.85"/>
<text x="596.9" y="704.9" font-size="13.2" font-weight="bold" fill="#262626" stroke="#262626" stroke-width="0.25" textLength="9.2" lengthAdjust="spacingAndGlyphs">N</text>
<text x="661.2" y="466.8" font-size="13.2" font-weight="bold" fill="#262626" stroke="#262626" stroke-width="0.25" text-anchor="end" textLength="24.4" lengthAdjust="spacingAndGlyphs">100</text>
<ellipse cx="665.9" cy="454.4" rx="1.55" ry="1.2" fill="none" stroke="#262626" stroke-width="0.85"/>
<text x="674.2" y="466.8" font-size="13.2" font-weight="bold" fill="#262626" stroke="#262626" stroke-width="0.25" textLength="12.6" lengthAdjust="spacingAndGlyphs">W</text>
<text x="721.5" y="466.8" font-size="13.2" font-weight="bold" fill="#262626" stroke="#262626" stroke-width="0.25" text-anchor="end" textLength="15.9" lengthAdjust="spacingAndGlyphs">90</text>
<ellipse cx="725.8" cy="454.4" rx="1.55" ry="1.2" fill="none" stroke="#262626" stroke-width="0.85"/>
<text x="734.5" y="466.8" font-size="13.2" font-weight="bold" fill="#262626" stroke="#262626" stroke-width="0.25" textLength="12.6" lengthAdjust="spacingAndGlyphs">W</text>
<text x="785.4" y="466.8" font-size="13.2" font-weight="bold" fill="#262626" stroke="#262626" stroke-width="0.25" text-anchor="end" textLength="15.9" lengthAdjust="spacingAndGlyphs">80</text>
<ellipse cx="790.6" cy="454.4" rx="1.55" ry="1.2" fill="none" stroke="#262626" stroke-width="0.85"/>
<text x="798.1" y="466.8" font-size="13.2" font-weight="bold" fill="#262626" stroke="#262626" stroke-width="0.25" textLength="12.6" lengthAdjust="spacingAndGlyphs">W</text>
<text x="848.4" y="466.8" font-size="13.2" font-weight="bold" fill="#262626" stroke="#262626" stroke-width="0.25" text-anchor="end" textLength="15.9" lengthAdjust="spacingAndGlyphs">70</text>
<ellipse cx="852.9" cy="454.4" rx="1.55" ry="1.2" fill="none" stroke="#262626" stroke-width="0.85"/>
<text x="860.9" y="466.8" font-size="13.2" font-weight="bold" fill="#262626" stroke="#262626" stroke-width="0.25" textLength="12.6" lengthAdjust="spacingAndGlyphs">W</text>
<rect x="862.2" y="485.2" width="23.4" height="215.3" fill="url(#jet)" stroke="#111" stroke-width="0.8"/>
<line x1="883.1" y1="689.8" x2="885.6" y2="689.8" stroke="#262626" stroke-width="0.6"/>
<text x="894.8" y="697.0" font-size="22.5" font-weight="bold" fill="#262626" stroke="#262626" stroke-width="0.35" textLength="20.6" lengthAdjust="spacingAndGlyphs">-4</text>
<line x1="883.1" y1="641.3" x2="885.6" y2="641.3" stroke="#262626" stroke-width="0.6"/>
<text x="894.8" y="648.5" font-size="22.5" font-weight="bold" fill="#262626" stroke="#262626" stroke-width="0.35" textLength="20.6" lengthAdjust="spacingAndGlyphs">-2</text>
<line x1="883.1" y1="592.9" x2="885.6" y2="592.9" stroke="#262626" stroke-width="0.6"/>
<text x="894.8" y="600.1" font-size="22.5" font-weight="bold" fill="#262626" stroke="#262626" stroke-width="0.35" textLength="12.3" lengthAdjust="spacingAndGlyphs">0</text>
<line x1="883.1" y1="544.4" x2="885.6" y2="544.4" stroke="#262626" stroke-width="0.6"/>
<text x="894.8" y="551.6" font-size="22.5" font-weight="bold" fill="#262626" stroke="#262626" stroke-width="0.35" textLength="12.3" lengthAdjust="spacingAndGlyphs">2</text>
<line x1="883.1" y1="495.9" x2="885.6" y2="495.9" stroke="#262626" stroke-width="0.6"/>
<text x="894.8" y="503.1" font-size="22.5" font-weight="bold" fill="#262626" stroke="#262626" stroke-width="0.35" textLength="12.3" lengthAdjust="spacingAndGlyphs">4</text>
<text x="550.7" y="731.3" font-size="23.2" font-weight="bold" fill="#262626" stroke="#262626" stroke-width="0.35" textLength="356.2" lengthAdjust="spacingAndGlyphs">SAT-RAP 700 hPa MR (g/kg)</text>
<rect x="1037.1" y="485.29999999999995" width="235.4" height="214.9" fill="none" stroke="#000" stroke-width="1"/>
<g transform="matrix(1.00641 0 0 1.00939 840.246 387.893)">
<clipPath id="sw6"><polygon points="431.8,176.5 405.0,180.0 377.0,185.1 358.3,189.8 339.7,194.5 321.0,199.1 307.0,203.8 297.7,208.5 294.6,212.5 294.3,221.0 296.0,232.0 299.0,243.0 303.5,249.0 307.5,254.0 310.7,261.7 316.3,273.8 321.0,285.0 323.8,295.3 327.5,308.3 332.2,312.0 432.5,312.0"/></clipPath><clipPath id="mk6"><polygon points="296.0,243.0 303.5,249.0 307.5,254.0 310.7,261.7 316.3,273.8 321.0,285.0 323.8,295.3 327.5,308.3 332.2,312.0 432.5,312.0 432.5,265.0 424.6,261.0 414.3,257.5 405.0,257.5 395.7,257.5 386.3,256.5 378.0,255.5 377.0,249.0 376.0,243.0 360.0,242.0 345.0,244.0 330.0,243.0 315.0,243.0"/><polygon points="359.5,242.0 365.5,234.7 374.0,228.8 380.7,223.4 387.5,222.3 392.6,225.4 394.5,230.0 394.0,235.6 388.4,238.5 382.4,242.3 377.8,246.0 377.3,250.0 376.5,255.5 369.7,256.0 362.0,256.0"/><polygon points="327.5,229.0 330.3,223.4 339.7,218.7 349.0,216.9 358.3,215.5 367.7,216.5 372.3,221.0 376.0,226.0 372.0,234.0 365.0,238.0 358.0,239.0 350.0,238.0 342.0,237.0 335.0,237.0 330.0,233.0"/><polygon points="303.5,238.0 308.0,234.5 318.0,234.0 328.0,235.0 333.0,238.0 333.0,244.0 304.0,244.0"/></clipPath><g clip-path="url(#sw6)"><g clip-path="url(#mk6)"><g filter="url(#blr)"><rect x="283" y="163" width="10.5" height="10.5" fill="#333333"/><rect x="293" y="163" width="10.5" height="10.5" fill="#333333"/><rect x="303" y="163" width="10.5" height="10.5" fill="#333333"/><rect x="313" y="163" width="10.5" height="10.5" fill="#333333"/><rect x="323" y="163" width="10.5" height="10.5" fill="#333333"/><rect x="333" y="163" width="10.5" height="10.5" fill="#333333"/><rect x="343" y="163" width="10.5" height="10.5" fill="#333333"/><rect x="353" y="163" width="10.5" height="10.5" fill="#333333"/><rect x="363" y="163" width="10.5" height="10.5" fill="#333333"/><rect x="373" y="163" width="10.5" height="10.5" fill="#333333"/><rect x="383" y="163" width="10.5" height="10.5" fill="#474747"/><rect x="393" y="163" width="10.5" height="10.5" fill="#333333"/><rect x="403" y="163" width="10.5" height="10.5" fill="#474747"/><rect x="413" y="163" width="10.5" height="10.5" fill="#474747"/><rect x="423" y="163" width="10.5" height="10.5" fill="#5c5c5c"/><rect x="433" y="163" width="10.5" height="10.5" fill="#5c5c5c"/><rect x="283" y="173" width="10.5" height="10.5" fill="#333333"/><rect x="293" y="173" width="10.5" height="10.5" fill="#333333"/><rect x="303" y="173" width="10.5" height="10.5" fill="#333333"/><rect x="313" y="173" width="10.5" height="10.5" fill="#333333"/><rect x="323" y="173" width="10.5" height="10.5" fill="#333333"/><rect x="333" y="173" width="10.5" height="10.5" fill="#333333"/><rect x="343" y="173" width="10.5" height="10.5" fill="#333333"/><rect x="353" y="173" width="10.5" height="10.5" fill="#333333"/><rect x="363" y="173" width="10.5" height="10.5" fill="#333333"/><rect x="373" y="173" width="10.5" height="10.5" fill="#333333"/><rect x="383" y="173" width="10.5" height="10.5" fill="#474747"/><rect x="393" y="173" width="10.5" height="10.5" fill="#333333"/><rect x="403" y="173" width="10.5" height="10.5" fill="#474747"/><rect x="413" y="173" width="10.5" height="10.5" fill="#474747"/><rect x="423" y="173" width="10.5" height="10.5" fill="#5c5c5c"/><rect x="433" y="173" width="10.5" height="10.5" fill="#5c5c5c"/><rect x="283" y="183" width="10.5" height="10.5" fill="#333333"/><rect x="293" y="183" width="10.5" height="10.5" fill="#333333"/><rect x="303" y="183" width="10.5" height="10.5" fill="#333333"/><rect x="313" y="183" width="10.5" height="10.5" fill="#333333"/><rect x="323" y="183" width="10.5" height="10.5" fill="#333333"/><rect x="333" y="183" width="10.5" height="10.5" fill="#333333"/><rect x="343" y="183" width="10.5" height="10.5" fill="#333333"/><rect x="353" y="183" width="10.5" height="10.5" fill="#333333"/><rect x="363" y="183" width="10.5" height="10.5" fill="#333333"/><rect x="373" y="183" width="10.5" height="10.5" fill="#474747"/><rect x="383" y="183" width="10.5" height="10.5" fill="#333333"/><rect x="393" y="183" width="10.5" height="10.5" fill="#474747"/><rect x="403" y="183" width="10.5" height="10.5" fill="#474747"/><rect x="413" y="183" width="10.5" height="10.5" fill="#5c5c5c"/><rect x="423" y="183" width="10.5" height="10.5" fill="#5c5c5c"/><rect x="433" y="183" width="10.5" height="10.5" fill="#5c5c5c"/><rect x="283" y="193" width="10.5" height="10.5" fill="#5c5c5c"/><rect x="293" y="193" width="10.5" height="10.5" fill="#5c5c5c"/><rect x="303" y="193" width="10.5" height="10.5" fill="#333333"/><rect x="313" y="193" width="10.5" height="10.5" fill="#333333"/><rect x="323" y="193" width="10.5" height="10.5" fill="#333333"/><rect x="333" y="193" width="10.5" height="10.5" fill="#333333"/><rect x="343" y="193" width="10.5" height="10.5" fill="#333333"/><rect x="353" y="193" width="10.5" height="10.5" fill="#333333"/><rect x="363" y="193" width="10.5" height="10.5" fill="#474747"/><rect x="373" y="193" width="10.5" height="10.5" fill="#333333"/><rect x="383" y="193" width="10.5" height="10.5" fill="#474747"/><rect x="393" y="193" width="10.5" height="10.5" fill="#474747"/><rect x="403" y="193" width="10.5" height="10.5" fill="#5c5c5c"/><rect x="413" y="193" width="10.5" height="10.5" fill="#5c5c5c"/><rect x="423" y="193" width="10.5" height="10.5" fill="#5c5c5c"/><rect x="433" y="193" width="10.5" height="10.5" fill="#5c5c5c"/><rect x="283" y="203" width="10.5" height="10.5" fill="#5c5c5c"/><rect x="293" y="203" width="10.5" height="10.5" fill="#5c5c5c"/><rect x="303" y="203" width="10.5" height="10.5" fill="#5c5c5c"/><rect x="313" y="203" width="10.5" height="10.5" fill="#333333"/><rect x="323" y="203" width="10.5" height="10.5" fill="#333333"/><rect x="333" y="203" width="10.5" height="10.5" fill="#333333"/><rect x="343" y="203" width="10.5" height="10.5" fill="#333333"/><rect x="353" y="203" width="10.5" height="10.5" fill="#474747"/><rect x="363" y="203" width="10.5" height="10.5" fill="#333333"/><rect x="373" y="203" width="10.5" height="10.5" fill="#474747"/><rect x="383" y="203" width="10.5" height="10.5" fill="#474747"/><rect x="393" y="203" width="10.5" height="10.5" fill="#5c5c5c"/><rect x="403" y="203" width="10.5" height="10.5" fill="#5c5c5c"/><rect x="413" y="203" width="10.5" height="10.5" fill="#5c5c5c"/><rect x="423" y="203" width="10.5" height="10.5" fill="#5c5c5c"/><rect x="433" y="203" width="10.5" height="10.5" fill="#5c5c5c"/><rect x="283" y="213" width="10.5" height="10.5" fill="#5c5c5c"/><rect x="293" y="213" width="10.5" height="10.5" fill="#5c5c5c"/><rect x="303" y="213" width="10.5" height="10.5" fill="#5c5c5c"/><rect x="313" y="213" width="10.5" height="10.5" fill="#5c5c5c"/><rect x="323" y="213" width="10.5" height="10.5" fill="#333333"/><rect x="333" y="213" width="10.5" height="10.5" fill="#333333"/><rect x="343" y="213" width="10.5" height="10.5" fill="#474747"/><rect x="353" y="213" width="10.5" height="10.5" fill="#333333"/><rect x="363" y="213" width="10.5" height="10.5" fill="#474747"/><rect x="373" y="213" width="10.5" height="10.5" fill="#474747"/><rect x="383" y="213" width="10.5" height="10.5" fill="#5c5c5c"/><rect x="393" y="213" width="10.5" height="10.5" fill="#5c5c5c"/><rect x="403" y="213" width="10.5" height="10.5" fill="#5c5c5c"/><rect x="413" y="213" width="10.5" height="10.5" fill="#5c5c5c"/><rect x="423" y="213" width="10.5" height="10.5" fill="#5c5c5c"/><rect x="433" y="213" width="10.5" height="10.5" fill="#5c5c5c"/><rect x="283" y="223" width="10.5" height="10.5" fill="#5c5c5c"/><rect x="293" y="223" width="10.5" height="10.5" fill="#5c5c5c"/><rect x="303" y="223" width="10.5" height="10.5" fill="#5c5c5c"/><rect x="313" y="223" width="10.5" height="10.5" fill="#5c5c5c"/><rect x="323" y="223" width="10.5" height="10.5" fill="#5c5c5c"/><rect x="333" y="223" width="10.5" height="10.5" fill="#5c5c5c"/><rect x="343" y="223" width="10.5" height="10.5" fill="#5c5c5c"/><rect x="353" y="223" width="10.5" height="10.5" fill="#474747"/><rect x="363" y="223" width="10.5" height="10.5" fill="#747474"/><rect x="373" y="223" width="10.5" height="10.5" fill="#5c5c5c"/><rect x="383" y="223" width="10.5" height="10.5" fill="#5c5c5c"/><rect x="393" y="223" width="10.5" height="10.5" fill="#5c5c5c"/><rect x="403" y="223" width="10.5" height="10.5" fill="#5c5c5c"/><rect x="413" y="223" width="10.5" height="10.5" fill="#5c5c5c"/><rect x="423" y="223" width="10.5" height="10.5" fill="#5c5c5c"/><rect x="433" y="223" width="10.5" height="10.5" fill="#5c5c5c"/><rect x="283" y="233" width="10.5" height="10.5" fill="#5c5c5c"/><rect x="293" y="233" width="10.5" height="10.5" fill="#5c5c5c"/><rect x="303" y="233" width="10.5" height="10.5" fill="#5c5c5c"/><rect x="313" y="233" width="10.5" height="10.5" fill="#5c5c5c"/><rect x="323" y="233" width="10.5" height="10.5" fill="#5c5c5c"/><rect x="333" y="233" width="10.5" height="10.5" fill="#5c5c5c"/><rect x="343" y="233" width="10.5" height="10.5" fill="#5c5c5c"/><rect x="353" y="233" width="10.5" height="10.5" fill="#5c5c5c"/><rect x="363" y="233" width="10.5" height="10.5" fill="#474747"/><rect x="373" y="233" width="10.5" height="10.5" fill="#474747"/><rect x="383" y="233" width="10.5" height="10.5" fill="#5c5c5c"/><rect x="393" y="233" width="10.5" height="10.5" fill="#5c5c5c"/><rect x="403" y="233" width="10.5" height="10.5" fill="#5c5c5c"/><rect x="413" y="233" width="10.5" height="10.5" fill="#5c5c5c"/><rect x="423" y="233" width="10.5" height="10.5" fill="#5c5c5c"/><rect x="433" y="233" width="10.5" height="10.5" fill="#5c5c5c"/><rect x="283" y="243" width="10.5" height="10.5" fill="#5c5c5c"/><rect x="293" y="243" width="10.5" height="10.5" fill="#5c5c5c"/><rect x="303" y="243" width="10.5" height="10.5" fill="#5c5c5c"/><rect x="313" y="243" width="10.5" height="10.5" fill="#5c5c5c"/><rect x="323" y="243" width="10.5" height="10.5" fill="#5c5c5c"/><rect x="333" y="243" width="10.5" height="10.5" fill="#333333"/><rect x="343" y="243" width="10.5" height="10.5" fill="#b8b8b8"/><rect x="353" y="243" width="10.5" height="10.5" fill="#cccccc"/><rect x="363" y="243" width="10.5" height="10.5" fill="#5c5c5c"/><rect x="373" y="243" width="10.5" height="10.5" fill="#949494"/><rect x="383" y="243" width="10.5" height="10.5" fill="#474747"/><rect x="393" y="243" width="10.5" height="10.5" fill="#5c5c5c"/><rect x="403" y="243" width="10.5" height="10.5" fill="#5c5c5c"/><rect x="413" y="243" width="10.5" height="10.5" fill="#5c5c5c"/><rect x="423" y="243" width="10.5" height="10.5" fill="#474747"/><rect x="433" y="243" width="10.5" height="10.5" fill="#474747"/><rect x="283" y="253" width="10.5" height="10.5" fill="#5c5c5c"/><rect x="293" y="253" width="10.5" height="10.5" fill="#5c5c5c"/><rect x="303" y="253" width="10.5" height="10.5" fill="#474747"/><rect x="313" y="253" width="10.5" height="10.5" fill="#474747"/><rect x="323" y="253" width="10.5" height="10.5" fill="#474747"/><rect x="333" y="253" width="10.5" height="10.5" fill="#333333"/><rect x="343" y="253" width="10.5" height="10.5" fill="#333333"/><rect x="353" y="253" width="10.5" height="10.5" fill="#949494"/><rect x="363" y="253" width="10.5" height="10.5" fill="#5c5c5c"/><rect x="373" y="253" width="10.5" height="10.5" fill="#333333"/><rect x="383" y="253" width="10.5" height="10.5" fill="#5c5c5c"/><rect x="393" y="253" width="10.5" height="10.5" fill="#5c5c5c"/><rect x="403" y="253" width="10.5" height="10.5" fill="#5c5c5c"/><rect x="413" y="253" width="10.5" height="10.5" fill="#474747"/><rect x="423" y="253" width="10.5" height="10.5" fill="#474747"/><rect x="433" y="253" width="10.5" height="10.5" fill="#474747"/><rect x="283" y="263" width="10.5" height="10.5" fill="#474747"/><rect x="293" y="263" width="10.5" height="10.5" fill="#474747"/><rect x="303" y="263" width="10.5" height="10.5" fill="#474747"/><rect x="313" y="263" width="10.5" height="10.5" fill="#474747"/><rect x="323" y="263" width="10.5" height="10.5" fill="#474747"/><rect x="333" y="263" width="10.5" height="10.5" fill="#333333"/><rect x="343" y="263" width="10.5" height="10.5" fill="#333333"/><rect x="353" y="263" width="10.5" height="10.5" fill="#949494"/><rect x="363" y="263" width="10.5" height="10.5" fill="#5c5c5c"/><rect x="373" y="263" width="10.5" height="10.5" fill="#5c5c5c"/><rect x="383" y="263" width="10.5" height="10.5" fill="#474747"/><rect x="393" y="263" width="10.5" height="10.5" fill="#5c5c5c"/><rect x="403" y="263" width="10.5" height="10.5" fill="#474747"/><rect x="413" y="263" width="10.5" height="10.5" fill="#333333"/><rect x="423" y="263" width="10.5" height="10.5" fill="#333333"/><rect x="433" y="263" width="10.5" height="10.5" fill="#333333"/><rect x="283" y="273" width="10.5" height="10.5" fill="#474747"/><rect x="293" y="273" width="10.5" height="10.5" fill="#474747"/><rect x="303" y="273" width="10.5" height="10.5" fill="#474747"/><rect x="313" y="273" width="10.5" height="10.5" fill="#474747"/><rect x="323" y="273" width="10.5" height="10.5" fill="#474747"/><rect x="333" y="273" width="10.5" height="10.5" fill="#333333"/><rect x="343" y="273" width="10.5" height="10.5" fill="#474747"/><rect x="353" y="273" width="10.5" height="10.5" fill="#949494"/><rect x="363" y="273" width="10.5" height="10.5" fill="#5c5c5c"/><rect x="373" y="273" width="10.5" height="10.5" fill="#5c5c5c"/><rect x="383" y="273" width="10.5" height="10.5" fill="#5c5c5c"/><rect x="393" y="273" width="10.5" height="10.5" fill="#474747"/><rect x="403" y="273" width="10.5" height="10.5" fill="#474747"/><rect x="413" y="273" width="10.5" height="10.5" fill="#333333"/><rect x="423" y="273" width="10.5" height="10.5" fill="#333333"/><rect x="433" y="273" width="10.5" height="10.5" fill="#333333"/><rect x="283" y="283" width="10.5" height="10.5" fill="#474747"/><rect x="293" y="283" width="10.5" height="10.5" fill="#474747"/><rect x="303" y="283" width="10.5" height="10.5" fill="#474747"/><rect x="313" y="283" width="10.5" height="10.5" fill="#474747"/><rect x="323" y="283" width="10.5" height="10.5" fill="#474747"/><rect x="333" y="283" width="10.5" height="10.5" fill="#474747"/><rect x="343" y="283" width="10.5" height="10.5" fill="#474747"/><rect x="353" y="283" width="10.5" height="10.5" fill="#5c5c5c"/><rect x="363" y="283" width="10.5" height="10.5" fill="#747474"/><rect x="373" y="283" width="10.5" height="10.5" fill="#747474"/><rect x="383" y="283" width="10.5" height="10.5" fill="#5c5c5c"/><rect x="393" y="283" width="10.5" height="10.5" fill="#808080"/><rect x="403" y="283" width="10.5" height="10.5" fill="#5c5c5c"/><rect x="413" y="283" width="10.5" height="10.5" fill="#5c5c5c"/><rect x="423" y="283" width="10.5" height="10.5" fill="#474747"/><rect x="433" y="283" width="10.5" height="10.5" fill="#474747"/><rect x="283" y="293" width="10.5" height="10.5" fill="#474747"/><rect x="293" y="293" width="10.5" height="10.5" fill="#474747"/><rect x="303" y="293" width="10.5" height="10.5" fill="#474747"/><rect x="313" y="293" width="10.5" height="10.5" fill="#474747"/><rect x="323" y="293" width="10.5" height="10.5" fill="#474747"/><rect x="333" y="293" width="10.5" height="10.5" fill="#474747"/><rect x="343" y="293" width="10.5" height="10.5" fill="#5c5c5c"/><rect x="353" y="293" width="10.5" height="10.5" fill="#5c5c5c"/><rect x="363" y="293" width="10.5" height="10.5" fill="#747474"/><rect x="373" y="293" width="10.5" height="10.5" fill="#808080"/><rect x="383" y="293" width="10.5" height="10.5" fill="#808080"/><rect x="393" y="293" width="10.5" height="10.5" fill="#808080"/><rect x="403" y="293" width="10.5" height="10.5" fill="#808080"/><rect x="413" y="293" width="10.5" height="10.5" fill="#747474"/><rect x="423" y="293" width="10.5" height="10.5" fill="#474747"/><rect x="433" y="293" width="10.5" height="10.5" fill="#474747"/><rect x="283" y="303" width="10.5" height="10.5" fill="#474747"/><rect x="293" y="303" width="10.5" height="10.5" fill="#474747"/><rect x="303" y="303" width="10.5" height="10.5" fill="#474747"/><rect x="313" y="303" width="10.5" height="10.5" fill="#474747"/><rect x="323" y="303" width="10.5" height="10.5" fill="#5c5c5c"/><rect x="333" y="303" width="10.5" height="10.5" fill="#5c5c5c"/><rect x="343" y="303" width="10.5" height="10.5" fill="#5c5c5c"/><rect x="353" y="303" width="10.5" height="10.5" fill="#5c5c5c"/><rect x="363" y="303" width="10.5" height="10.5" fill="#747474"/><rect x="373" y="303" width="10.5" height="10.5" fill="#808080"/><rect x="383" y="303" width="10.5" height="10.5" fill="#747474"/><rect x="393" y="303" width="10.5" height="10.5" fill="#808080"/><rect x="403" y="303" width="10.5" height="10.5" fill="#808080"/><rect x="413" y="303" width="10.5" height="10.5" fill="#808080"/><rect x="423" y="303" width="10.5" height="10.5" fill="#747474"/><rect x="433" y="303" width="10.5" height="10.5" fill="#747474"/><rect x="283" y="313" width="10.5" height="10.5" fill="#474747"/><rect x="293" y="313" width="10.5" height="10.5" fill="#474747"/><rect x="303" y="313" width="10.5" height="10.5" fill="#474747"/><rect x="313" y="313" width="10.5" height="10.5" fill="#474747"/><rect x="323" y="313" width="10.5" height="10.5" fill="#5c5c5c"/><rect x="333" y="313" width="10.5" height="10.5" fill="#5c5c5c"/><rect x="343" y="313" width="10.5" height="10.5" fill="#5c5c5c"/><rect x="353" y="313" width="10.5" height="10.5" fill="#5c5c5c"/><rect x="363" y="313" width="10.5" height="10.5" fill="#747474"/><rect x="373" y="313" width="10.5" height="10.5" fill="#808080"/><rect x="383" y="313" width="10.5" height="10.5" fill="#747474"/><rect x="393" y="313" width="10.5" height="10.5" fill="#808080"/><rect x="403" y="313" width="10.5" height="10.5" fill="#808080"/><rect x="413" y="313" width="10.5" height="10.5" fill="#808080"/><rect x="423" y="313" width="10.5" height="10.5" fill="#747474"/><rect x="433" y="313" width="10.5" height="10.5" fill="#747474"/></g><circle cx="339" cy="222.8" r="3.6" fill="#0000c8"/><ellipse cx="354.5" cy="307" rx="4.2" ry="2" fill="#9a0000"/><ellipse cx="365" cy="309" rx="2.4" ry="2.6" fill="#9a0000"/></g></g>
</g>
<g transform="matrix(1.00641 0 0 1.00939 840.246 387.893)"><use href="#map"/></g>
<text x="1004.6" y="502.1" font-size="13.2" font-weight="bold" fill="#262626" stroke="#262626" stroke-width="0.25" text-anchor="end" textLength="16.6" lengthAdjust="spacingAndGlyphs">48</text>
<ellipse cx="1009.3" cy="488.8" rx="1.55" ry="1.2" fill="none" stroke="#262626" stroke-width="0.85"/>
<text x="1017.3" y="502.1" font-size="13.2" font-weight="bold" fill="#262626" stroke="#262626" stroke-width="0.25" textLength="9.2" lengthAdjust="spacingAndGlyphs">N</text>
<text x="1004.6" y="520.6" font-size="13.2" font-weight="bold" fill="#262626" stroke="#262626" stroke-width="0.25" text-anchor="end" textLength="16.6" lengthAdjust="spacingAndGlyphs">46</text>
<ellipse cx="1009.3" cy="507.3" rx="1.55" ry="1.2" fill="none" stroke="#262626" stroke-width="0.85"/>
<text x="1017.3" y="520.6" font-size="13.2" font-weight="bold" fill="#262626" stroke="#262626" stroke-width="0.25" textLength="9.2" lengthAdjust="spacingAndGlyphs">N</text>
<text x="1004.6" y="538.4" font-size="13.2" font-weight="bold" fill="#262626" stroke="#262626" stroke-width="0.25" text-anchor="end" textLength="16.6" lengthAdjust="spacingAndGlyphs">44</text>
<ellipse cx="1009.3" cy="525.1" rx="1.55" ry="1.2" fill="none" stroke="#262626" stroke-width="0.85"/>
<text x="1017.3" y="538.4" font-size="13.2" font-weight="bold" fill="#262626" stroke="#262626" stroke-width="0.25" textLength="9.2" lengthAdjust="spacingAndGlyphs">N</text>
<text x="1004.6" y="555.7" font-size="13.2" font-weight="bold" fill="#262626" stroke="#262626" stroke-width="0.25" text-anchor="end" textLength="16.6" lengthAdjust="spacingAndGlyphs">42</text>
<ellipse cx="1009.3" cy="542.4" rx="1.55" ry="1.2" fill="none" stroke="#262626" stroke-width="0.85"/>
<text x="1017.3" y="555.7" font-size="13.2" font-weight="bold" fill="#262626" stroke="#262626" stroke-width="0.25" textLength="9.2" lengthAdjust="spacingAndGlyphs">N</text>
<text x="1004.6" y="572.4" font-size="13.2" font-weight="bold" fill="#262626" stroke="#262626" stroke-width="0.25" text-anchor="end" textLength="16.6" lengthAdjust="spacingAndGlyphs">40</text>
<ellipse cx="1009.3" cy="559.1" rx="1.55" ry="1.2" fill="none" stroke="#262626" stroke-width="0.85"/>
<text x="1017.3" y="572.4" font-size="13.2" font-weight="bold" fill="#262626" stroke="#262626" stroke-width="0.25" textLength="9.2" lengthAdjust="spacingAndGlyphs">N</text>
<text x="1004.6" y="588.6" font-size="13.2" font-weight="bold" fill="#262626" stroke="#262626" stroke-width="0.25" text-anchor="end" textLength="16.6" lengthAdjust="spacingAndGlyphs">38</text>
<ellipse cx="1009.3" cy="575.3" rx="1.55" ry="1.2" fill="none" stroke="#262626" stroke-width="0.85"/>
<text x="1017.3" y="588.6" font-size="13.2" font-weight="bold" fill="#262626" stroke="#262626" stroke-width="0.25" textLength="9.2" lengthAdjust="spacingAndGlyphs">N</text>
<text x="1004.6" y="604.4" font-size="13.2" font-weight="bold" fill="#262626" stroke="#262626" stroke-width="0.25" text-anchor="end" textLength="16.6" lengthAdjust="spacingAndGlyphs">36</text>
<ellipse cx="1009.3" cy="591.1" rx="1.55" ry="1.2" fill="none" stroke="#262626" stroke-width="0.85"/>
<text x="1017.3" y="604.4" font-size="13.2" font-weight="bold" fill="#262626" stroke="#262626" stroke-width="0.25" textLength="9.2" lengthAdjust="spacingAndGlyphs">N</text>
<text x="1004.6" y="619.8" font-size="13.2" font-weight="bold" fill="#262626" stroke="#262626" stroke-width="0.25" text-anchor="end" textLength="16.6" lengthAdjust="spacingAndGlyphs">34</text>
<ellipse cx="1009.3" cy="606.5" rx="1.55" ry="1.2" fill="none" stroke="#262626" stroke-width="0.85"/>
<text x="1017.3" y="619.8" font-size="13.2" font-weight="bold" fill="#262626" stroke="#262626" stroke-width="0.25" textLength="9.2" lengthAdjust="spacingAndGlyphs">N</text>
<text x="1004.6" y="634.9" font-size="13.2" font-weight="bold" fill="#262626" stroke="#262626" stroke-width="0.25" text-anchor="end" textLength="16.6" lengthAdjust="spacingAndGlyphs">32</text>
<ellipse cx="1009.3" cy="621.6" rx="1.55" ry="1.2" fill="none" stroke="#262626" stroke-width="0.85"/>
<text x="1017.3" y="634.9" font-size="13.2" font-weight="bold" fill="#262626" stroke="#262626" stroke-width="0.25" textLength="9.2" lengthAdjust="spacingAndGlyphs">N</text>
<text x="1004.6" y="649.6" font-size="13.2" font-weight="bold" fill="#262626" stroke="#262626" stroke-width="0.25" text-anchor="end" textLength="16.6" lengthAdjust="spacingAndGlyphs">30</text>
<ellipse cx="1009.3" cy="636.3" rx="1.55" ry="1.2" fill="none" stroke="#262626" stroke-width="0.85"/>
<text x="1017.3" y="649.6" font-size="13.2" font-weight="bold" fill="#262626" stroke="#262626" stroke-width="0.25" textLength="9.2" lengthAdjust="spacingAndGlyphs">N</text>
<text x="1004.6" y="664.0" font-size="13.2" font-weight="bold" fill="#262626" stroke="#262626" stroke-width="0.25" text-anchor="end" textLength="16.6" lengthAdjust="spacingAndGlyphs">28</text>
<ellipse cx="1009.3" cy="650.7" rx="1.55" ry="1.2" fill="none" stroke="#262626" stroke-width="0.85"/>
<text x="1017.3" y="664.0" font-size="13.2" font-weight="bold" fill="#262626" stroke="#262626" stroke-width="0.25" textLength="9.2" lengthAdjust="spacingAndGlyphs">N</text>
<text x="1004.6" y="678.2" font-size="13.2" font-weight="bold" fill="#262626" stroke="#262626" stroke-width="0.25" text-anchor="end" textLength="16.6" lengthAdjust="spacingAndGlyphs">26</text>
<ellipse cx="1009.3" cy="664.9" rx="1.55" ry="1.2" fill="none" stroke="#262626" stroke-width="0.85"/>
<text x="1017.3" y="678.2" font-size="13.2" font-weight="bold" fill="#262626" stroke="#262626" stroke-width="0.25" textLength="9.2" lengthAdjust="spacingAndGlyphs">N</text>
<text x="1004.6" y="692.1" font-size="13.2" font-weight="bold" fill="#262626" stroke="#262626" stroke-width="0.25" text-anchor="end" textLength="16.6" lengthAdjust="spacingAndGlyphs">24</text>
<ellipse cx="1009.3" cy="678.8" rx="1.55" ry="1.2" fill="none" stroke="#262626" stroke-width="0.85"/>
<text x="1017.3" y="692.1" font-size="13.2" font-weight="bold" fill="#262626" stroke="#262626" stroke-width="0.25" textLength="9.2" lengthAdjust="spacingAndGlyphs">N</text>
<text x="1004.6" y="705.8" font-size="13.2" font-weight="bold" fill="#262626" stroke="#262626" stroke-width="0.25" text-anchor="end" textLength="16.6" lengthAdjust="spacingAndGlyphs">22</text>
<ellipse cx="1009.3" cy="692.5" rx="1.55" ry="1.2" fill="none" stroke="#262626" stroke-width="0.85"/>
<text x="1017.3" y="705.8" font-size="13.2" font-weight="bold" fill="#262626" stroke="#262626" stroke-width="0.25" textLength="9.2" lengthAdjust="spacingAndGlyphs">N</text>
<text x="1082.1" y="465.7" font-size="13.2" font-weight="bold" fill="#262626" stroke="#262626" stroke-width="0.25" text-anchor="end" textLength="24.4" lengthAdjust="spacingAndGlyphs">100</text>
<ellipse cx="1086.8" cy="453.3" rx="1.55" ry="1.2" fill="none" stroke="#262626" stroke-width="0.85"/>
<text x="1095.2" y="465.7" font-size="13.2" font-weight="bold" fill="#262626" stroke="#262626" stroke-width="0.25" textLength="12.6" lengthAdjust="spacingAndGlyphs">W</text>
<text x="1142.8" y="465.7" font-size="13.2" font-weight="bold" fill="#262626" stroke="#262626" stroke-width="0.25" text-anchor="end" textLength="15.9" lengthAdjust="spacingAndGlyphs">90</text>
<ellipse cx="1147.1" cy="453.3" rx="1.55" ry="1.2" fill="none" stroke="#262626" stroke-width="0.85"/>
<text x="1155.9" y="465.7" font-size="13.2" font-weight="bold" fill="#262626" stroke="#262626" stroke-width="0.25" textLength="12.6" lengthAdjust="spacingAndGlyphs">W</text>
<text x="1207.1" y="465.7" font-size="13.2" font-weight="bold" fill="#262626" stroke="#262626" stroke-width="0.25" text-anchor="end" textLength="15.9" lengthAdjust="spacingAndGlyphs">80</text>
<ellipse cx="1212.3" cy="453.3" rx="1.55" ry="1.2" fill="none" stroke="#262626" stroke-width="0.85"/>
<text x="1219.9" y="465.7" font-size="13.2" font-weight="bold" fill="#262626" stroke="#262626" stroke-width="0.25" textLength="12.6" lengthAdjust="spacingAndGlyphs">W</text>
<text x="1270.5" y="465.7" font-size="13.2" font-weight="bold" fill="#262626" stroke="#262626" stroke-width="0.25" text-anchor="end" textLength="15.9" lengthAdjust="spacingAndGlyphs">70</text>
<ellipse cx="1275.0" cy="453.3" rx="1.55" ry="1.2" fill="none" stroke="#262626" stroke-width="0.85"/>
<text x="1283.1" y="465.7" font-size="13.2" font-weight="bold" fill="#262626" stroke="#262626" stroke-width="0.25" textLength="12.6" lengthAdjust="spacingAndGlyphs">W</text>
<rect x="1285.2" y="485.2" width="23.5" height="215.3" fill="url(#jet)" stroke="#111" stroke-width="0.8"/>
<line x1="1306.2" y1="682.9" x2="1308.7" y2="682.9" stroke="#262626" stroke-width="0.6"/>
<text x="1317.9" y="690.1" font-size="22.5" font-weight="bold" fill="#262626" stroke="#262626" stroke-width="0.35" textLength="43.9" lengthAdjust="spacingAndGlyphs">-0.5</text>
<line x1="1306.2" y1="592.9" x2="1308.7" y2="592.9" stroke="#262626" stroke-width="0.6"/>
<text x="1317.9" y="600.1" font-size="22.5" font-weight="bold" fill="#262626" stroke="#262626" stroke-width="0.35" textLength="12.3" lengthAdjust="spacingAndGlyphs">0</text>
<line x1="1306.2" y1="502.8" x2="1308.7" y2="502.8" stroke="#262626" stroke-width="0.6"/>
<text x="1317.9" y="510.0" font-size="22.5" font-weight="bold" fill="#262626" stroke="#262626" stroke-width="0.35" textLength="35.2" lengthAdjust="spacingAndGlyphs">0.5</text>
<text x="972.0" y="731.6" font-size="23.2" font-weight="bold" fill="#262626" stroke="#262626" stroke-width="0.35" textLength="356.3" lengthAdjust="spacingAndGlyphs">SAT-RAP 500 hPa MR (g/kg)</text>
</svg></body></html>
